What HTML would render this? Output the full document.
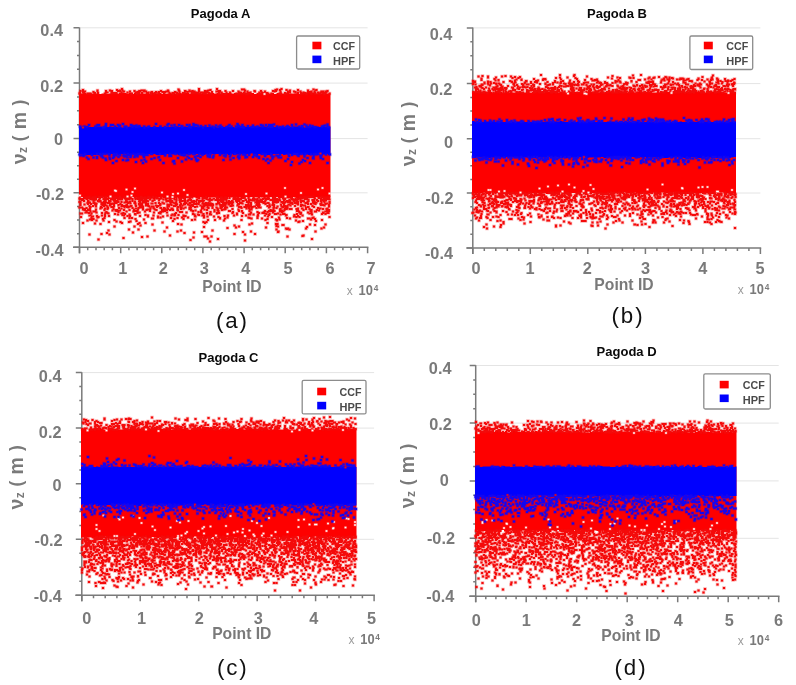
<!DOCTYPE html>
<html><head><meta charset="utf-8"><title>Pagoda residuals</title>
<style>
html,body{margin:0;padding:0;background:#fff;}
body{width:796px;height:685px;overflow:hidden;}
svg{display:block;font-family:"Liberation Sans",sans-serif;}
</style></head><body>
<svg width="796" height="685" viewBox="0 0 796 685">
<defs><filter id="aa" x="0" y="0" width="100%" height="100%" filterUnits="userSpaceOnUse"><feOffset dx="0" dy="0"/></filter></defs>
<rect width="796" height="685" fill="#fff"/>
<g filter="url(#aa)">
<g id="pA">
<line x1="79.5" y1="27.8" x2="367.6" y2="27.8" stroke="#e4e4e4" stroke-width="1"/>
<line x1="79.5" y1="83.1" x2="367.6" y2="83.1" stroke="#e4e4e4" stroke-width="1"/>
<line x1="79.5" y1="138.6" x2="367.6" y2="138.6" stroke="#e4e4e4" stroke-width="1"/>
<line x1="79.5" y1="192.8" x2="367.6" y2="192.8" stroke="#e4e4e4" stroke-width="1"/>
<g stroke="#7a7a7a" fill="none">
<line x1="79.5" y1="27.5" x2="79.5" y2="253.3" stroke-width="1.5"/>
<line x1="73.0" y1="247.3" x2="368.4" y2="247.3" stroke-width="1.6"/>
<path d="M73.5 27.8h6.0M73.5 83.1h6.0M73.5 138.6h6.0M73.5 192.8h6.0M73.5 247.3h6.0M77.0 41.6h2.5M77.0 55.5h2.5M77.0 69.3h2.5M77.0 97.0h2.5M77.0 110.8h2.5M77.0 124.7h2.5M77.0 152.2h2.5M77.0 165.7h2.5M77.0 179.2h2.5M77.0 206.4h2.5M77.0 220.1h2.5M77.0 233.7h2.5M79.5 247.3v6.0M87.7 247.3v3.0M96.0 247.3v3.0M104.2 247.3v3.0M112.4 247.3v3.0M120.7 247.3v6.0M128.9 247.3v3.0M137.1 247.3v3.0M145.3 247.3v3.0M153.6 247.3v3.0M161.8 247.3v6.0M170.0 247.3v3.0M178.3 247.3v3.0M186.5 247.3v3.0M194.7 247.3v3.0M202.9 247.3v6.0M211.2 247.3v3.0M219.4 247.3v3.0M227.6 247.3v3.0M235.9 247.3v3.0M244.1 247.3v6.0M252.3 247.3v3.0M260.6 247.3v3.0M268.8 247.3v3.0M277.0 247.3v3.0M285.2 247.3v6.0M293.5 247.3v3.0M301.7 247.3v3.0M309.9 247.3v3.0M318.2 247.3v3.0M326.4 247.3v6.0M334.6 247.3v3.0M342.9 247.3v3.0M351.1 247.3v3.0M359.3 247.3v3.0M367.6 247.3v6.0" stroke-width="1.5"/>
</g>
<g transform="scale(0.5)" fill="none" stroke-linecap="square">
<path d="M158 188V187H163V187H168V186H173V188H178V186H183V187H188V188H193V186H198V188H203V187H208V188H213V188H218V187H223V185H228V187H233V187H238V186H243V185H248V186H253V187H258V185H263V188H268V185H273V187H278V187H283V187H288V187H293V185H298V187H303V186H308V186H313V187H318V186H323V188H328V188H333V187H338V186H343V187H348V187H353V186H358V186H363V187H368V185H373V186H378V187H383V186H388V186H393V185H398V186H403V187H408V185H413V187H418V187H423V186H428V187H433V186H438V188H443V186H448V186H453V186H458V185H463V187H468V186H473V186H478V186H483V186H488V185H493V185H498V186H503V186H508V188H513V186H518V186H523V185H528V185H533V187H538V187H543V186H548V188H553V186H558V187H563V187H568V188H573V186H578V187H583V187H588V187H593V185H598V188H603V186H608V186H613V185H618V185H623V185H628V187H633V187H638V187H643V185H648V185H653V187H658V187H661V394V395H656V395H651V396H646V396H641V395H636V394H631V396H626V395H621V396H616V398H611V397H606V396H601V396H596V397H591V394H586V398H581V397H576V397H571V397H566V396H561V396H556V394H551V397H546V394H541V394H536V395H531V395H526V395H521V394H516V394H511V395H506V394H501V395H496V394H491V397H486V396H481V395H476V395H471V395H466V395H461V394H456V397H451V398H446V396H441V396H436V394H431V394H426V395H421V395H416V397H411V395H406V394H401V398H396V396H391V395H386V396H381V394H376V396H371V398H366V397H361V397H356V395H351V395H346V395H341V397H336V396H331V397H326V395H321V395H316V397H311V398H306V397H301V397H296V397H291V397H286V395H281V396H276V395H271V394H266V394H261V395H256V395H251V397H246V398H241V396H236V398H231V398H226V398H221V395H216V395H211V395H206V395H201V395H196V396H191V398H186V397H181V396H176V397H171V397H166V394H161V397H158Z" fill="#fe0000" stroke="none"/>
<defs><path id="d1" d="M551 180h0M398 178h0M554 179h0M560 180h0M357 179h0M633 180h0M244 178h0M234 180h0M563 178h0M573 180h0M488 179h0M434 178h0M166 180h0M484 179h0M627 179h0M596 180h0M285 181h0M279 182h0M289 181h0M224 182h0M336 181h0M451 182h0M370 182h0M410 182h0M421 180h0M379 181h0M161 182h0M245 181h0M522 182h0M322 182h0M437 182h0M212 182h0M283 181h0M546 182h0M440 182h0M616 181h0M466 182h0M415 182h0M385 182h0M398 182h0M509 182h0M631 181h0M439 182h0M580 181h0M220 181h0M195 181h0M195 182h0M552 182h0M236 182h0M490 181h0M601 183h0M269 182h0M358 181h0M655 182h0M240 181h0M417 181h0M318 184h0M168 184h0M379 183h0M325 184h0M415 183h0M653 184h0M646 183h0M292 183h0M549 183h0M224 184h0M616 184h0M288 183h0M619 184h0M510 183h0M187 184h0M372 183h0M629 184h0M561 183h0M588 183h0M591 184h0M329 184h0M623 183h0M223 184h0M278 183h0M240 183h0M260 183h0M312 184h0M304 184h0M248 183h0M168 183h0M166 184h0M435 183h0M397 185h0M212 184h0M375 184h0M577 183h0M413 184h0M651 183h0M576 184h0M477 183h0M333 183h0M224 183h0M530 183h0M240 183h0M580 185h0M495 183h0M280 183h0M389 183h0M382 183h0M641 185h0M433 183h0M643 183h0M337 183h0M350 184h0M411 183h0M412 183h0M291 183h0M359 183h0M170 183h0M275 184h0M424 184h0M518 187h0M354 186h0M652 185h0M522 187h0M181 187h0M606 187h0M527 187h0M228 186h0M411 187h0M562 187h0M451 188h0M501 187h0M274 185h0M225 186h0M211 187h0M439 187h0M473 187h0M404 185h0M559 187h0M411 186h0M489 185h0M528 186h0M196 186h0M524 185h0M530 188h0M406 186h0M399 187h0M543 187h0M481 185h0M233 186h0M531 186h0M443 185h0M189 186h0M496 187h0M497 186h0M418 186h0M392 185h0M607 185h0M649 188h0M167 186h0M570 188h0M384 186h0M264 188h0M264 187h0M230 186h0M636 185h0M570 186h0M603 187h0M275 188h0M402 185h0M160 186h0M385 186h0M229 186h0M317 187h0M159 187h0M579 185h0M623 187h0M611 186h0M345 186h0M659 187h0M339 186h0M297 185h0M210 187h0M302 188h0M284 186h0M415 185h0M346 188h0M602 187h0M475 188h0M630 186h0M519 185h0M526 186h0M536 187h0M302 185h0M623 185h0M395 186h0M308 187h0M648 186h0M488 186h0M438 186h0M243 185h0M263 188h0M408 185h0M613 188h0M384 185h0M255 185h0M330 185h0M278 186h0M444 187h0M534 186h0M366 186h0M348 186h0M190 186h0M644 185h0M411 187h0M591 185h0M294 186h0M359 186h0M637 187h0M596 185h0M175 187h0M608 186h0M453 185h0M355 188h0M573 187h0M646 186h0M213 185h0M421 187h0M631 187h0M483 187h0M388 186h0M178 187h0M275 188h0M482 186h0M223 186h0M478 187h0M215 185h0M422 187h0M353 185h0M460 185h0M310 186h0M639 187h0M602 186h0M276 186h0M640 187h0M313 185h0M408 187h0M369 186h0M493 188h0M272 185h0M328 186h0M501 185h0M174 395h0M566 396h0M179 394h0M190 396h0M287 396h0M609 395h0M295 396h0M468 395h0M518 395h0M297 394h0M537 396h0M476 396h0M171 395h0M397 396h0M637 395h0M284 395h0M406 396h0M250 396h0M529 396h0M546 395h0M323 395h0M340 396h0M198 394h0M536 395h0M191 394h0M436 395h0M650 396h0M654 395h0M201 394h0M409 396h0M383 395h0M368 395h0M497 396h0M583 396h0M219 396h0M306 395h0M346 396h0M258 395h0M282 394h0M602 395h0M322 395h0M656 395h0M275 396h0M486 396h0M210 395h0M569 396h0M617 394h0M306 394h0M254 396h0M451 396h0M345 396h0M384 395h0M549 396h0M212 395h0M469 395h0M343 394h0M261 395h0M459 396h0M261 394h0M323 396h0M251 395h0M261 396h0M433 394h0M209 395h0M434 396h0M204 394h0M507 395h0M301 395h0M637 395h0M443 395h0M367 396h0M658 395h0M257 396h0M261 394h0M611 395h0M570 395h0M601 395h0M240 394h0M435 396h0M615 394h0M471 395h0M412 394h0M301 395h0M623 394h0M405 396h0M643 394h0M222 396h0M648 395h0M185 396h0M353 396h0M470 396h0M239 396h0M270 395h0M583 396h0M250 395h0M359 395h0M351 394h0M282 396h0M609 394h0M441 396h0M178 396h0M218 395h0M434 396h0M312 395h0M451 395h0M489 395h0M378 394h0M469 395h0M277 396h0M550 395h0M249 395h0M212 394h0M375 394h0M380 395h0M179 396h0M200 396h0M549 395h0M186 395h0M348 396h0M227 396h0M658 396h0M567 394h0M651 395h0M638 396h0M241 396h0M625 394h0M335 396h0M238 396h0M296 396h0M231 395h0M620 394h0M290 395h0M177 397h0M239 399h0M499 399h0M243 399h0M216 398h0M478 398h0M596 398h0M449 399h0M211 400h0M474 398h0M559 397h0M655 398h0M339 399h0M380 397h0M531 397h0M570 397h0M479 400h0M452 399h0M315 396h0M176 397h0M467 398h0M416 399h0M225 397h0M486 396h0M160 398h0M212 398h0M271 398h0M454 397h0M471 398h0M226 399h0M281 397h0M207 398h0M595 399h0M360 397h0M164 398h0M441 398h0M482 398h0M628 399h0M283 399h0M181 398h0M362 397h0M188 399h0M165 398h0M630 397h0M259 398h0M413 398h0M566 397h0M314 397h0M183 399h0M551 399h0M162 399h0M532 398h0M531 398h0M272 397h0M275 397h0M327 399h0M507 399h0M515 397h0M436 398h0M554 398h0M292 398h0M643 397h0M600 396h0M289 397h0M532 399h0M533 397h0M600 397h0M279 399h0M475 399h0M492 400h0M394 399h0M508 399h0M378 399h0M445 397h0M265 398h0M198 399h0M231 396h0M212 399h0M332 397h0M173 397h0M506 398h0M508 399h0M192 398h0M341 399h0M570 399h0M192 399h0M617 399h0M212 397h0M215 397h0M584 399h0M477 399h0M475 397h0M209 397h0M538 397h0M319 398h0M169 397h0M300 399h0M343 397h0M642 398h0M585 398h0M174 398h0M377 399h0M332 399h0M428 397h0M591 397h0M570 397h0M159 397h0M541 400h0M161 398h0M405 399h0M251 398h0M333 399h0M289 399h0M301 397h0M509 398h0M214 398h0M199 399h0M508 399h0M473 398h0M360 398h0M605 397h0M604 396h0M262 397h0M610 398h0M349 399h0M276 398h0M425 399h0M536 398h0M333 397h0M236 399h0M491 399h0M244 398h0M546 398h0M222 398h0M602 397h0M255 397h0M511 399h0M236 397h0M283 397h0M420 397h0M323 397h0M648 399h0M210 399h0M210 398h0M652 399h0M526 398h0M257 398h0M212 397h0M353 397h0M359 399h0M506 398h0M476 398h0M230 398h0M362 399h0M614 398h0M446 399h0M370 397h0M521 399h0M547 399h0M586 399h0M480 398h0M474 400h0M369 402h0M516 402h0M284 401h0M387 402h0M364 402h0M625 400h0M487 402h0M353 401h0M647 400h0M431 400h0M551 403h0M419 400h0M447 401h0M518 401h0M479 402h0M420 401h0M634 400h0M502 401h0M541 400h0M652 401h0M187 400h0M359 400h0M368 401h0M509 401h0M292 400h0M530 403h0M423 400h0M560 401h0M265 400h0M548 402h0M477 401h0M440 400h0M642 401h0M479 402h0M568 401h0M306 401h0M221 402h0M336 402h0M293 401h0M286 401h0M252 400h0M521 400h0M281 401h0M399 401h0M478 402h0M340 403h0M587 400h0M574 402h0M552 400h0M575 402h0M166 400h0M636 402h0M284 400h0M230 400h0M548 401h0M235 402h0M556 400h0M605 402h0M550 402h0M607 402h0M579 400h0M506 401h0M531 401h0M601 401h0M291 400h0M228 401h0M188 401h0M231 401h0M408 401h0M591 400h0M580 401h0M441 402h0M580 401h0M369 403h0M196 402h0M478 400h0M464 402h0M626 401h0M651 401h0M402 402h0M176 402h0M472 401h0M591 401h0M397 401h0M545 400h0M377 401h0M436 402h0M305 402h0M361 401h0M295 401h0M647 402h0M556 401h0M318 401h0M453 402h0M552 400h0M521 402h0M432 400h0M309 400h0M254 403h0M464 402h0M554 403h0M465 402h0M473 402h0M458 402h0M265 402h0M388 402h0M209 400h0M177 402h0M617 402h0M344 402h0M553 401h0M288 401h0M370 401h0M375 402h0M627 400h0M443 400h0M218 402h0M447 403h0M382 400h0M353 401h0M629 403h0M397 401h0M210 402h0M265 400h0M166 400h0M501 400h0M643 400h0M595 400h0M168 402h0M280 402h0M253 400h0M547 402h0M588 402h0M201 402h0M514 401h0M626 400h0M642 402h0M164 400h0M485 402h0M199 401h0M524 400h0M590 401h0M189 401h0M447 401h0M498 400h0M341 405h0M474 404h0M352 405h0M632 405h0M443 404h0M189 406h0M511 405h0M325 405h0M649 405h0M460 404h0M373 406h0M347 405h0M460 406h0M563 404h0M159 404h0M370 405h0M568 406h0M180 405h0M566 406h0M445 404h0M585 405h0M502 406h0M333 403h0M436 405h0M259 405h0M626 404h0M463 405h0M392 403h0M286 405h0M556 404h0M203 405h0M546 404h0M449 406h0M602 404h0M398 405h0M253 403h0M249 405h0M341 405h0M360 404h0M233 403h0M659 404h0M212 405h0M553 403h0M458 404h0M419 403h0M175 406h0M593 404h0M443 404h0M549 404h0M633 405h0M569 406h0M286 403h0M259 403h0M201 403h0M438 406h0M388 406h0M615 403h0M458 404h0M219 406h0M288 405h0M480 406h0M494 404h0M383 403h0M643 406h0M270 403h0M287 404h0M611 406h0M578 403h0M553 405h0M483 406h0M187 403h0M537 406h0M498 404h0M455 405h0M211 404h0M287 403h0M400 403h0M278 403h0M498 403h0M518 403h0M177 406h0M269 406h0M593 406h0M229 404h0M207 406h0M581 405h0M385 404h0M571 404h0M474 403h0M270 403h0M516 405h0M231 406h0M292 404h0M237 404h0M580 404h0M243 404h0M318 406h0M216 406h0M187 406h0M494 403h0M398 404h0M288 403h0M341 406h0M659 406h0M208 404h0M608 403h0M523 404h0M649 403h0M563 404h0M229 403h0M576 404h0M252 404h0M616 403h0M445 403h0M249 405h0M515 403h0M198 403h0M464 404h0M296 403h0M466 405h0M566 405h0M260 403h0M526 404h0M520 403h0M565 404h0M581 406h0M406 403h0M615 404h0M596 404h0M252 405h0M343 403h0M345 405h0M161 404h0M417 406h0M517 408h0M593 407h0M515 407h0M535 406h0M596 409h0M407 408h0M425 408h0M169 409h0M271 407h0M210 407h0M568 406h0M207 408h0M256 406h0M459 408h0M421 408h0M210 409h0M518 406h0M220 407h0M410 407h0M220 407h0M227 408h0M590 406h0M446 408h0M241 408h0M629 407h0M369 409h0M422 407h0M631 408h0M328 407h0M327 407h0M651 408h0M616 408h0M584 406h0M418 409h0M627 407h0M370 408h0M341 408h0M193 407h0M412 406h0M228 409h0M548 409h0M476 408h0M602 409h0M176 408h0M292 408h0M296 408h0M622 408h0M284 408h0M376 409h0M303 407h0M483 406h0M457 409h0M416 407h0M392 408h0M233 406h0M224 407h0M362 407h0M281 406h0M433 409h0M464 408h0M485 407h0M515 407h0M433 408h0M394 407h0M280 407h0M416 407h0M452 406h0M335 409h0M278 408h0M405 407h0M654 407h0M546 406h0M192 409h0M379 406h0M353 407h0M527 406h0M271 409h0M529 406h0M328 407h0M497 408h0M585 408h0M418 408h0M531 408h0M397 408h0M514 409h0M222 409h0M161 408h0M452 407h0M641 408h0M368 408h0M596 408h0M349 407h0M388 408h0M305 407h0M437 407h0M320 408h0M585 407h0M381 407h0M311 406h0M447 408h0M203 409h0M321 409h0M579 409h0M261 407h0M615 406h0M182 408h0M408 409h0M546 408h0M418 411h0M502 410h0M338 411h0M335 412h0M498 411h0M208 410h0M360 411h0M446 412h0M642 410h0M379 411h0M658 410h0M424 411h0M244 410h0M649 411h0M416 409h0M607 411h0M570 412h0M604 410h0M237 410h0M415 411h0M253 410h0M475 411h0M336 412h0M478 409h0M365 411h0M312 411h0M161 410h0M581 411h0M494 410h0M408 411h0M292 411h0M425 412h0M447 410h0M220 409h0M539 409h0M209 410h0M421 411h0M466 411h0M190 409h0M545 410h0M517 410h0M244 410h0M208 412h0M451 410h0M384 410h0M186 412h0M451 412h0M379 411h0M284 409h0M625 412h0M316 412h0M568 410h0M461 412h0M407 412h0M280 410h0M519 410h0M314 412h0M401 411h0M281 410h0M338 410h0M646 410h0M440 409h0M426 410h0M361 409h0M220 411h0M335 410h0M254 410h0M278 409h0M492 410h0M237 411h0M205 410h0M577 409h0M381 412h0M562 409h0M336 411h0M348 412h0M263 412h0M412 410h0M386 409h0M513 410h0M610 411h0M343 410h0M464 410h0M596 409h0M416 411h0M294 411h0M352 411h0M443 410h0M354 409h0M247 412h0M320 411h0M213 411h0M409 413h0M192 413h0M272 412h0M518 413h0M361 415h0M547 415h0M590 412h0M297 412h0M499 414h0M335 413h0M489 414h0M283 415h0M335 414h0M250 412h0M616 414h0M516 412h0M179 412h0M258 413h0M350 412h0M314 414h0M249 415h0M444 414h0M286 413h0M502 413h0M159 415h0M548 413h0M180 415h0M463 412h0M281 412h0M555 413h0M617 414h0M202 414h0M356 414h0M574 413h0M204 415h0M371 415h0M505 414h0M575 414h0M386 412h0M509 413h0M415 415h0M223 414h0M181 414h0M563 413h0M433 415h0M478 414h0M284 412h0M338 413h0M260 413h0M227 414h0M495 413h0M280 414h0M382 415h0M335 413h0M602 412h0M441 413h0M567 414h0M540 413h0M493 414h0M390 414h0M575 412h0M304 413h0M262 412h0M299 413h0M510 413h0M215 413h0M394 413h0M243 412h0M164 415h0M535 412h0M518 415h0M441 412h0M404 413h0M254 414h0M163 415h0M482 414h0M628 414h0M285 413h0M228 412h0M547 415h0M307 413h0M583 418h0M243 417h0M575 417h0M322 416h0M572 416h0M343 417h0M344 417h0M279 415h0M443 417h0M570 417h0M612 418h0M406 416h0M238 416h0M450 415h0M504 415h0M381 418h0M204 415h0M379 416h0M521 415h0M580 418h0M553 416h0M301 417h0M417 416h0M328 416h0M493 417h0M612 415h0M307 416h0M441 416h0M257 415h0M321 416h0M646 418h0M593 418h0M641 417h0M565 415h0M498 417h0M308 417h0M636 416h0M483 416h0M331 418h0M173 416h0M499 416h0M201 417h0M345 417h0M367 417h0M442 416h0M216 416h0M605 417h0M215 418h0M286 415h0M425 416h0M404 417h0M272 417h0M215 417h0M454 415h0M363 415h0M379 418h0M435 417h0M538 415h0M655 417h0M210 417h0M355 416h0M640 417h0M547 415h0M548 415h0M277 416h0M166 417h0M265 416h0M513 416h0M604 417h0M596 417h0M619 418h0M243 417h0M330 417h0M573 418h0M346 420h0M634 420h0M180 420h0M209 420h0M561 418h0M623 420h0M286 419h0M383 421h0M450 418h0M169 418h0M560 419h0M436 419h0M503 419h0M231 421h0M429 420h0M564 421h0M166 419h0M234 420h0M596 421h0M176 419h0M569 420h0M355 420h0M238 421h0M356 421h0M465 418h0M324 419h0M607 420h0M180 419h0M340 420h0M448 419h0M336 418h0M449 419h0M169 420h0M653 418h0M232 420h0M295 419h0M409 419h0M444 420h0M638 421h0M176 420h0M545 421h0M547 420h0M477 419h0M300 421h0M596 421h0M500 419h0M541 420h0M414 420h0M334 420h0M362 418h0M328 419h0M654 420h0M343 419h0M276 419h0M227 418h0M595 420h0M382 420h0M310 419h0M192 419h0M313 420h0M435 421h0M329 421h0M451 418h0M248 420h0M654 419h0M547 419h0M594 418h0M402 421h0M297 419h0M170 419h0M293 420h0M268 419h0M259 420h0M484 422h0M527 425h0M460 422h0M564 424h0M330 422h0M253 423h0M598 423h0M621 422h0M322 424h0M484 423h0M499 422h0M187 423h0M181 423h0M326 423h0M458 422h0M391 421h0M623 423h0M654 422h0M466 424h0M324 422h0M237 422h0M543 422h0M567 423h0M429 423h0M437 424h0M460 422h0M530 422h0M515 424h0M548 422h0M546 425h0M386 422h0M421 424h0M225 421h0M397 424h0M547 423h0M655 422h0M538 422h0M173 422h0M189 423h0M437 422h0M630 423h0M233 422h0M529 424h0M240 421h0M549 422h0M651 423h0M478 422h0M560 423h0M321 424h0M213 424h0M191 423h0M360 424h0M189 423h0M364 424h0M632 423h0M271 422h0M290 423h0M275 422h0M539 423h0M308 425h0M267 423h0M237 424h0M594 422h0M535 424h0M300 422h0M402 424h0M501 427h0M386 427h0M601 425h0M602 426h0M550 428h0M250 428h0M657 426h0M171 425h0M647 425h0M616 425h0M528 425h0M243 427h0M204 426h0M619 427h0M601 428h0M175 425h0M556 427h0M178 426h0M275 426h0M211 425h0M655 426h0M599 425h0M403 425h0M373 425h0M502 425h0M529 426h0M215 426h0M407 428h0M334 425h0M644 428h0M525 426h0M247 426h0M193 425h0M414 426h0M438 426h0M164 427h0M486 426h0M434 427h0M651 428h0M518 426h0M318 426h0M646 426h0M352 426h0M230 428h0M161 427h0M623 426h0M465 426h0M279 425h0M217 427h0M552 428h0M183 427h0M321 427h0M434 426h0M646 425h0M533 428h0M414 427h0M657 425h0M474 427h0M516 429h0M422 429h0M498 429h0M474 429h0M271 429h0M291 430h0M396 429h0M420 429h0M270 428h0M624 429h0M421 429h0M566 428h0M245 430h0M389 429h0M573 430h0M594 428h0M350 430h0M569 428h0M236 429h0M210 429h0M561 429h0M386 428h0M357 430h0M507 429h0M398 430h0M539 428h0M500 429h0M420 428h0M345 429h0M350 428h0M259 429h0M248 431h0M296 431h0M280 432h0M204 431h0M589 430h0M371 432h0M468 431h0M181 431h0M343 431h0M307 431h0M484 432h0M335 431h0M449 432h0M255 432h0M516 431h0M492 431h0M194 432h0M349 431h0M408 432h0M538 430h0M456 431h0M390 432h0M367 431h0M605 431h0M405 431h0M572 431h0M530 431h0M179 431h0M544 434h0M218 432h0M197 434h0M210 432h0M536 433h0M186 433h0M515 433h0M186 433h0M368 433h0M659 434h0M596 432h0M326 433h0M162 434h0M296 433h0M316 433h0M589 433h0M415 433h0M184 433h0M593 434h0M588 433h0M260 432h0M428 433h0M391 433h0M342 436h0M259 436h0M437 434h0M316 435h0M364 435h0M321 435h0M558 435h0M515 436h0M455 435h0M627 435h0M599 434h0M376 435h0M183 436h0M195 435h0M249 436h0M440 436h0M408 435h0M497 435h0M264 436h0M619 437h0M209 436h0M552 439h0M367 438h0M288 439h0M503 437h0M187 438h0M180 439h0M306 437h0M450 437h0M440 437h0M616 437h0M580 437h0M559 439h0M355 436h0M349 438h0M271 438h0M206 438h0M524 437h0M499 436h0M574 436h0M622 439h0M630 438h0M304 437h0M535 438h0M625 436h0M592 441h0M430 440h0M229 440h0M606 442h0M273 442h0M175 441h0M644 440h0M632 442h0M184 440h0M384 440h0M531 440h0M554 440h0M193 441h0M207 441h0M554 441h0M390 439h0M416 440h0M483 440h0M448 441h0M346 442h0M244 446h0M325 445h0M597 444h0M233 443h0M599 443h0M407 444h0M218 444h0M241 444h0M413 444h0M258 444h0M261 443h0M279 446h0M410 446h0M166 446h0M555 448h0M504 447h0M535 446h0M291 446h0M356 448h0M305 449h0M201 448h0M276 448h0M552 448h0M190 447h0M651 449h0M469 451h0M567 450h0M565 450h0M620 449h0M630 450h0M363 449h0M281 451h0M499 449h0M229 453h0M269 453h0M648 455h0M556 453h0M408 454h0M614 454h0M478 453h0M472 455h0M553 452h0M334 455h0M643 457h0M532 455h0M574 458h0M612 457h0M576 457h0M455 456h0M572 457h0M309 461h0M425 461h0M217 461h0M553 459h0M579 459h0M258 459h0M277 459h0M502 463h0M355 463h0M557 463h0M631 463h0M362 461h0M486 464h0M329 463h0M556 464h0M404 464h0M214 466h0M369 466h0M388 465h0M266 465h0M469 468h0M203 468h0M510 468h0M490 469h0M219 469h0M179 469h0M295 473h0M340 471h0M605 472h0M607 471h0M409 473h0M413 473h0M575 473h0M423 473h0M247 476h0M387 475h0M284 474h0M436 478h0M416 477h0M624 478h0M197 479h0M381 480h0M490 481h0M420 483h0M658 398h0M659 399h0M658 413h0M658 420h0M658 422h0"/></defs>
<use href="#d1" stroke="#f40a0a" stroke-width="7" opacity="0.32"/>
<use href="#d1" stroke="#f40a0a" stroke-width="4.4"/>
<defs><path id="d2" d="M529 188h0M645 376h0M570 376h0M270 377h0M636 379h0M253 379h0M368 380h0M232 382h0M265 384h0M230 381h0M356 387h0M602 386h0M659 387h0M324 385h0M533 387h0M492 388h0M346 388h0M160 391h0M335 393h0M221 393h0M263 391h0M571 393h0M375 390h0M345 394h0M255 393h0"/></defs>
<use href="#d2" stroke="#ffffff" stroke-width="5.4" opacity="0.3"/>
<use href="#d2" stroke="#ffffff" stroke-width="3.4"/>
<path d="M158 255V254H163V253H168V253H173V253H178V254H183V254H188V253H193V253H198V253H203V254H208V254H213V254H218V253H223V254H228V253H233V254H238V254H243V255H248V254H253V254H258V253H263V253H268V254H273V254H278V253H283V254H288V254H293V254H298V254H303V254H308V254H313V254H318V253H323V254H328V254H333V253H338V254H343V253H348V253H353V253H358V254H363V254H368V253H373V254H378V254H383V253H388V253H393V254H398V254H403V253H408V254H413V254H418V253H423V254H428V253H433V255H438V253H443V254H448V254H453V253H458V254H463V254H468V255H473V254H478V253H483V253H488V254H493V253H498V254H503V254H508V253H513V253H518V253H523V253H528V253H533V254H538V253H543V253H548V254H553V254H558V253H563V254H568V254H573V253H578V254H583V254H588V253H593V253H598V254H603V254H608V255H613V254H618V254H623V253H628V253H633V253H638V254H643V253H648V254H653V253H658V253H661V307V310H656V308H651V309H646V310H641V309H636V310H631V310H626V310H621V310H616V309H611V310H606V308H601V310H596V310H591V309H586V308H581V308H576V309H571V310H566V308H561V308H556V308H551V308H546V309H541V310H536V310H531V309H526V310H521V308H516V310H511V308H506V307H501V309H496V308H491V308H486V308H481V309H476V309H471V310H466V308H461V310H456V308H451V308H446V309H441V308H436V308H431V309H426V308H421V310H416V308H411V310H406V310H401V309H396V308H391V310H386V308H381V309H376V309H371V308H366V309H361V310H356V309H351V309H346V309H341V309H336V308H331V310H326V310H321V310H316V310H311V308H306V310H301V308H296V309H291V308H286V309H281V310H276V310H271V309H266V308H261V308H256V309H251V308H246V308H241V310H236V309H231V309H226V308H221V310H216V308H211V308H206V309H201V310H196V310H191V310H186V310H181V310H176V310H171V310H166V308H161V308H158Z" fill="#0000fe" stroke="none"/>
<defs><path id="d3" d="M592 249h0M475 248h0M337 248h0M476 250h0M312 248h0M246 248h0M609 249h0M387 248h0M212 248h0M548 249h0M655 249h0M397 253h0M223 250h0M441 251h0M264 251h0M169 253h0M515 253h0M650 251h0M526 251h0M566 253h0M226 250h0M266 252h0M349 250h0M575 252h0M391 250h0M604 252h0M194 251h0M472 253h0M402 252h0M262 250h0M613 251h0M211 252h0M222 250h0M387 252h0M478 252h0M379 250h0M522 250h0M395 251h0M496 252h0M279 252h0M506 251h0M230 253h0M459 250h0M278 253h0M273 251h0M554 253h0M476 252h0M178 250h0M648 252h0M178 250h0M279 253h0M269 252h0M625 252h0M620 251h0M236 250h0M538 250h0M647 252h0M252 253h0M240 251h0M212 252h0M605 253h0M160 253h0M437 253h0M411 252h0M457 252h0M198 250h0M432 251h0M358 250h0M532 250h0M575 253h0M388 250h0M485 250h0M374 250h0M648 252h0M335 250h0M525 253h0M584 250h0M343 251h0M541 250h0M463 253h0M544 250h0M196 250h0M506 252h0M419 251h0M363 252h0M484 253h0M558 255h0M578 254h0M174 254h0M585 254h0M599 253h0M631 254h0M513 254h0M309 254h0M321 253h0M381 255h0M487 255h0M541 254h0M657 254h0M296 254h0M365 253h0M274 254h0M620 254h0M545 254h0M605 254h0M425 253h0M572 254h0M473 254h0M428 255h0M239 254h0M484 254h0M629 254h0M617 254h0M644 253h0M265 254h0M613 253h0M289 254h0M655 253h0M378 254h0M505 254h0M536 254h0M288 253h0M505 254h0M289 255h0M481 254h0M488 254h0M507 254h0M191 253h0M166 254h0M230 253h0M406 255h0M503 254h0M544 253h0M209 254h0M364 254h0M382 254h0M206 255h0M330 254h0M174 254h0M272 254h0M561 254h0M298 253h0M254 255h0M238 254h0M453 254h0M249 253h0M207 255h0M351 254h0M444 254h0M228 309h0M285 308h0M421 308h0M283 309h0M302 308h0M542 308h0M256 308h0M351 308h0M480 309h0M595 308h0M491 310h0M276 308h0M378 308h0M389 309h0M206 308h0M399 308h0M274 309h0M218 308h0M340 309h0M628 309h0M194 308h0M532 309h0M595 310h0M589 308h0M632 309h0M279 308h0M592 308h0M200 308h0M622 309h0M525 308h0M386 308h0M262 309h0M340 308h0M652 309h0M249 307h0M486 309h0M171 309h0M530 309h0M276 309h0M462 309h0M231 310h0M633 309h0M588 308h0M611 308h0M272 309h0M611 308h0M267 308h0M379 308h0M255 309h0M451 310h0M360 309h0M165 310h0M275 309h0M415 310h0M405 310h0M470 308h0M577 308h0M660 309h0M272 310h0M320 308h0M331 309h0M170 308h0M240 310h0M159 309h0M288 309h0M440 309h0M228 308h0M219 310h0M233 308h0M420 309h0M603 308h0M276 308h0M452 309h0M364 310h0M490 310h0M638 308h0M631 308h0M184 310h0M211 308h0M304 308h0M643 310h0M369 309h0M584 310h0M486 309h0M217 308h0M489 309h0M609 313h0M255 310h0M609 312h0M250 312h0M287 311h0M342 312h0M498 310h0M530 312h0M395 312h0M560 310h0M397 312h0M514 312h0M249 313h0M553 311h0M375 313h0M262 311h0M641 313h0M275 312h0M339 312h0M543 310h0M270 311h0M292 310h0M227 311h0M370 310h0M451 313h0M448 311h0M512 311h0M247 311h0M167 312h0M239 311h0M641 312h0M578 312h0M477 312h0M643 311h0M543 311h0M287 312h0M460 313h0M597 312h0M258 310h0M427 312h0M295 310h0M161 311h0M508 310h0M274 311h0M515 313h0M168 310h0M627 313h0M233 311h0M420 311h0M368 311h0M288 310h0M201 310h0M204 312h0M508 311h0M556 312h0M330 311h0M253 313h0M440 310h0M506 314h0M518 314h0M558 315h0M206 315h0M255 315h0M562 315h0M275 313h0M491 315h0M228 314h0M451 313h0M476 314h0M288 314h0M426 315h0M174 315h0M269 314h0M479 315h0M467 316h0M261 314h0M491 314h0M237 314h0M545 315h0M518 316h0M557 314h0M317 315h0M187 315h0M203 313h0M416 313h0M626 316h0M390 314h0M219 315h0M420 314h0M518 315h0M547 313h0M194 314h0M401 314h0M494 314h0M318 314h0M545 317h0M383 318h0M627 317h0M211 317h0M478 317h0M177 318h0M615 316h0M392 317h0M309 316h0M535 318h0M378 316h0M356 316h0M642 316h0M303 318h0M226 316h0M194 316h0M576 318h0M246 320h0M372 319h0M220 318h0M646 318h0M289 319h0M606 320h0M396 320h0M461 319h0M392 319h0M527 318h0M256 320h0M212 320h0M283 321h0M394 322h0M233 322h0M320 320h0M532 321h0M253 321h0M571 322h0M447 320h0M541 321h0M610 322h0M584 324h0M292 323h0M346 323h0M348 322h0M272 324h0M364 323h0M603 324h0M620 326h0M655 326h0M537 326h0M286 326h0M349 327h0M226 326h0M327 326h0M582 330h0M599 327h0"/></defs>
<use href="#d3" stroke="#1206f2" stroke-width="7" opacity="0.32"/>
<use href="#d3" stroke="#1206f2" stroke-width="4.4"/>
<defs><path id="d4" d="M166 255h0M641 307h0"/></defs>
<use href="#d4" stroke="#f40a0a" stroke-width="5.4" opacity="0.3"/>
<use href="#d4" stroke="#f40a0a" stroke-width="3.4"/>
</g>
<g fill="#7a7a7a" font-weight="bold" font-size="16.3">
<text x="63.0" y="35.9" text-anchor="end">0.4</text>
<text x="63.0" y="91.5" text-anchor="end">0.2</text>
<text x="63.0" y="144.8" text-anchor="end">0</text>
<text x="64.0" y="200.3" text-anchor="end">-0.2</text>
<text x="63.6" y="256.0" text-anchor="end">-0.4</text>
<text x="84.1" y="274.1" text-anchor="middle">0</text>
<text x="122.9" y="274.1" text-anchor="middle">1</text>
<text x="163.3" y="274.1" text-anchor="middle">2</text>
<text x="204.4" y="274.1" text-anchor="middle">3</text>
<text x="245.8" y="274.1" text-anchor="middle">4</text>
<text x="288.0" y="274.1" text-anchor="middle">5</text>
<text x="330.0" y="274.1" text-anchor="middle">6</text>
<text x="371.0" y="274.1" text-anchor="middle">7</text>
</g>
<text x="232.0" y="292.0" text-anchor="middle" fill="#7a7a7a" font-weight="bold" font-size="15.7">Point ID</text>
<text x="346.7" y="294.7" fill="#9c9c9c" font-size="12">x</text>
<text transform="translate(358.6 294.7) scale(0.92 1)" fill="#7a7a7a" font-weight="bold" font-size="14">10<tspan dy="-3.4" dx="0.8" font-size="9">4</tspan></text>
<text transform="translate(25.7 132.0) rotate(-90)" text-anchor="middle" fill="#7a7a7a" font-weight="bold" font-size="19.5" textLength="64.5" lengthAdjust="spacing">ν<tspan font-size="12" dy="1">z</tspan><tspan dy="-2.2" font-size="17.5"> (</tspan><tspan dy="1.2"> m </tspan><tspan dy="-1.2" font-size="17.5">)</tspan></text>
<text x="220.6" y="18.3" text-anchor="middle" fill="#0a0a0a" font-weight="bold" font-size="13">Pagoda A</text>
<text x="232.4" y="328.0" text-anchor="middle" fill="#111" font-size="22.3" letter-spacing="1.9">(a)</text>
<rect x="296.6" y="36.0" width="63.1" height="33.0" rx="1.5" fill="#fff" stroke="#8c8c8c" stroke-width="1.3"/>
<rect x="312.4" y="41.7" width="9" height="7.6" fill="#fe0000"/>
<rect x="312.4" y="55.6" width="9" height="7.6" fill="#0000fe"/>
<g fill="#4a4a4a" font-weight="bold" font-size="10.5">
<text x="333.0" y="50.0" textLength="22" lengthAdjust="spacingAndGlyphs">CCF</text>
<text x="333.0" y="65.0" textLength="22" lengthAdjust="spacingAndGlyphs">HPF</text>
</g>
</g>
<g id="pB">
<line x1="472.8" y1="27.9" x2="760.4" y2="27.9" stroke="#e4e4e4" stroke-width="1"/>
<line x1="472.8" y1="83.6" x2="760.4" y2="83.6" stroke="#e4e4e4" stroke-width="1"/>
<line x1="472.8" y1="138.7" x2="760.4" y2="138.7" stroke="#e4e4e4" stroke-width="1"/>
<line x1="472.8" y1="193.0" x2="760.4" y2="193.0" stroke="#e4e4e4" stroke-width="1"/>
<g stroke="#7a7a7a" fill="none">
<line x1="472.8" y1="27.6" x2="472.8" y2="254.0" stroke-width="1.5"/>
<line x1="466.3" y1="248.0" x2="761.2" y2="248.0" stroke-width="1.6"/>
<path d="M466.8 27.9h6.0M466.8 83.6h6.0M466.8 138.7h6.0M466.8 193.0h6.0M466.8 248.0h6.0M470.3 41.8h2.5M470.3 55.8h2.5M470.3 69.7h2.5M470.3 97.4h2.5M470.3 111.1h2.5M470.3 124.9h2.5M470.3 152.3h2.5M470.3 165.8h2.5M470.3 179.4h2.5M470.3 206.8h2.5M470.3 220.5h2.5M470.3 234.2h2.5M472.8 248.0v6.0M484.3 248.0v3.0M495.8 248.0v3.0M507.3 248.0v3.0M518.8 248.0v3.0M530.3 248.0v6.0M541.8 248.0v3.0M553.3 248.0v3.0M564.8 248.0v3.0M576.3 248.0v3.0M587.8 248.0v6.0M599.3 248.0v3.0M610.8 248.0v3.0M622.4 248.0v3.0M633.9 248.0v3.0M645.4 248.0v6.0M656.9 248.0v3.0M668.4 248.0v3.0M679.9 248.0v3.0M691.4 248.0v3.0M702.9 248.0v6.0M714.4 248.0v3.0M725.9 248.0v3.0M737.4 248.0v3.0M748.9 248.0v3.0M760.4 248.0v6.0" stroke-width="1.5"/>
</g>
<g transform="scale(0.5)" fill="none" stroke-linecap="square">
<path d="M944 186V183H949V183H954V184H959V184H964V185H969V183H974V184H979V184H984V185H989V183H994V183H999V183H1004V185H1009V185H1014V185H1019V185H1024V185H1029V185H1034V183H1039V185H1044V185H1049V185H1054V183H1059V185H1064V184H1069V184H1074V183H1079V183H1084V185H1089V184H1094V183H1099V184H1104V183H1109V183H1114V185H1119V183H1124V184H1129V185H1134V184H1139V183H1144V184H1149V184H1154V184H1159V183H1164V184H1169V185H1174V184H1179V184H1184V183H1189V183H1194V185H1199V183H1204V185H1209V184H1214V184H1219V183H1224V184H1229V185H1234V184H1239V183H1244V183H1249V184H1254V185H1259V183H1264V183H1269V185H1274V183H1279V183H1284V184H1289V184H1294V183H1299V183H1304V185H1309V185H1314V185H1319V183H1324V185H1329V184H1334V184H1339V184H1344V185H1349V183H1354V183H1359V184H1364V183H1369V185H1374V183H1379V184H1384V183H1389V183H1394V184H1399V183H1404V185H1409V185H1414V184H1419V183H1424V183H1429V183H1434V184H1439V183H1444V184H1449V185H1454V184H1459V183H1464V184H1469V184H1472V385V386H1467V386H1462V387H1457V387H1452V387H1447V385H1442V385H1437V386H1432V388H1427V388H1422V386H1417V386H1412V387H1407V386H1402V387H1397V388H1392V386H1387V387H1382V388H1377V388H1372V388H1367V388H1362V386H1357V388H1352V389H1347V385H1342V389H1337V387H1332V385H1327V385H1322V388H1317V388H1312V385H1307V387H1302V387H1297V389H1292V386H1287V388H1282V386H1277V386H1272V385H1267V386H1262V387H1257V386H1252V385H1247V386H1242V385H1237V386H1232V386H1227V387H1222V386H1217V387H1212V387H1207V389H1202V387H1197V389H1192V387H1187V386H1182V387H1177V385H1172V386H1167V385H1162V388H1157V389H1152V386H1147V386H1142V387H1137V386H1132V388H1127V386H1122V385H1117V388H1112V387H1107V385H1102V388H1097V388H1092V386H1087V387H1082V389H1077V386H1072V387H1067V386H1062V387H1057V387H1052V388H1047V389H1042V385H1037V386H1032V388H1027V388H1022V387H1017V388H1012V386H1007V389H1002V387H997V386H992V386H987V385H982V388H977V388H972V385H967V386H962V387H957V387H952V386H947V388H944Z" fill="#fe0000" stroke="none"/>
<defs><path id="d5" d="M1225 152h0M1282 150h0M1120 150h0M1266 151h0M1082 150h0M1149 150h0M1426 151h0M1120 155h0M1030 154h0M957 153h0M976 155h0M1022 153h0M976 153h0M1331 154h0M1424 155h0M1235 155h0M992 155h0M1174 153h0M1339 155h0M1148 152h0M1405 154h0M1259 155h0M965 152h0M1011 152h0M1318 154h0M1004 153h0M1040 154h0M1299 155h0M1135 155h0M1151 156h0M1068 158h0M1469 158h0M1037 156h0M1025 156h0M1333 155h0M1224 157h0M963 157h0M1361 157h0M1183 158h0M1261 156h0M1154 158h0M1397 158h0M1240 156h0M1037 156h0M1309 155h0M1367 158h0M1216 155h0M1365 157h0M1297 157h0M1328 157h0M1450 158h0M1434 157h0M1112 156h0M1087 158h0M1362 158h0M1377 158h0M1307 156h0M1344 156h0M1267 156h0M1397 157h0M1090 158h0M989 158h0M1344 156h0M1346 157h0M1423 157h0M1436 159h0M1354 159h0M1091 159h0M1404 160h0M1327 159h0M1329 161h0M997 160h0M1325 159h0M1290 159h0M1140 161h0M1441 162h0M1170 160h0M1371 161h0M1185 161h0M1156 162h0M1194 159h0M1339 159h0M1303 159h0M1465 160h0M1335 159h0M1280 160h0M1076 161h0M963 160h0M991 161h0M1415 159h0M1190 160h0M1323 161h0M1126 162h0M1043 159h0M1374 159h0M1043 160h0M1122 159h0M1435 160h0M1359 159h0M1425 159h0M1422 160h0M1456 161h0M1277 160h0M1395 160h0M997 161h0M1369 161h0M1337 159h0M1189 161h0M1451 162h0M1030 161h0M1237 160h0M1033 159h0M1193 160h0M1086 160h0M1346 164h0M1031 165h0M1139 165h0M1462 162h0M1252 165h0M1148 164h0M1110 162h0M1053 162h0M1095 164h0M1241 165h0M1306 163h0M1445 164h0M1231 165h0M1298 163h0M1263 163h0M1455 163h0M1457 162h0M950 164h0M1053 163h0M1007 164h0M1297 164h0M1433 165h0M1302 164h0M946 162h0M1170 165h0M1110 164h0M950 163h0M1420 164h0M1379 162h0M1052 162h0M1383 162h0M1436 163h0M1409 163h0M1115 165h0M1158 164h0M981 164h0M1462 162h0M1338 163h0M1023 163h0M1293 165h0M1468 165h0M1273 164h0M1030 164h0M1235 163h0M1419 163h0M1020 162h0M1024 164h0M1367 162h0M1210 164h0M1240 163h0M1231 162h0M976 163h0M1070 164h0M1072 164h0M1072 162h0M1196 163h0M1122 164h0M1062 164h0M1384 163h0M1210 165h0M1263 162h0M988 166h0M992 167h0M1168 166h0M1215 168h0M1074 165h0M1106 166h0M1424 167h0M1171 165h0M969 165h0M1391 167h0M1028 167h0M976 167h0M1122 165h0M1336 167h0M1214 166h0M1298 166h0M1293 165h0M1420 165h0M1062 166h0M1050 165h0M1307 168h0M1121 166h0M1298 166h0M1156 167h0M1172 165h0M982 167h0M1466 168h0M998 167h0M1202 166h0M1298 166h0M1371 166h0M1437 167h0M1194 165h0M1200 165h0M1306 167h0M1249 168h0M969 167h0M1367 165h0M1115 165h0M1252 167h0M1128 167h0M1138 167h0M1091 168h0M1176 165h0M993 167h0M1400 167h0M1027 168h0M1322 165h0M1145 167h0M947 165h0M1131 168h0M1469 166h0M1423 167h0M1400 167h0M1455 167h0M1444 167h0M1049 167h0M1199 166h0M1142 167h0M1255 166h0M1091 167h0M1210 166h0M1295 166h0M1225 166h0M1350 167h0M1356 167h0M1432 170h0M1143 169h0M1157 170h0M1376 169h0M1330 169h0M1183 169h0M1106 169h0M1342 170h0M1054 169h0M1358 170h0M1301 170h0M1310 169h0M977 169h0M962 171h0M1221 170h0M1454 170h0M1066 169h0M1002 170h0M1333 169h0M1140 169h0M1202 170h0M1416 171h0M1402 169h0M1167 169h0M1458 169h0M1028 169h0M1430 171h0M1120 171h0M1414 169h0M1046 170h0M1142 168h0M1420 169h0M1154 170h0M1080 168h0M1150 169h0M951 169h0M1346 169h0M1303 170h0M1044 168h0M1300 170h0M1100 169h0M1395 171h0M1068 170h0M1248 169h0M964 169h0M1284 170h0M1214 168h0M1057 169h0M1164 169h0M1420 168h0M1464 169h0M1396 169h0M1254 169h0M965 170h0M1372 169h0M1354 169h0M1465 168h0M1145 169h0M1274 170h0M1388 170h0M1149 170h0M1000 169h0M1341 169h0M1468 168h0M1188 169h0M946 168h0M993 169h0M1173 170h0M1097 170h0M1217 171h0M1034 170h0M1205 169h0M1398 169h0M1133 172h0M1269 173h0M1095 171h0M1448 172h0M1005 173h0M1225 172h0M1118 174h0M1123 172h0M1449 172h0M1157 171h0M1294 173h0M1180 172h0M1068 173h0M1186 173h0M1142 173h0M960 172h0M1451 173h0M1301 172h0M1194 172h0M1036 173h0M1310 172h0M1284 171h0M1268 172h0M1213 172h0M1235 171h0M1200 173h0M1016 172h0M1302 173h0M1270 173h0M1246 172h0M1178 173h0M1243 173h0M1137 172h0M1456 173h0M1289 171h0M1267 171h0M1437 174h0M1328 172h0M1390 172h0M1381 173h0M953 174h0M1177 173h0M1307 173h0M1399 172h0M1418 172h0M959 172h0M980 171h0M1274 171h0M1029 172h0M1092 174h0M1422 174h0M1466 172h0M1364 172h0M1433 173h0M1330 172h0M993 174h0M1236 173h0M1399 171h0M1313 172h0M1359 172h0M1049 174h0M1093 173h0M1383 172h0M1311 172h0M1063 172h0M1447 172h0M1213 173h0M959 173h0M1337 174h0M1133 172h0M1128 173h0M1291 172h0M1221 171h0M1429 172h0M1212 173h0M1049 173h0M1131 173h0M995 172h0M1280 172h0M1144 173h0M1175 174h0M1365 175h0M1382 176h0M1262 176h0M1011 176h0M1099 177h0M1359 176h0M1374 175h0M1300 177h0M1045 174h0M1162 176h0M1024 175h0M1401 175h0M1024 175h0M1249 175h0M1195 176h0M1177 176h0M1386 174h0M1435 175h0M965 176h0M1245 176h0M1060 176h0M1106 176h0M1065 176h0M1286 175h0M1198 174h0M1284 176h0M1026 176h0M1331 174h0M1387 177h0M972 175h0M989 175h0M991 175h0M1077 175h0M1188 175h0M1360 176h0M1005 175h0M950 175h0M1002 176h0M1356 177h0M1055 174h0M1343 175h0M1435 175h0M1110 174h0M1444 176h0M1177 175h0M1350 176h0M1196 175h0M1159 177h0M1160 176h0M1240 175h0M1248 175h0M1239 177h0M987 175h0M1409 177h0M952 176h0M1278 177h0M1193 174h0M1103 176h0M1328 175h0M1283 176h0M1291 174h0M1178 175h0M1259 175h0M1013 176h0M1096 176h0M1106 176h0M1370 174h0M1330 174h0M1438 174h0M1326 175h0M1040 175h0M1209 175h0M1010 176h0M1103 177h0M1147 175h0M1065 177h0M1115 176h0M1383 175h0M1343 175h0M1003 174h0M1181 177h0M1052 175h0M1347 175h0M1026 176h0M1169 177h0M1417 175h0M1240 175h0M963 175h0M1427 175h0M1254 176h0M978 177h0M1003 175h0M1322 174h0M1012 178h0M954 177h0M1062 177h0M993 178h0M1218 177h0M1377 178h0M1078 178h0M1387 177h0M1336 177h0M1442 178h0M1260 180h0M998 177h0M1310 179h0M1325 178h0M1207 178h0M1175 178h0M1253 178h0M1090 179h0M990 179h0M1206 178h0M1006 179h0M1210 179h0M1142 178h0M1415 178h0M1461 180h0M1466 180h0M1081 179h0M1267 178h0M1470 179h0M1371 179h0M987 180h0M1038 178h0M1269 178h0M1189 179h0M996 179h0M1000 178h0M1287 179h0M968 178h0M1450 178h0M1169 178h0M1312 179h0M1287 178h0M1245 179h0M1044 180h0M1453 179h0M1467 178h0M1387 178h0M1336 179h0M1439 180h0M1408 178h0M1360 178h0M1110 178h0M1366 180h0M1390 179h0M1035 177h0M1244 178h0M1122 177h0M1027 179h0M1063 180h0M1118 180h0M1104 178h0M1153 177h0M1174 178h0M952 180h0M1143 177h0M1451 178h0M1078 177h0M998 179h0M1251 179h0M1075 178h0M1456 178h0M1466 180h0M1011 180h0M956 179h0M1371 179h0M1234 179h0M1026 179h0M1085 178h0M1046 179h0M1247 179h0M1276 179h0M1430 179h0M1243 178h0M1433 178h0M999 178h0M1317 180h0M1285 179h0M1438 179h0M1180 178h0M1345 178h0M1003 179h0M1371 178h0M1305 180h0M1012 177h0M1205 178h0M1445 180h0M1180 179h0M1278 178h0M1457 178h0M985 178h0M955 178h0M1162 180h0M1163 180h0M1356 179h0M1070 178h0M1204 178h0M1285 179h0M1115 179h0M1470 178h0M1122 177h0M995 177h0M1168 180h0M1312 180h0M1386 179h0M1251 177h0M1147 178h0M980 182h0M1143 181h0M1158 180h0M1330 182h0M1260 180h0M1260 183h0M1464 182h0M969 183h0M1295 181h0M1429 182h0M1416 181h0M1249 181h0M1101 182h0M1270 181h0M1231 183h0M1243 183h0M1243 183h0M961 181h0M1236 182h0M1455 182h0M1197 182h0M1226 182h0M1443 180h0M1114 183h0M977 182h0M961 182h0M1366 181h0M1146 181h0M1316 182h0M1264 181h0M1254 183h0M1355 183h0M1075 182h0M1148 181h0M1368 181h0M1239 182h0M1437 180h0M1088 181h0M1438 180h0M1388 181h0M1233 183h0M979 181h0M1027 180h0M1105 182h0M1251 180h0M1367 182h0M1021 182h0M1377 181h0M1440 182h0M1066 180h0M1402 182h0M997 182h0M1352 182h0M1383 183h0M1118 183h0M1430 181h0M1305 182h0M1392 182h0M1090 181h0M1231 180h0M1397 183h0M1073 182h0M1299 180h0M1355 182h0M1106 180h0M1093 182h0M1191 182h0M1029 180h0M1129 183h0M1030 180h0M1341 180h0M1297 180h0M1075 182h0M1405 181h0M1182 180h0M1124 181h0M1360 182h0M1358 182h0M1313 180h0M1148 181h0M1094 182h0M1058 181h0M1094 183h0M1281 181h0M1145 183h0M1440 181h0M1243 183h0M1080 181h0M999 182h0M1350 180h0M1173 183h0M1198 181h0M1387 183h0M1143 180h0M1280 182h0M1431 182h0M1107 182h0M1097 181h0M1192 183h0M1422 183h0M1197 183h0M1018 183h0M1282 183h0M1163 183h0M958 183h0M1376 181h0M1381 181h0M1341 181h0M1162 181h0M1366 182h0M992 183h0M1062 181h0M1163 182h0M1414 183h0M1278 181h0M1002 180h0M1218 182h0M1181 183h0M1163 181h0M1165 181h0M1439 182h0M1231 181h0M1077 181h0M1205 181h0M1461 182h0M1054 180h0M1029 181h0M1357 183h0M1070 182h0M1178 182h0M1226 180h0M980 182h0M1308 181h0M1429 182h0M1104 180h0M1236 182h0M1063 180h0M1202 180h0M1333 182h0M1092 181h0M1068 181h0M1374 184h0M1322 184h0M1370 185h0M1289 184h0M1241 183h0M1458 185h0M1225 185h0M998 184h0M1067 185h0M952 184h0M1402 185h0M1323 184h0M1067 185h0M1102 185h0M1129 185h0M1247 185h0M1464 184h0M1464 183h0M1407 183h0M1232 184h0M1350 184h0M1055 185h0M1235 185h0M1203 183h0M1351 184h0M1193 183h0M1081 185h0M1347 185h0M1178 185h0M1297 184h0M1227 185h0M1329 184h0M1109 184h0M996 184h0M1329 184h0M1036 185h0M1007 185h0M1023 183h0M1078 184h0M1087 185h0M1439 184h0M1340 185h0M1240 184h0M1445 185h0M952 184h0M1114 184h0M1172 185h0M958 185h0M1108 183h0M1419 184h0M1057 183h0M1138 183h0M1040 184h0M1250 184h0M1106 184h0M1353 185h0M1126 185h0M1362 184h0M1195 184h0M1016 185h0M1265 183h0M1432 185h0M963 185h0M1071 184h0M1384 184h0M1207 185h0M1046 185h0M1169 185h0M1044 185h0M967 184h0M1007 183h0M1223 183h0M1363 183h0M1273 185h0M1012 184h0M1348 184h0M1436 184h0M1155 185h0M1126 185h0M1414 184h0M1232 185h0M1007 185h0M1353 185h0M1261 183h0M1450 183h0M1358 185h0M1112 185h0M1161 185h0M968 185h0M1147 185h0M1193 185h0M1104 184h0M958 184h0M987 185h0M1302 184h0M1458 185h0M1449 183h0M1316 185h0M1264 183h0M1431 184h0M1258 185h0M1090 183h0M1431 184h0M967 183h0M1469 185h0M1056 183h0M1418 185h0M1252 183h0M1163 185h0M947 184h0M975 186h0M1000 185h0M1388 185h0M967 185h0M1205 184h0M1022 184h0M1367 183h0M1406 184h0M1085 184h0M1187 185h0M1245 185h0M1214 184h0M1466 184h0M954 184h0M1110 183h0M1165 183h0M1430 184h0M1408 185h0M1329 185h0M1104 185h0M1054 184h0M1258 185h0M1033 184h0M1379 185h0M1460 183h0M1056 183h0M1326 185h0M1286 185h0M1217 184h0M1430 185h0M1290 184h0M1442 387h0M1118 386h0M1003 386h0M1273 387h0M1125 385h0M1011 386h0M1035 386h0M1271 387h0M1216 386h0M1253 386h0M1357 385h0M1083 386h0M1423 385h0M1046 385h0M1058 386h0M1153 387h0M1158 386h0M1154 387h0M1420 386h0M1430 385h0M1460 386h0M1304 386h0M1088 385h0M1411 386h0M1313 386h0M1222 385h0M1038 386h0M1304 386h0M946 387h0M1173 385h0M1082 385h0M1378 386h0M1117 385h0M1098 386h0M1127 387h0M1360 387h0M1411 387h0M1005 385h0M1032 386h0M1223 387h0M1253 386h0M1073 387h0M1342 386h0M969 387h0M1080 387h0M1007 387h0M1133 387h0M1102 385h0M1050 387h0M1460 387h0M1304 386h0M1089 385h0M1463 385h0M1267 386h0M1043 386h0M1435 385h0M1032 387h0M1291 386h0M1040 387h0M1004 385h0M1072 386h0M1196 386h0M1328 387h0M1192 385h0M1382 385h0M1113 385h0M1262 387h0M1013 386h0M1393 387h0M1002 387h0M1363 386h0M1027 387h0M1113 385h0M1032 386h0M1012 386h0M1235 386h0M1158 387h0M991 386h0M1436 387h0M1430 387h0M1227 387h0M1246 385h0M1080 385h0M1406 386h0M1160 386h0M998 387h0M1364 387h0M1409 386h0M1022 387h0M1310 386h0M1126 385h0M1383 386h0M1373 386h0M1114 386h0M1338 387h0M1131 387h0M1158 387h0M1345 386h0M1136 386h0M1411 387h0M1106 385h0M1048 387h0M966 387h0M1224 386h0M1229 386h0M1238 385h0M1429 385h0M1018 387h0M1282 387h0M1310 387h0M972 385h0M1070 387h0M1026 386h0M1351 385h0M1223 387h0M1339 386h0M1197 386h0M1451 387h0M1303 386h0M1330 386h0M1365 386h0M1409 387h0M1182 386h0M1369 386h0M1450 385h0M1417 387h0M1203 387h0M1024 386h0M1321 387h0M1141 387h0M1287 385h0M1010 385h0M1245 386h0M1083 386h0M986 387h0M1386 386h0M1179 386h0M1262 386h0M1459 387h0M1328 387h0M985 385h0M1127 385h0M1168 387h0M1384 387h0M1062 385h0M958 386h0M975 386h0M1103 387h0M1240 386h0M1103 387h0M1321 389h0M1189 389h0M966 389h0M1269 388h0M1398 391h0M1394 390h0M1202 388h0M1088 390h0M1463 388h0M948 389h0M1129 390h0M1004 390h0M1123 391h0M1118 389h0M1038 391h0M1255 390h0M978 389h0M1331 391h0M1438 388h0M1142 391h0M1227 391h0M1079 388h0M1443 388h0M1240 389h0M1249 391h0M1443 391h0M1080 390h0M955 389h0M1442 388h0M1138 390h0M1070 390h0M1289 388h0M1429 388h0M1312 389h0M1021 388h0M1470 390h0M1187 390h0M1456 391h0M1225 388h0M1218 391h0M1329 390h0M1389 389h0M1239 390h0M1050 391h0M958 389h0M1248 388h0M1430 389h0M1043 389h0M1256 389h0M947 388h0M1320 388h0M1080 390h0M1399 391h0M1037 388h0M1342 390h0M1137 388h0M1172 388h0M1255 391h0M1055 388h0M1311 388h0M1063 389h0M1464 389h0M1111 389h0M1031 389h0M1314 389h0M1364 388h0M999 390h0M1184 391h0M1001 390h0M1298 389h0M1013 390h0M1344 389h0M1194 390h0M1266 389h0M1043 389h0M1235 391h0M1469 389h0M1118 388h0M1277 390h0M1076 390h0M1471 389h0M1439 389h0M1288 391h0M1052 389h0M1463 388h0M1106 389h0M1337 390h0M1434 390h0M946 388h0M964 389h0M959 389h0M1278 388h0M1396 389h0M1450 389h0M1271 389h0M1084 390h0M947 388h0M1114 391h0M1209 388h0M1103 390h0M1371 388h0M1355 389h0M1221 389h0M1176 391h0M1429 391h0M1332 390h0M1020 388h0M1382 390h0M1277 389h0M1086 391h0M1225 388h0M1124 389h0M981 391h0M1420 390h0M947 389h0M1004 390h0M1371 390h0M1362 388h0M952 388h0M1388 390h0M1217 388h0M1396 388h0M1116 388h0M1462 389h0M1351 390h0M1251 391h0M1353 391h0M1452 388h0M1340 388h0M1116 389h0M1465 388h0M1174 388h0M1470 389h0M1315 389h0M1349 389h0M1163 390h0M1315 391h0M1108 390h0M1333 390h0M1160 389h0M986 388h0M1109 388h0M971 390h0M1330 390h0M1054 390h0M1380 390h0M1065 389h0M1153 388h0M1023 391h0M1278 391h0M1036 388h0M1213 388h0M1104 389h0M1199 391h0M1249 390h0M1253 390h0M1138 388h0M1461 390h0M1012 388h0M1062 390h0M1014 388h0M1205 388h0M1081 389h0M1053 388h0M1082 388h0M1116 389h0M1135 389h0M1386 394h0M1205 391h0M1068 394h0M1186 392h0M1377 394h0M1009 393h0M1241 391h0M1113 393h0M1300 393h0M1272 392h0M981 391h0M1386 394h0M1421 391h0M1350 392h0M1127 392h0M1398 394h0M1383 392h0M1438 392h0M1247 393h0M1068 392h0M998 394h0M1042 391h0M1091 393h0M1280 393h0M1394 394h0M1056 393h0M1034 392h0M1023 391h0M1130 394h0M1290 391h0M1060 393h0M1224 391h0M995 393h0M1262 391h0M1352 392h0M1255 393h0M1124 394h0M1153 392h0M1229 394h0M1465 394h0M1229 394h0M1281 394h0M1456 394h0M1059 393h0M1176 392h0M1356 392h0M1319 393h0M1170 393h0M1327 394h0M1471 394h0M1084 393h0M1206 394h0M1180 392h0M959 393h0M1225 392h0M1001 393h0M982 392h0M1179 392h0M1208 393h0M1150 391h0M955 393h0M1456 392h0M1130 392h0M1336 393h0M1364 391h0M1015 392h0M1139 392h0M1148 394h0M1176 393h0M1452 393h0M1258 394h0M1121 391h0M1449 393h0M1252 391h0M1337 392h0M1284 392h0M1428 392h0M1090 394h0M1062 392h0M1201 394h0M1006 392h0M1364 391h0M1163 394h0M1320 394h0M1007 394h0M1133 394h0M1193 394h0M1197 392h0M1024 393h0M971 392h0M1405 393h0M1399 392h0M1198 393h0M1002 392h0M1430 394h0M1213 393h0M1398 394h0M1258 391h0M1404 392h0M1072 391h0M1215 393h0M1187 393h0M1019 394h0M1228 392h0M1384 394h0M1431 394h0M981 392h0M1182 392h0M1337 394h0M1018 393h0M1454 394h0M1182 391h0M1185 393h0M1359 392h0M1092 394h0M951 393h0M995 394h0M1168 394h0M1063 394h0M1065 391h0M991 391h0M1150 394h0M1132 394h0M963 393h0M1229 391h0M1250 393h0M1117 394h0M1309 391h0M1001 391h0M1084 393h0M1455 394h0M1400 391h0M1362 394h0M1194 394h0M1260 391h0M1059 391h0M1266 393h0M1397 391h0M950 394h0M1083 392h0M1401 391h0M1362 394h0M1241 393h0M948 393h0M1351 396h0M1005 395h0M1289 395h0M1001 395h0M1364 396h0M1133 398h0M1251 395h0M1243 397h0M1139 396h0M1249 398h0M1281 395h0M1251 396h0M1194 397h0M956 396h0M1110 397h0M1377 396h0M1277 396h0M1080 396h0M1225 395h0M1348 396h0M1132 395h0M1386 398h0M1439 395h0M983 397h0M958 397h0M1303 396h0M1177 397h0M1029 396h0M1359 397h0M1253 395h0M1059 395h0M962 397h0M1247 398h0M1237 398h0M1192 396h0M1093 396h0M1438 396h0M946 396h0M1049 397h0M1213 396h0M1433 397h0M991 395h0M1314 397h0M1289 396h0M964 396h0M1385 397h0M968 395h0M1421 396h0M1032 397h0M1432 398h0M1285 397h0M991 396h0M1372 396h0M1021 398h0M1316 395h0M979 396h0M1447 397h0M1406 395h0M1248 395h0M1120 395h0M1189 395h0M1291 397h0M1421 397h0M985 398h0M1231 398h0M1204 395h0M1316 395h0M1463 396h0M1420 396h0M1117 397h0M1319 396h0M1090 396h0M1321 395h0M1028 396h0M1291 395h0M1088 398h0M1086 397h0M1106 395h0M1201 398h0M1354 395h0M1315 397h0M1199 397h0M1220 395h0M1311 395h0M1108 397h0M1244 396h0M1319 396h0M1147 396h0M957 396h0M966 398h0M1423 397h0M1028 397h0M1094 397h0M1288 397h0M1335 395h0M1384 396h0M1344 397h0M1079 396h0M1135 395h0M1406 397h0M1203 396h0M1408 395h0M1134 397h0M1227 396h0M1081 395h0M1298 396h0M1439 398h0M1456 395h0M1216 395h0M1134 395h0M1209 398h0M1346 396h0M1091 398h0M973 397h0M1396 395h0M1446 397h0M1150 396h0M1265 396h0M1402 398h0M1117 395h0M1355 397h0M1290 395h0M985 398h0M1137 396h0M1457 395h0M978 400h0M1334 399h0M1345 401h0M1380 401h0M1444 400h0M1233 401h0M1369 400h0M1297 399h0M1123 399h0M1397 401h0M1098 401h0M976 398h0M1118 398h0M1445 399h0M1149 401h0M1226 400h0M1177 399h0M1449 399h0M1222 400h0M1019 398h0M1212 401h0M1173 398h0M1437 398h0M1411 398h0M1287 398h0M1082 399h0M1343 399h0M1165 399h0M1219 399h0M1447 399h0M1015 400h0M1130 400h0M966 400h0M1137 401h0M1103 399h0M1112 400h0M1093 400h0M1162 400h0M1099 399h0M1238 400h0M1289 399h0M990 398h0M1022 399h0M1042 400h0M1125 401h0M1068 399h0M1041 398h0M1304 400h0M1077 401h0M1301 399h0M1265 400h0M1177 398h0M1137 401h0M1142 400h0M992 400h0M1400 399h0M1141 400h0M1078 399h0M1013 400h0M1213 401h0M1452 401h0M1442 401h0M958 398h0M1459 401h0M1269 400h0M1175 399h0M1022 400h0M1090 398h0M1403 400h0M1406 399h0M1249 399h0M1382 399h0M1286 400h0M1117 398h0M1201 400h0M1376 399h0M1043 399h0M1367 399h0M1279 398h0M988 400h0M1207 398h0M1194 401h0M1151 400h0M1166 400h0M968 401h0M1250 399h0M1095 399h0M1437 401h0M1144 400h0M1236 399h0M963 400h0M1031 400h0M954 398h0M1032 400h0M1268 401h0M1293 400h0M952 401h0M1202 401h0M967 401h0M1059 402h0M985 403h0M1060 403h0M1037 403h0M1270 403h0M1445 402h0M1305 402h0M1416 404h0M1347 403h0M1083 404h0M1455 404h0M1123 404h0M1302 404h0M1367 403h0M1153 404h0M1290 403h0M1405 401h0M952 403h0M996 404h0M992 404h0M1064 402h0M1342 403h0M1161 403h0M1236 404h0M1212 403h0M1188 403h0M1308 402h0M1309 404h0M1346 403h0M1131 402h0M994 403h0M1408 404h0M1042 404h0M1370 403h0M1397 402h0M1122 403h0M1328 403h0M1104 404h0M1151 403h0M1063 403h0M1317 402h0M1294 403h0M951 404h0M1097 403h0M1450 402h0M979 402h0M1026 404h0M1217 401h0M1088 403h0M1037 402h0M1421 403h0M1068 403h0M1005 403h0M1286 401h0M1234 402h0M1337 403h0M1424 403h0M1041 402h0M1316 404h0M978 403h0M1094 403h0M1404 403h0M1337 404h0M1091 403h0M1143 403h0M1224 403h0M1034 404h0M1030 402h0M1392 404h0M1138 404h0M965 404h0M1051 401h0M1346 402h0M1341 401h0M1010 402h0M990 403h0M1127 404h0M1205 404h0M1389 402h0M1428 404h0M1242 403h0M1035 402h0M1061 402h0M1268 402h0M1349 403h0M1381 401h0M1391 403h0M1278 402h0M1159 407h0M1253 405h0M1103 407h0M954 406h0M1232 407h0M1118 406h0M1196 407h0M984 406h0M1082 406h0M1082 405h0M1067 407h0M1137 407h0M1332 405h0M1237 404h0M1436 406h0M1004 406h0M1206 407h0M1097 407h0M1273 405h0M1376 407h0M1105 407h0M1398 407h0M982 407h0M1076 407h0M1306 406h0M1420 407h0M1468 407h0M1247 407h0M1298 406h0M1208 406h0M1059 405h0M1390 407h0M1312 407h0M1214 406h0M1296 404h0M1179 408h0M1053 406h0M986 405h0M1379 405h0M1366 407h0M1402 405h0M1435 406h0M1182 407h0M1232 407h0M1003 404h0M1084 405h0M1379 405h0M1449 407h0M1046 407h0M1113 406h0M985 407h0M1359 406h0M1309 405h0M1012 405h0M1335 406h0M1016 405h0M1195 404h0M969 406h0M1016 407h0M1013 407h0M1363 405h0M1230 408h0M1270 406h0M1459 405h0M1448 405h0M1167 405h0M1288 407h0M1308 405h0M1466 407h0M1212 407h0M1002 406h0M1359 407h0M1299 405h0M1197 405h0M1265 406h0M1185 406h0M1255 407h0M1094 405h0M1042 405h0M1392 407h0M1011 406h0M1400 411h0M1467 409h0M980 408h0M1210 408h0M1079 409h0M1304 408h0M1010 409h0M993 408h0M999 410h0M1408 408h0M1368 410h0M1288 409h0M1377 408h0M970 411h0M1062 411h0M1342 408h0M995 410h0M1022 410h0M1299 408h0M1196 408h0M1404 410h0M1309 410h0M977 410h0M1355 409h0M1256 409h0M1343 409h0M1091 409h0M1058 408h0M1219 410h0M1324 408h0M1213 409h0M1250 409h0M1213 410h0M1409 409h0M1358 410h0M1008 408h0M1110 409h0M1204 409h0M1470 410h0M1141 410h0M1432 408h0M1276 411h0M1143 410h0M1368 409h0M1021 410h0M1164 409h0M1189 410h0M1416 411h0M1348 408h0M1139 408h0M1051 409h0M1038 409h0M1015 410h0M1161 408h0M1306 409h0M958 410h0M1342 410h0M1100 408h0M1312 408h0M1454 410h0M1234 408h0M1094 409h0M1461 408h0M1257 408h0M1456 410h0M1373 410h0M1040 408h0M966 409h0M988 408h0M1037 411h0M1361 409h0M1456 408h0M1019 409h0M1369 408h0M1231 413h0M1122 411h0M997 413h0M1212 413h0M1050 412h0M1057 414h0M1315 411h0M1327 411h0M1191 412h0M1348 413h0M1305 411h0M968 413h0M1311 411h0M1386 414h0M1135 412h0M1288 414h0M1287 412h0M1350 412h0M962 413h0M1163 412h0M1153 412h0M1109 413h0M1411 412h0M1390 411h0M1217 413h0M1356 412h0M1034 414h0M1266 413h0M1127 411h0M1245 412h0M1414 413h0M1343 413h0M1341 411h0M1469 413h0M1260 411h0M993 413h0M1327 413h0M1079 412h0M1349 413h0M1424 411h0M1353 411h0M1274 413h0M984 412h0M1297 414h0M986 412h0M1364 411h0M1415 414h0M1125 411h0M1022 412h0M1166 413h0M1438 413h0M1447 412h0M1291 411h0M1165 411h0M1015 413h0M1005 412h0M1222 412h0M961 411h0M1301 412h0M994 412h0M1141 414h0M970 411h0M985 413h0M1451 413h0M1004 413h0M1134 414h0M1317 413h0M1080 412h0M1222 412h0M993 415h0M1464 415h0M1211 416h0M1373 416h0M1146 416h0M1050 416h0M954 415h0M1037 415h0M1334 414h0M1406 414h0M1445 417h0M1269 417h0M1440 415h0M1396 414h0M1356 416h0M1354 414h0M989 416h0M1264 416h0M1039 416h0M1455 415h0M1377 417h0M1299 415h0M1165 415h0M1011 414h0M1092 415h0M1419 415h0M1406 416h0M1418 417h0M1319 415h0M1073 416h0M1109 416h0M968 416h0M1124 415h0M1231 417h0M1468 415h0M1449 417h0M1222 416h0M1049 416h0M1201 416h0M1430 416h0M1311 416h0M1014 415h0M978 415h0M1461 415h0M1016 415h0M977 416h0M1065 415h0M1280 417h0M952 416h0M1251 415h0M1167 414h0M1130 416h0M1122 417h0M1124 417h0M1372 416h0M1204 415h0M1389 414h0M1063 414h0M1204 415h0M1448 417h0M1206 417h0M1341 419h0M1033 420h0M968 418h0M1196 420h0M1018 418h0M1361 418h0M1434 417h0M1070 418h0M1391 417h0M1300 420h0M1458 419h0M972 418h0M1060 417h0M1073 419h0M1248 417h0M1096 417h0M1433 419h0M1194 420h0M1460 418h0M1079 418h0M1276 419h0M1218 419h0M1224 418h0M1297 420h0M971 418h0M1019 419h0M1172 420h0M1298 420h0M1250 419h0M1458 419h0M1123 417h0M1430 417h0M1431 420h0M1293 420h0M1265 419h0M1259 418h0M987 419h0M1183 417h0M1239 418h0M1083 420h0M1271 419h0M1375 418h0M1183 418h0M1133 419h0M1411 418h0M1319 418h0M949 419h0M1354 418h0M1469 419h0M1114 419h0M1389 417h0M1425 418h0M1090 418h0M1223 419h0M1100 417h0M1323 422h0M1154 423h0M954 420h0M955 422h0M1220 421h0M1222 420h0M964 423h0M1411 420h0M1290 422h0M1229 423h0M1283 423h0M1304 423h0M1006 422h0M1113 423h0M1362 423h0M1343 421h0M1221 422h0M976 422h0M1244 422h0M1125 422h0M1333 421h0M1304 423h0M1140 422h0M1200 423h0M1087 421h0M1152 422h0M1026 423h0M1210 422h0M1162 420h0M1148 422h0M993 423h0M1254 421h0M960 421h0M1123 422h0M1037 421h0M1088 422h0M1307 422h0M1340 422h0M989 422h0M1200 422h0M1438 421h0M1392 421h0M1287 420h0M1379 421h0M1184 421h0M1141 421h0M1309 422h0M974 421h0M1435 421h0M1100 422h0M1141 423h0M1013 424h0M1035 424h0M1095 425h0M1411 423h0M959 423h0M1108 423h0M1172 424h0M1328 426h0M1460 424h0M1284 423h0M1266 426h0M1411 423h0M1033 426h0M1312 425h0M981 425h0M957 425h0M1363 424h0M947 425h0M1471 425h0M1138 424h0M1372 426h0M1137 424h0M1470 424h0M1178 424h0M1327 426h0M1192 426h0M1156 424h0M1367 426h0M1343 425h0M1380 426h0M1447 425h0M1149 423h0M1222 424h0M945 426h0M1107 426h0M953 424h0M1358 425h0M1299 424h0M993 425h0M1346 424h0M1241 425h0M1205 424h0M1200 425h0M1332 424h0M1354 424h0M1300 424h0M1440 428h0M1146 427h0M1173 428h0M963 428h0M1434 426h0M1414 428h0M1470 428h0M1323 428h0M1167 426h0M1395 429h0M1325 427h0M1208 428h0M1137 427h0M1186 429h0M1275 429h0M1423 427h0M1351 427h0M1260 428h0M1334 427h0M1302 427h0M1357 427h0M1284 429h0M1093 426h0M1416 428h0M1285 428h0M1414 427h0M1465 427h0M1328 428h0M1136 427h0M1138 427h0M1162 429h0M977 429h0M1361 428h0M1283 427h0M1348 429h0M1146 427h0M1060 427h0M1394 428h0M1180 428h0M1043 426h0M1133 428h0M1042 428h0M1083 431h0M1135 431h0M1340 430h0M962 432h0M1235 431h0M1306 431h0M1423 429h0M1455 431h0M1160 432h0M1416 431h0M950 431h0M1162 431h0M1382 429h0M1390 430h0M1077 429h0M1001 430h0M1224 432h0M1036 430h0M1141 431h0M1131 431h0M1024 429h0M1250 431h0M1016 429h0M1297 429h0M1432 431h0M1030 430h0M975 429h0M1130 432h0M1424 431h0M1281 431h0M1214 431h0M1207 430h0M1386 430h0M1159 431h0M1452 430h0M1173 430h0M1056 430h0M1044 434h0M1095 434h0M1352 432h0M1201 433h0M1285 434h0M1062 433h0M1105 433h0M1415 435h0M1362 433h0M1186 433h0M1187 435h0M993 433h0M1048 435h0M1104 434h0M973 434h0M1216 435h0M1325 434h0M1083 433h0M1260 432h0M1438 434h0M1205 433h0M986 434h0M1352 432h0M997 434h0M1192 435h0M1162 435h0M1404 433h0M1228 434h0M1182 435h0M1316 435h0M1078 434h0M1231 434h0M954 435h0M1181 433h0M1238 438h0M1335 437h0M1426 435h0M1121 436h0M1280 436h0M960 436h0M1037 437h0M1185 437h0M952 437h0M1079 435h0M975 436h0M1156 436h0M1189 436h0M1332 438h0M1116 435h0M1453 435h0M1287 438h0M1199 438h0M1023 438h0M1423 438h0M1392 437h0M1214 438h0M1145 436h0M962 436h0M1019 438h0M1108 436h0M1458 437h0M1174 436h0M1098 441h0M1167 442h0M1087 439h0M1418 439h0M1360 440h0M1095 441h0M1171 442h0M1239 441h0M1435 440h0M1309 441h0M1290 438h0M1307 441h0M1047 439h0M981 440h0M1001 441h0M1164 442h0M1331 440h0M1041 440h0M1265 441h0M1415 439h0M958 441h0M1307 440h0M1368 441h0M1377 442h0M1443 444h0M995 442h0M1283 443h0M1438 442h0M1201 443h0M1440 443h0M1415 444h0M1245 445h0M1410 444h0M1232 442h0M1061 444h0M1007 444h0M1128 443h0M1378 444h0M1339 443h0M1227 445h0M1432 444h0M1420 445h0M1007 447h0M1049 447h0M1306 445h0M1423 448h0M1291 448h0M1367 446h0M1379 448h0M1311 445h0M1141 447h0M1138 445h0M1185 445h0M1195 445h0M1328 445h0M1002 450h0M1284 449h0M1275 450h0M1269 449h0M1196 451h0M1270 449h0M1121 451h0M973 449h0M1215 449h0M1001 454h0M1185 452h0M1183 451h0M988 453h0M1345 452h0M1112 451h0M1112 453h0M1211 457h0M1470 456h0M968 454h0M1299 454h0M974 457h0M1470 388h0M1469 390h0M1469 399h0M1469 400h0M1470 404h0M1470 410h0M1470 419h0"/></defs>
<use href="#d5" stroke="#f40a0a" stroke-width="7" opacity="0.32"/>
<use href="#d5" stroke="#f40a0a" stroke-width="4.4"/>
<defs><path id="d6" d="M1343 186h0M1169 187h0M1173 188h0M1136 187h0M1170 187h0M1457 186h0M1325 369h0M1181 370h0M1138 369h0M1405 374h0M1096 373h0M1116 371h0M1415 374h0M1079 377h0M1364 376h0M1149 375h0M1365 377h0M1397 375h0M1464 380h0M1187 378h0M977 380h0M981 380h0M1295 379h0M1436 383h0M998 383h0M1167 382h0M1434 383h0M1009 382h0M1125 383h0M1177 385h0M1041 385h0"/></defs>
<use href="#d6" stroke="#ffffff" stroke-width="5.4" opacity="0.3"/>
<use href="#d6" stroke="#ffffff" stroke-width="3.4"/>
<path d="M944 244V242H949V243H954V243H959V244H964V244H969V243H974V243H979V244H984V243H989V244H994V243H999V244H1004V244H1009V244H1014V244H1019V243H1024V243H1029V244H1034V243H1039V243H1044V243H1049V244H1054V244H1059V244H1064V244H1069V243H1074V244H1079V243H1084V244H1089V243H1094V243H1099V243H1104V243H1109V243H1114V244H1119V242H1124V243H1129V244H1134V244H1139V243H1144V243H1149V244H1154V243H1159V243H1164V243H1169V244H1174V244H1179V244H1184V243H1189V244H1194V243H1199V243H1204V244H1209V244H1214V243H1219V244H1224V243H1229V244H1234V244H1239V244H1244V244H1249V243H1254V244H1259V244H1264V244H1269V243H1274V243H1279V244H1284V244H1289V244H1294V243H1299V244H1304V244H1309V243H1314V244H1319V244H1324V243H1329V243H1334V244H1339V244H1344V243H1349V244H1354V244H1359V243H1364V244H1369V244H1374V243H1379V244H1384V243H1389V244H1394V243H1399V243H1404V244H1409V243H1414V243H1419V244H1424V244H1429V244H1434V243H1439V243H1444V243H1449V244H1454V244H1459V243H1464V243H1469V243H1472V314V314H1467V315H1462V316H1457V316H1452V315H1447V316H1442V314H1437V316H1432V315H1427V316H1422V315H1417V314H1412V314H1407V316H1402V316H1397V316H1392V315H1387V314H1382V316H1377V314H1372V316H1367V315H1362V315H1357V314H1352V314H1347V316H1342V315H1337V316H1332V316H1327V315H1322V317H1317V314H1312V315H1307V315H1302V314H1297V316H1292V314H1287V315H1282V314H1277V315H1272V315H1267V314H1262V314H1257V316H1252V315H1247V314H1242V317H1237V314H1232V314H1227V314H1222V315H1217V315H1212V316H1207V314H1202V315H1197V315H1192V314H1187V315H1182V315H1177V316H1172V316H1167V315H1162V314H1157V315H1152V316H1147V315H1142V315H1137V316H1132V314H1127V316H1122V316H1117V314H1112V315H1107V316H1102V314H1097V315H1092V315H1087V315H1082V315H1077V315H1072V316H1067V316H1062V317H1057V315H1052V315H1047V315H1042V316H1037V315H1032V316H1027V314H1022V315H1017V314H1012V316H1007V315H1002V316H997V315H992V315H987V315H982V316H977V316H972V316H967V315H962V315H957V314H952V316H947V316H944Z" fill="#0000fe" stroke="none"/>
<defs><path id="d7" d="M1105 238h0M1223 237h0M1467 238h0M1302 239h0M1312 237h0M1448 239h0M1298 237h0M1209 236h0M1413 238h0M1258 237h0M1368 236h0M1156 237h0M1265 237h0M1265 239h0M1161 236h0M952 239h0M1192 237h0M999 239h0M1417 239h0M1115 240h0M1247 239h0M1285 240h0M1463 239h0M1101 239h0M1098 239h0M961 241h0M1090 240h0M1373 241h0M958 240h0M1393 240h0M1263 240h0M1378 240h0M1130 240h0M1193 239h0M1299 241h0M1289 239h0M1158 241h0M1014 240h0M1305 240h0M1119 239h0M1316 239h0M1262 240h0M1326 239h0M1458 240h0M1404 239h0M1324 240h0M1314 240h0M1160 241h0M1176 240h0M1321 239h0M1417 240h0M1412 239h0M1256 241h0M1177 241h0M1326 242h0M1306 241h0M970 242h0M988 242h0M1233 243h0M1376 242h0M1381 242h0M1098 241h0M1315 242h0M1278 242h0M1185 243h0M1143 241h0M1446 243h0M1417 243h0M1175 241h0M1204 242h0M1149 243h0M1077 243h0M1057 242h0M1382 241h0M1327 242h0M1160 242h0M1075 243h0M1440 243h0M1029 241h0M1177 242h0M1233 243h0M1465 242h0M1083 242h0M980 242h0M1340 242h0M1043 242h0M1417 242h0M1003 242h0M1066 243h0M1165 242h0M1407 242h0M1181 243h0M1106 242h0M1286 242h0M1276 242h0M1383 242h0M1328 242h0M1312 242h0M1023 242h0M1116 241h0M1350 242h0M1198 242h0M980 241h0M1323 241h0M1402 242h0M1454 243h0M1160 242h0M1174 243h0M1188 242h0M1339 244h0M1336 244h0M1251 244h0M1437 244h0M1244 244h0M999 244h0M1434 243h0M1353 243h0M1321 243h0M1259 244h0M962 244h0M1221 243h0M1107 244h0M1335 243h0M982 243h0M1279 244h0M1347 244h0M1139 244h0M1022 244h0M1286 243h0M1296 243h0M1457 244h0M1430 244h0M1058 244h0M1269 244h0M1310 244h0M1303 243h0M1453 244h0M1174 244h0M1468 243h0M1046 243h0M1203 243h0M1070 244h0M955 244h0M1160 244h0M1081 244h0M1057 243h0M1400 244h0M1101 244h0M1140 244h0M1019 244h0M1406 244h0M1376 244h0M1067 243h0M1014 244h0M1232 244h0M1320 243h0M1265 244h0M1019 244h0M1042 244h0M1346 244h0M1184 243h0M1019 244h0M1140 244h0M1139 243h0M1031 244h0M1173 243h0M1405 243h0M1066 243h0M1240 244h0M962 244h0M1315 244h0M1167 244h0M995 243h0M1403 243h0M1419 244h0M1074 314h0M1226 315h0M1057 314h0M1278 314h0M1359 317h0M1166 314h0M1246 315h0M1000 316h0M1239 315h0M1075 316h0M1428 315h0M1253 314h0M1190 316h0M1106 316h0M1230 314h0M1008 315h0M1023 315h0M1257 316h0M1411 316h0M1351 314h0M1405 317h0M1256 316h0M1235 315h0M1030 315h0M1321 316h0M1416 315h0M1442 315h0M955 315h0M1230 316h0M1068 314h0M1325 314h0M1393 316h0M1017 315h0M1352 314h0M1448 314h0M1023 316h0M1301 316h0M1431 314h0M969 315h0M1130 315h0M1153 317h0M1095 316h0M1244 315h0M1425 314h0M1103 314h0M1314 316h0M1137 314h0M1259 315h0M1235 316h0M946 314h0M1376 317h0M991 314h0M1170 316h0M1108 317h0M993 317h0M975 316h0M1457 316h0M1426 315h0M1448 317h0M1090 316h0M1428 314h0M1151 316h0M1247 317h0M1173 315h0M1033 315h0M1406 314h0M1417 316h0M1245 315h0M946 314h0M1381 317h0M1452 315h0M1438 315h0M1139 317h0M1376 316h0M1096 314h0M1041 315h0M1046 316h0M1111 314h0M1407 315h0M947 314h0M1235 314h0M1238 314h0M1192 316h0M1229 314h0M1386 317h0M1373 317h0M1456 315h0M1231 315h0M1359 314h0M1064 315h0M1232 317h0M1122 314h0M1149 317h0M996 315h0M1261 316h0M1117 316h0M1446 317h0M1242 315h0M1287 316h0M1303 316h0M1148 316h0M1130 314h0M998 315h0M1035 315h0M1102 315h0M1164 317h0M1222 315h0M1156 315h0M1374 315h0M1215 315h0M1043 314h0M992 315h0M967 315h0M1247 314h0M1343 315h0M1273 315h0M1363 316h0M1009 315h0M1084 316h0M1140 314h0M963 317h0M1077 320h0M972 318h0M1173 319h0M1357 320h0M1113 317h0M1059 317h0M1087 319h0M1416 317h0M1086 320h0M1254 318h0M983 317h0M1060 319h0M976 319h0M1376 317h0M1096 318h0M1266 320h0M1302 319h0M1123 319h0M1187 320h0M1224 319h0M1296 319h0M1204 319h0M1261 320h0M1106 319h0M1458 320h0M1237 318h0M1039 318h0M1170 319h0M1080 319h0M1247 317h0M1292 319h0M1048 318h0M965 319h0M1300 318h0M1255 319h0M969 317h0M1212 320h0M1317 319h0M1082 317h0M1285 320h0M1152 317h0M1091 319h0M1351 318h0M1412 318h0M958 318h0M1414 319h0M991 318h0M1153 319h0M959 320h0M1225 318h0M962 319h0M1436 320h0M1397 320h0M1295 317h0M1109 319h0M1164 318h0M981 320h0M1296 318h0M1193 320h0M1021 319h0M1068 320h0M1366 320h0M1147 319h0M1114 318h0M1447 320h0M1468 320h0M1203 319h0M1423 319h0M1429 320h0M1095 318h0M1309 318h0M1047 321h0M1423 324h0M1377 322h0M1338 323h0M1177 322h0M1012 321h0M1126 322h0M1292 321h0M1070 324h0M1357 324h0M1355 321h0M1202 323h0M1369 321h0M1199 323h0M951 321h0M1335 323h0M1180 322h0M1223 322h0M990 323h0M1352 322h0M1350 323h0M1309 323h0M1454 321h0M1441 322h0M1354 323h0M997 323h0M992 323h0M1123 322h0M1089 323h0M1282 322h0M1335 321h0M1367 323h0M1348 323h0M1464 323h0M1189 323h0M1243 321h0M1106 323h0M1376 324h0M1306 322h0M1153 323h0M1287 324h0M1339 322h0M1092 321h0M1170 325h0M973 325h0M1418 325h0M1336 326h0M1293 325h0M1076 325h0M1253 326h0M1216 325h0M1422 325h0M1125 325h0M1025 324h0M1410 325h0M1367 324h0M1193 324h0M1259 327h0M1148 326h0M1056 327h0M1109 326h0M1148 327h0M1465 327h0M1157 328h0M1325 327h0M1155 326h0M1025 327h0M1282 326h0M1036 329h0M1126 329h0M1357 329h0M1147 328h0M1057 329h0M1370 328h0M1459 330h0M1138 329h0M1299 329h0M1325 331h0M1175 331h0M1006 331h0M1100 330h0M1221 331h0M1222 331h0M1167 334h0M1058 332h0M1244 334h0M1146 333h0M1073 336h0M1399 335h0"/></defs>
<use href="#d7" stroke="#1206f2" stroke-width="7" opacity="0.32"/>
<use href="#d7" stroke="#1206f2" stroke-width="4.4"/>
<defs><path id="d8" d="M1168 314h0"/></defs>
<use href="#d8" stroke="#f40a0a" stroke-width="5.4" opacity="0.3"/>
<use href="#d8" stroke="#f40a0a" stroke-width="3.4"/>
</g>
<g fill="#7a7a7a" font-weight="bold" font-size="16.3">
<text x="452.4" y="39.5" text-anchor="end">0.4</text>
<text x="452.4" y="94.6" text-anchor="end">0.2</text>
<text x="453.0" y="147.8" text-anchor="end">0</text>
<text x="453.6" y="203.8" text-anchor="end">-0.2</text>
<text x="453.0" y="259.0" text-anchor="end">-0.4</text>
<text x="476.0" y="274.1" text-anchor="middle">0</text>
<text x="530.0" y="274.1" text-anchor="middle">1</text>
<text x="587.2" y="274.1" text-anchor="middle">2</text>
<text x="645.6" y="274.1" text-anchor="middle">3</text>
<text x="702.8" y="274.1" text-anchor="middle">4</text>
<text x="760.0" y="274.1" text-anchor="middle">5</text>
</g>
<text x="624.0" y="290.0" text-anchor="middle" fill="#7a7a7a" font-weight="bold" font-size="15.7">Point ID</text>
<text x="737.7" y="293.7" fill="#9c9c9c" font-size="12">x</text>
<text transform="translate(749.6 293.7) scale(0.92 1)" fill="#7a7a7a" font-weight="bold" font-size="14">10<tspan dy="-3.4" dx="0.8" font-size="9">4</tspan></text>
<text transform="translate(415.1 134.0) rotate(-90)" text-anchor="middle" fill="#7a7a7a" font-weight="bold" font-size="19.5" textLength="64.5" lengthAdjust="spacing">ν<tspan font-size="12" dy="1">z</tspan><tspan dy="-2.2" font-size="17.5"> (</tspan><tspan dy="1.2"> m </tspan><tspan dy="-1.2" font-size="17.5">)</tspan></text>
<text x="617.0" y="18.3" text-anchor="middle" fill="#0a0a0a" font-weight="bold" font-size="13">Pagoda B</text>
<text x="628.0" y="323.3" text-anchor="middle" fill="#111" font-size="22.3" letter-spacing="1.9">(b)</text>
<rect x="689.9" y="36.0" width="62.8" height="33.5" rx="1.5" fill="#fff" stroke="#8c8c8c" stroke-width="1.3"/>
<rect x="703.8" y="41.7" width="9" height="7.6" fill="#fe0000"/>
<rect x="703.8" y="55.6" width="9" height="7.6" fill="#0000fe"/>
<g fill="#4a4a4a" font-weight="bold" font-size="10.5">
<text x="726.3" y="50.0" textLength="22" lengthAdjust="spacingAndGlyphs">CCF</text>
<text x="726.3" y="65.0" textLength="22" lengthAdjust="spacingAndGlyphs">HPF</text>
</g>
</g>
<g id="pC">
<line x1="81.8" y1="372.6" x2="374.1" y2="372.6" stroke="#e4e4e4" stroke-width="1"/>
<line x1="81.8" y1="428.1" x2="374.1" y2="428.1" stroke="#e4e4e4" stroke-width="1"/>
<line x1="81.8" y1="483.8" x2="374.1" y2="483.8" stroke="#e4e4e4" stroke-width="1"/>
<line x1="81.8" y1="539.3" x2="374.1" y2="539.3" stroke="#e4e4e4" stroke-width="1"/>
<g stroke="#7a7a7a" fill="none">
<line x1="81.8" y1="372.3" x2="81.8" y2="601.3" stroke-width="1.5"/>
<line x1="75.3" y1="595.3" x2="374.9" y2="595.3" stroke-width="1.6"/>
<path d="M75.8 372.6h6.0M75.8 428.1h6.0M75.8 483.8h6.0M75.8 539.3h6.0M75.8 595.3h6.0M79.3 386.5h2.5M79.3 400.4h2.5M79.3 414.2h2.5M79.3 442.0h2.5M79.3 456.0h2.5M79.3 469.9h2.5M79.3 497.7h2.5M79.3 511.5h2.5M79.3 525.4h2.5M79.3 553.3h2.5M79.3 567.3h2.5M79.3 581.3h2.5M81.8 595.3v6.0M93.5 595.3v3.0M105.2 595.3v3.0M116.9 595.3v3.0M128.6 595.3v3.0M140.2 595.3v6.0M151.9 595.3v3.0M163.6 595.3v3.0M175.3 595.3v3.0M187.0 595.3v3.0M198.7 595.3v6.0M210.4 595.3v3.0M222.1 595.3v3.0M233.8 595.3v3.0M245.5 595.3v3.0M257.2 595.3v6.0M268.8 595.3v3.0M280.5 595.3v3.0M292.2 595.3v3.0M303.9 595.3v3.0M315.6 595.3v6.0M327.3 595.3v3.0M339.0 595.3v3.0M350.7 595.3v3.0M362.4 595.3v3.0M374.1 595.3v6.0" stroke-width="1.5"/>
</g>
<g transform="scale(0.5)" fill="none" stroke-linecap="square">
<path d="M162 859V857H167V858H172V859H177V857H182V857H187V856H192V856H197V856H202V858H207V859H212V857H217V859H222V857H227V858H232V857H237V859H242V859H247V856H252V857H257V858H262V856H267V857H272V858H277V857H282V858H287V858H292V858H297V858H302V858H307V858H312V858H317V856H322V858H327V857H332V857H337V857H342V859H347V856H352V856H357V856H362V858H367V857H372V857H377V859H382V858H387V857H392V857H397V856H402V857H407V856H412V856H417V858H422V856H427V859H432V857H437V859H442V858H447V858H452V859H457V857H462V857H467V858H472V858H477V857H482V857H487V859H492V858H497V856H502V858H507V858H512V858H517V856H522V857H527V858H532V857H537V859H542V859H547V858H552V857H557V859H562V859H567V856H572V858H577V859H582V859H587V859H592V858H597V857H602V857H607V858H612V857H617V858H622V857H627V859H632V857H637V859H642V856H647V858H652V857H657V858H662V858H667V858H672V857H677V857H682V856H687V856H692V858H697V857H702V858H707V858H712V857H713V1073V1077H708V1073H703V1076H698V1074H693V1076H688V1074H683V1076H678V1075H673V1074H668V1075H663V1073H658V1074H653V1077H648V1073H643V1075H638V1076H633V1073H628V1077H623V1074H618V1077H613V1075H608V1075H603V1076H598V1073H593V1075H588V1076H583V1076H578V1076H573V1076H568V1074H563V1075H558V1075H553V1073H548V1076H543V1074H538V1075H533V1074H528V1074H523V1077H518V1076H513V1076H508V1076H503V1075H498V1077H493V1073H488V1075H483V1074H478V1076H473V1075H468V1077H463V1074H458V1074H453V1077H448V1076H443V1075H438V1075H433V1076H428V1074H423V1076H418V1074H413V1076H408V1073H403V1077H398V1077H393V1073H388V1074H383V1077H378V1076H373V1074H368V1076H363V1075H358V1074H353V1076H348V1075H343V1074H338V1077H333V1076H328V1074H323V1075H318V1076H313V1075H308V1074H303V1075H298V1077H293V1074H288V1074H283V1075H278V1077H273V1077H268V1073H263V1076H258V1074H253V1074H248V1074H243V1075H238V1077H233V1077H228V1075H223V1077H218V1076H213V1073H208V1077H203V1074H198V1077H193V1074H188V1077H183V1075H178V1075H173V1074H168V1075H163V1076H162Z" fill="#fe0000" stroke="none"/>
<defs><path id="d9" d="M702 836h0M660 834h0M568 836h0M648 835h0M417 836h0M304 835h0M628 836h0M172 840h0M391 838h0M375 837h0M625 840h0M694 839h0M252 838h0M710 837h0M351 837h0M257 838h0M503 837h0M639 838h0M258 837h0M451 838h0M438 837h0M358 839h0M209 839h0M625 839h0M234 839h0M209 837h0M168 839h0M261 838h0M229 840h0M243 839h0M606 838h0M483 838h0M613 839h0M550 841h0M427 841h0M429 843h0M566 841h0M193 842h0M665 842h0M503 843h0M514 843h0M687 843h0M606 841h0M309 843h0M482 843h0M588 841h0M257 843h0M224 842h0M315 842h0M522 842h0M502 841h0M654 843h0M661 842h0M518 843h0M573 842h0M185 840h0M557 843h0M375 841h0M406 843h0M578 841h0M274 841h0M573 841h0M651 842h0M269 842h0M240 843h0M176 842h0M371 840h0M285 844h0M635 842h0M643 843h0M634 843h0M475 842h0M557 842h0M698 841h0M657 843h0M406 843h0M320 842h0M480 844h0M296 843h0M668 845h0M528 847h0M649 846h0M624 846h0M467 844h0M448 847h0M683 844h0M330 844h0M626 844h0M584 844h0M350 847h0M232 846h0M314 846h0M200 846h0M305 847h0M344 846h0M179 847h0M511 847h0M572 844h0M572 845h0M273 847h0M528 845h0M203 846h0M196 844h0M190 844h0M574 845h0M705 845h0M602 846h0M517 846h0M240 846h0M670 845h0M266 844h0M304 847h0M337 845h0M452 844h0M597 846h0M332 844h0M657 846h0M583 844h0M687 846h0M181 847h0M547 844h0M652 846h0M513 844h0M280 846h0M171 844h0M201 846h0M239 846h0M411 846h0M665 847h0M268 845h0M599 845h0M678 845h0M507 845h0M560 845h0M395 846h0M618 844h0M258 844h0M585 846h0M557 846h0M292 845h0M166 845h0M493 845h0M280 848h0M539 848h0M528 848h0M190 847h0M521 849h0M537 850h0M529 849h0M623 849h0M455 847h0M293 847h0M224 848h0M324 849h0M618 848h0M654 850h0M269 849h0M272 847h0M284 848h0M167 847h0M607 850h0M637 847h0M176 850h0M369 848h0M548 849h0M344 847h0M226 849h0M661 847h0M286 849h0M310 848h0M439 848h0M228 848h0M609 847h0M459 849h0M477 848h0M673 849h0M711 848h0M429 848h0M625 849h0M465 849h0M652 848h0M235 848h0M297 847h0M700 849h0M601 848h0M449 848h0M652 848h0M386 849h0M640 850h0M428 848h0M617 848h0M274 848h0M331 848h0M588 848h0M507 848h0M226 849h0M589 849h0M498 848h0M439 849h0M594 849h0M510 848h0M194 850h0M173 848h0M383 849h0M546 850h0M674 848h0M300 847h0M344 847h0M691 849h0M433 847h0M664 848h0M586 848h0M238 852h0M319 852h0M556 851h0M235 852h0M383 851h0M366 850h0M231 852h0M512 852h0M514 852h0M271 853h0M456 851h0M307 851h0M702 851h0M605 850h0M492 851h0M292 851h0M381 852h0M387 853h0M248 853h0M403 852h0M380 851h0M654 852h0M560 852h0M553 853h0M570 853h0M355 851h0M648 853h0M651 851h0M390 853h0M274 850h0M258 851h0M393 851h0M416 850h0M351 852h0M193 851h0M660 852h0M683 853h0M434 850h0M196 852h0M626 851h0M235 852h0M459 851h0M233 852h0M478 852h0M659 850h0M620 851h0M391 851h0M607 851h0M202 851h0M245 850h0M191 851h0M411 850h0M238 853h0M462 853h0M461 853h0M543 851h0M191 850h0M598 852h0M326 850h0M515 853h0M300 853h0M457 851h0M263 852h0M673 851h0M294 850h0M278 851h0M392 851h0M527 851h0M309 851h0M256 850h0M213 850h0M533 850h0M427 853h0M501 851h0M384 851h0M339 850h0M249 850h0M277 851h0M220 852h0M273 852h0M544 851h0M570 852h0M409 851h0M544 854h0M323 853h0M262 856h0M422 856h0M627 854h0M287 856h0M293 855h0M678 854h0M396 856h0M637 856h0M551 854h0M190 853h0M670 855h0M648 856h0M294 856h0M314 854h0M313 856h0M679 854h0M428 855h0M605 856h0M362 854h0M445 856h0M500 856h0M271 855h0M667 855h0M599 855h0M406 855h0M543 854h0M449 855h0M647 856h0M365 855h0M466 856h0M295 854h0M304 855h0M553 853h0M223 853h0M488 855h0M352 853h0M485 855h0M400 854h0M354 854h0M610 854h0M555 855h0M289 854h0M531 856h0M667 853h0M306 853h0M267 854h0M558 856h0M488 853h0M370 853h0M317 855h0M439 854h0M315 856h0M509 855h0M340 854h0M581 853h0M522 856h0M512 853h0M182 855h0M265 854h0M521 855h0M321 855h0M665 854h0M381 855h0M643 855h0M673 855h0M689 854h0M533 854h0M228 854h0M683 854h0M333 856h0M702 855h0M357 855h0M199 853h0M198 854h0M296 856h0M409 856h0M431 854h0M350 853h0M413 856h0M697 856h0M217 854h0M621 853h0M199 854h0M209 855h0M555 856h0M191 855h0M599 854h0M207 856h0M597 853h0M266 855h0M257 854h0M246 853h0M429 855h0M628 853h0M358 853h0M467 853h0M345 856h0M520 855h0M496 854h0M539 856h0M212 856h0M352 854h0M523 856h0M271 858h0M276 858h0M707 856h0M398 857h0M255 858h0M684 857h0M470 858h0M635 859h0M346 857h0M667 858h0M648 856h0M597 856h0M236 856h0M362 857h0M524 859h0M399 858h0M389 857h0M309 856h0M304 858h0M602 858h0M405 857h0M267 857h0M711 858h0M385 858h0M434 857h0M393 857h0M657 859h0M321 857h0M285 859h0M238 857h0M170 857h0M416 856h0M247 857h0M423 857h0M193 857h0M354 856h0M492 857h0M455 858h0M171 857h0M513 859h0M542 859h0M527 857h0M610 858h0M431 859h0M190 859h0M359 858h0M601 857h0M436 856h0M183 859h0M284 857h0M229 859h0M442 859h0M313 857h0M299 858h0M552 858h0M484 857h0M686 856h0M255 858h0M698 859h0M298 859h0M414 858h0M519 858h0M646 859h0M337 859h0M337 858h0M250 858h0M328 859h0M528 857h0M692 856h0M573 858h0M173 857h0M227 859h0M218 858h0M462 856h0M676 858h0M503 857h0M248 857h0M182 857h0M436 857h0M581 856h0M276 858h0M541 857h0M277 856h0M363 857h0M601 857h0M350 858h0M277 856h0M697 859h0M337 857h0M416 857h0M595 859h0M554 857h0M624 859h0M264 858h0M258 859h0M600 857h0M570 857h0M198 858h0M205 857h0M632 858h0M309 857h0M470 858h0M659 857h0M419 857h0M370 857h0M374 858h0M270 857h0M453 859h0M428 857h0M182 858h0M352 856h0M424 858h0M356 858h0M510 856h0M190 858h0M496 858h0M289 857h0M557 857h0M454 857h0M509 857h0M165 858h0M604 859h0M681 858h0M420 857h0M550 857h0M341 856h0M496 858h0M586 856h0M276 858h0M234 859h0M673 858h0M307 858h0M584 857h0M520 858h0M662 858h0M531 858h0M652 858h0M542 857h0M222 858h0M285 859h0M285 859h0M346 857h0M480 857h0M709 858h0M219 857h0M225 857h0M453 857h0M533 857h0M613 858h0M305 858h0M711 1074h0M324 1074h0M287 1074h0M237 1075h0M567 1074h0M223 1075h0M652 1073h0M641 1074h0M704 1074h0M402 1073h0M480 1074h0M647 1074h0M648 1074h0M606 1075h0M676 1074h0M361 1074h0M292 1073h0M327 1074h0M615 1073h0M439 1074h0M250 1075h0M277 1075h0M256 1075h0M335 1073h0M246 1074h0M236 1074h0M696 1074h0M379 1075h0M204 1073h0M641 1074h0M259 1074h0M572 1075h0M382 1075h0M417 1074h0M336 1074h0M301 1075h0M213 1074h0M567 1073h0M692 1075h0M521 1074h0M275 1075h0M699 1073h0M612 1074h0M205 1074h0M215 1075h0M627 1074h0M243 1074h0M575 1073h0M550 1073h0M371 1074h0M208 1074h0M328 1075h0M660 1075h0M444 1075h0M346 1074h0M464 1074h0M407 1075h0M706 1075h0M635 1074h0M204 1074h0M438 1075h0M566 1075h0M591 1074h0M194 1074h0M344 1075h0M661 1074h0M588 1075h0M449 1074h0M687 1075h0M477 1075h0M245 1075h0M465 1074h0M233 1074h0M640 1074h0M657 1075h0M270 1074h0M430 1074h0M229 1074h0M680 1075h0M686 1074h0M437 1073h0M398 1074h0M709 1073h0M524 1073h0M697 1074h0M544 1075h0M276 1074h0M396 1074h0M381 1073h0M552 1075h0M461 1074h0M446 1073h0M569 1075h0M220 1074h0M231 1075h0M171 1075h0M199 1075h0M269 1074h0M554 1075h0M644 1073h0M556 1074h0M255 1074h0M678 1073h0M547 1074h0M648 1074h0M300 1075h0M223 1075h0M324 1073h0M255 1075h0M249 1075h0M244 1075h0M192 1075h0M457 1074h0M671 1074h0M709 1074h0M607 1074h0M711 1075h0M422 1074h0M646 1074h0M707 1075h0M574 1075h0M255 1075h0M556 1073h0M201 1073h0M283 1075h0M585 1075h0M366 1075h0M246 1074h0M405 1074h0M567 1075h0M572 1074h0M482 1074h0M465 1074h0M247 1075h0M609 1075h0M213 1074h0M575 1075h0M502 1075h0M397 1074h0M329 1077h0M593 1076h0M555 1077h0M175 1077h0M639 1077h0M631 1077h0M709 1075h0M397 1076h0M579 1076h0M528 1077h0M173 1077h0M344 1076h0M518 1077h0M281 1078h0M204 1076h0M651 1078h0M683 1078h0M570 1077h0M454 1077h0M681 1078h0M403 1076h0M459 1077h0M608 1078h0M504 1076h0M457 1076h0M458 1078h0M533 1077h0M250 1078h0M642 1077h0M192 1077h0M383 1077h0M371 1076h0M240 1077h0M448 1077h0M575 1077h0M252 1076h0M470 1077h0M511 1078h0M360 1078h0M483 1076h0M232 1077h0M628 1078h0M612 1078h0M487 1076h0M326 1078h0M313 1077h0M465 1075h0M224 1076h0M600 1078h0M211 1076h0M705 1076h0M603 1077h0M642 1078h0M217 1078h0M556 1076h0M681 1076h0M418 1077h0M468 1077h0M199 1078h0M451 1076h0M439 1076h0M400 1078h0M577 1076h0M321 1078h0M508 1076h0M498 1076h0M204 1077h0M225 1076h0M536 1078h0M201 1078h0M242 1076h0M172 1075h0M565 1078h0M170 1076h0M189 1077h0M340 1076h0M611 1076h0M510 1076h0M522 1076h0M271 1078h0M310 1077h0M526 1078h0M465 1076h0M530 1078h0M484 1077h0M614 1076h0M463 1077h0M667 1078h0M295 1077h0M491 1077h0M198 1078h0M413 1076h0M247 1075h0M663 1076h0M473 1078h0M585 1077h0M320 1077h0M606 1076h0M289 1077h0M492 1078h0M488 1076h0M562 1076h0M222 1075h0M480 1077h0M418 1077h0M266 1076h0M484 1077h0M437 1078h0M420 1078h0M197 1077h0M193 1076h0M267 1077h0M251 1078h0M328 1076h0M202 1077h0M594 1077h0M654 1077h0M517 1077h0M622 1077h0M240 1076h0M601 1076h0M262 1077h0M538 1077h0M521 1077h0M487 1075h0M390 1078h0M479 1076h0M505 1078h0M419 1077h0M614 1078h0M287 1077h0M327 1076h0M604 1077h0M665 1077h0M640 1076h0M385 1075h0M634 1078h0M430 1077h0M696 1077h0M331 1076h0M668 1078h0M453 1078h0M622 1077h0M223 1077h0M642 1077h0M398 1077h0M268 1076h0M537 1078h0M226 1077h0M440 1075h0M252 1076h0M543 1076h0M368 1077h0M578 1078h0M623 1076h0M470 1077h0M467 1077h0M373 1076h0M530 1078h0M538 1077h0M689 1076h0M479 1078h0M522 1075h0M444 1078h0M274 1077h0M703 1077h0M462 1077h0M630 1077h0M657 1078h0M384 1077h0M328 1076h0M430 1076h0M327 1078h0M696 1076h0M254 1076h0M411 1076h0M606 1076h0M459 1076h0M518 1076h0M435 1078h0M172 1076h0M203 1078h0M532 1076h0M657 1076h0M432 1078h0M493 1076h0M189 1076h0M683 1078h0M190 1080h0M272 1081h0M668 1081h0M590 1081h0M620 1080h0M560 1079h0M545 1080h0M704 1081h0M412 1081h0M485 1080h0M168 1079h0M305 1081h0M666 1080h0M580 1080h0M243 1079h0M483 1081h0M393 1081h0M347 1079h0M256 1080h0M482 1079h0M674 1079h0M565 1080h0M678 1079h0M177 1081h0M371 1081h0M529 1080h0M526 1081h0M344 1079h0M522 1080h0M189 1079h0M400 1079h0M451 1080h0M326 1081h0M568 1079h0M491 1082h0M496 1082h0M291 1079h0M343 1079h0M251 1079h0M438 1081h0M587 1079h0M584 1080h0M309 1079h0M635 1079h0M303 1079h0M601 1081h0M666 1081h0M627 1080h0M194 1079h0M240 1079h0M237 1079h0M191 1079h0M633 1079h0M443 1081h0M172 1081h0M461 1079h0M652 1081h0M219 1082h0M480 1080h0M280 1079h0M550 1081h0M263 1079h0M479 1079h0M352 1081h0M474 1079h0M547 1081h0M475 1081h0M425 1081h0M194 1079h0M328 1080h0M444 1079h0M543 1079h0M302 1080h0M176 1080h0M608 1081h0M369 1079h0M575 1081h0M208 1080h0M464 1081h0M275 1081h0M498 1081h0M684 1081h0M531 1079h0M313 1080h0M608 1080h0M316 1081h0M447 1082h0M522 1081h0M353 1082h0M427 1081h0M385 1080h0M260 1080h0M390 1081h0M250 1079h0M517 1080h0M648 1079h0M406 1081h0M578 1080h0M447 1080h0M166 1079h0M289 1081h0M269 1079h0M470 1081h0M519 1079h0M351 1079h0M599 1080h0M323 1079h0M434 1079h0M342 1079h0M268 1080h0M343 1079h0M642 1079h0M390 1079h0M195 1079h0M405 1081h0M306 1080h0M658 1080h0M408 1079h0M595 1081h0M295 1081h0M369 1080h0M177 1079h0M295 1079h0M617 1081h0M338 1081h0M329 1080h0M270 1081h0M446 1080h0M599 1080h0M432 1081h0M424 1080h0M327 1079h0M286 1082h0M487 1079h0M266 1080h0M444 1082h0M659 1079h0M606 1082h0M573 1081h0M372 1080h0M539 1081h0M557 1081h0M348 1081h0M491 1082h0M341 1080h0M636 1081h0M546 1079h0M249 1079h0M521 1079h0M525 1079h0M269 1079h0M464 1081h0M683 1079h0M210 1081h0M487 1081h0M556 1079h0M362 1079h0M410 1079h0M636 1081h0M267 1082h0M692 1080h0M643 1081h0M567 1080h0M509 1081h0M350 1080h0M212 1079h0M600 1079h0M549 1080h0M554 1079h0M211 1081h0M304 1079h0M418 1080h0M652 1081h0M402 1080h0M493 1079h0M327 1080h0M679 1080h0M278 1082h0M600 1079h0M365 1079h0M283 1084h0M557 1084h0M473 1082h0M183 1083h0M170 1083h0M588 1082h0M403 1083h0M246 1082h0M498 1082h0M247 1082h0M678 1084h0M224 1083h0M389 1082h0M301 1084h0M174 1085h0M320 1083h0M684 1082h0M235 1083h0M335 1083h0M483 1085h0M391 1082h0M368 1084h0M401 1082h0M300 1082h0M356 1083h0M532 1084h0M188 1082h0M615 1084h0M596 1082h0M544 1082h0M534 1082h0M624 1084h0M420 1084h0M682 1084h0M519 1084h0M359 1084h0M240 1083h0M210 1082h0M530 1083h0M277 1085h0M323 1083h0M432 1082h0M709 1084h0M653 1083h0M663 1084h0M680 1082h0M249 1082h0M213 1084h0M191 1083h0M358 1084h0M189 1084h0M689 1083h0M385 1084h0M331 1084h0M710 1082h0M421 1082h0M469 1083h0M697 1084h0M708 1084h0M616 1083h0M528 1082h0M354 1085h0M701 1082h0M435 1083h0M504 1083h0M307 1084h0M410 1084h0M560 1085h0M446 1083h0M587 1082h0M188 1084h0M544 1084h0M603 1082h0M645 1084h0M682 1083h0M639 1082h0M254 1083h0M530 1083h0M203 1084h0M203 1084h0M291 1084h0M489 1082h0M344 1082h0M456 1082h0M462 1083h0M229 1084h0M307 1085h0M386 1082h0M558 1084h0M367 1084h0M345 1085h0M328 1082h0M165 1083h0M506 1083h0M391 1083h0M363 1082h0M462 1084h0M178 1084h0M306 1083h0M283 1084h0M386 1083h0M387 1083h0M211 1085h0M397 1083h0M628 1083h0M598 1083h0M227 1083h0M317 1082h0M707 1085h0M422 1084h0M531 1083h0M234 1083h0M268 1084h0M490 1082h0M590 1085h0M427 1085h0M410 1082h0M417 1083h0M667 1083h0M691 1082h0M374 1082h0M191 1084h0M181 1082h0M402 1085h0M293 1082h0M548 1084h0M239 1085h0M638 1085h0M616 1083h0M548 1082h0M517 1083h0M348 1083h0M208 1084h0M583 1082h0M445 1082h0M463 1082h0M691 1083h0M451 1082h0M660 1082h0M330 1082h0M573 1083h0M636 1083h0M232 1083h0M211 1082h0M450 1083h0M281 1082h0M450 1083h0M428 1084h0M241 1082h0M199 1084h0M549 1082h0M345 1083h0M670 1083h0M555 1082h0M186 1082h0M516 1083h0M642 1084h0M528 1085h0M691 1084h0M212 1083h0M243 1084h0M441 1082h0M207 1083h0M506 1083h0M422 1084h0M547 1084h0M391 1082h0M641 1082h0M276 1082h0M490 1084h0M218 1083h0M479 1084h0M204 1084h0M375 1085h0M626 1087h0M609 1086h0M224 1086h0M206 1085h0M606 1085h0M377 1085h0M583 1088h0M181 1086h0M699 1086h0M333 1088h0M669 1086h0M531 1087h0M358 1085h0M369 1087h0M693 1086h0M389 1086h0M497 1085h0M665 1088h0M180 1085h0M336 1085h0M586 1087h0M463 1088h0M288 1085h0M374 1086h0M272 1088h0M576 1086h0M288 1086h0M380 1087h0M589 1088h0M208 1085h0M372 1088h0M414 1087h0M619 1086h0M370 1087h0M515 1088h0M312 1088h0M430 1087h0M515 1087h0M633 1085h0M317 1086h0M613 1085h0M591 1085h0M355 1086h0M556 1086h0M630 1087h0M374 1086h0M377 1087h0M330 1085h0M297 1086h0M608 1087h0M298 1086h0M655 1088h0M286 1088h0M195 1088h0M339 1088h0M180 1087h0M671 1087h0M477 1085h0M293 1088h0M639 1085h0M352 1087h0M330 1085h0M640 1085h0M511 1086h0M421 1087h0M573 1087h0M172 1087h0M599 1085h0M287 1087h0M641 1086h0M651 1085h0M306 1087h0M599 1085h0M476 1086h0M569 1086h0M338 1087h0M545 1086h0M555 1086h0M438 1085h0M352 1086h0M212 1086h0M356 1086h0M442 1088h0M630 1086h0M237 1085h0M649 1087h0M569 1088h0M384 1085h0M213 1086h0M585 1085h0M404 1085h0M281 1086h0M520 1088h0M339 1085h0M197 1085h0M182 1085h0M226 1086h0M414 1088h0M430 1085h0M243 1087h0M701 1087h0M292 1086h0M403 1086h0M318 1085h0M178 1088h0M699 1088h0M372 1087h0M277 1085h0M165 1086h0M601 1086h0M292 1086h0M460 1085h0M409 1088h0M409 1088h0M560 1085h0M668 1087h0M407 1085h0M525 1085h0M417 1085h0M390 1088h0M492 1086h0M503 1087h0M494 1086h0M280 1087h0M674 1087h0M431 1086h0M486 1085h0M436 1087h0M695 1085h0M273 1086h0M498 1088h0M222 1085h0M429 1087h0M179 1086h0M554 1086h0M262 1085h0M581 1086h0M459 1087h0M582 1086h0M364 1088h0M205 1087h0M416 1086h0M301 1088h0M330 1086h0M196 1088h0M619 1085h0M244 1086h0M179 1086h0M629 1087h0M439 1088h0M330 1086h0M309 1087h0M419 1085h0M434 1088h0M645 1087h0M637 1086h0M436 1087h0M274 1087h0M439 1086h0M436 1085h0M516 1085h0M409 1085h0M460 1085h0M616 1085h0M606 1086h0M687 1086h0M531 1089h0M610 1089h0M310 1090h0M286 1089h0M208 1089h0M283 1088h0M392 1089h0M490 1090h0M538 1090h0M422 1091h0M241 1089h0M170 1091h0M647 1089h0M626 1090h0M674 1091h0M345 1089h0M392 1091h0M420 1089h0M176 1089h0M671 1089h0M600 1091h0M678 1090h0M436 1089h0M680 1090h0M571 1088h0M519 1090h0M237 1089h0M413 1089h0M222 1088h0M414 1088h0M599 1089h0M316 1089h0M337 1090h0M556 1089h0M556 1090h0M609 1090h0M583 1088h0M356 1088h0M619 1088h0M671 1089h0M247 1090h0M265 1089h0M404 1090h0M448 1090h0M598 1091h0M504 1089h0M436 1089h0M621 1090h0M546 1090h0M546 1091h0M412 1090h0M649 1089h0M614 1089h0M251 1091h0M466 1091h0M492 1089h0M230 1091h0M302 1088h0M453 1090h0M478 1088h0M592 1090h0M342 1091h0M435 1090h0M213 1089h0M578 1090h0M549 1090h0M178 1091h0M186 1089h0M329 1089h0M216 1089h0M240 1089h0M352 1088h0M604 1088h0M274 1091h0M386 1091h0M332 1089h0M453 1089h0M707 1089h0M601 1089h0M355 1091h0M671 1088h0M492 1090h0M442 1089h0M558 1088h0M424 1089h0M638 1090h0M381 1090h0M461 1090h0M295 1090h0M520 1091h0M307 1089h0M591 1089h0M584 1091h0M254 1090h0M323 1089h0M357 1090h0M514 1089h0M538 1090h0M271 1091h0M449 1090h0M636 1089h0M420 1090h0M172 1089h0M461 1089h0M440 1090h0M226 1090h0M318 1088h0M417 1088h0M415 1088h0M407 1088h0M710 1089h0M407 1090h0M533 1088h0M629 1089h0M209 1089h0M505 1089h0M563 1089h0M611 1091h0M612 1088h0M394 1090h0M373 1088h0M486 1088h0M255 1089h0M711 1089h0M694 1090h0M518 1091h0M483 1090h0M423 1090h0M644 1088h0M676 1088h0M515 1088h0M578 1089h0M238 1091h0M299 1091h0M374 1090h0M408 1090h0M358 1089h0M290 1089h0M224 1089h0M316 1090h0M243 1088h0M698 1090h0M210 1091h0M580 1090h0M691 1090h0M240 1088h0M213 1089h0M467 1090h0M202 1088h0M216 1089h0M677 1090h0M187 1090h0M263 1089h0M340 1089h0M326 1089h0M352 1090h0M472 1090h0M317 1088h0M477 1089h0M279 1089h0M683 1090h0M187 1093h0M548 1094h0M581 1091h0M706 1091h0M586 1092h0M673 1094h0M574 1091h0M518 1091h0M396 1091h0M329 1091h0M460 1091h0M297 1093h0M324 1093h0M638 1093h0M613 1094h0M298 1092h0M709 1094h0M340 1094h0M211 1092h0M637 1091h0M636 1092h0M586 1091h0M438 1093h0M470 1094h0M182 1093h0M631 1093h0M293 1093h0M399 1092h0M588 1093h0M616 1092h0M171 1091h0M466 1091h0M505 1091h0M589 1091h0M542 1092h0M712 1092h0M447 1094h0M319 1094h0M325 1091h0M317 1092h0M491 1091h0M660 1093h0M573 1094h0M192 1093h0M633 1092h0M389 1092h0M672 1092h0M619 1092h0M494 1093h0M351 1092h0M210 1093h0M388 1092h0M339 1092h0M232 1093h0M248 1092h0M361 1094h0M553 1092h0M627 1094h0M345 1093h0M509 1093h0M660 1093h0M519 1094h0M414 1091h0M167 1093h0M421 1094h0M697 1092h0M273 1093h0M175 1091h0M204 1092h0M406 1092h0M541 1093h0M620 1093h0M577 1093h0M563 1092h0M479 1093h0M299 1092h0M169 1093h0M226 1092h0M266 1091h0M651 1092h0M689 1093h0M486 1092h0M520 1093h0M268 1093h0M311 1092h0M283 1093h0M676 1092h0M259 1092h0M332 1092h0M649 1093h0M433 1093h0M260 1092h0M405 1091h0M331 1093h0M494 1092h0M203 1093h0M248 1091h0M692 1093h0M678 1092h0M586 1094h0M508 1091h0M314 1092h0M404 1093h0M265 1092h0M175 1092h0M228 1092h0M173 1094h0M288 1093h0M481 1091h0M463 1093h0M294 1093h0M561 1093h0M360 1093h0M530 1092h0M568 1093h0M576 1092h0M243 1092h0M326 1093h0M196 1092h0M244 1093h0M274 1093h0M198 1092h0M573 1094h0M378 1094h0M646 1093h0M345 1092h0M542 1091h0M520 1092h0M266 1093h0M378 1091h0M245 1093h0M377 1093h0M503 1091h0M351 1093h0M297 1091h0M712 1092h0M525 1092h0M706 1092h0M180 1093h0M544 1094h0M224 1092h0M424 1092h0M234 1091h0M187 1092h0M237 1091h0M549 1096h0M353 1096h0M188 1095h0M676 1094h0M245 1095h0M356 1094h0M624 1096h0M485 1095h0M469 1096h0M476 1095h0M611 1096h0M293 1096h0M590 1095h0M341 1096h0M542 1095h0M650 1095h0M393 1096h0M580 1095h0M264 1095h0M172 1095h0M234 1095h0M364 1097h0M499 1095h0M514 1096h0M164 1095h0M549 1096h0M694 1094h0M445 1095h0M408 1096h0M403 1096h0M580 1097h0M484 1096h0M219 1095h0M268 1096h0M532 1094h0M481 1097h0M629 1095h0M364 1096h0M393 1097h0M631 1097h0M712 1094h0M683 1095h0M307 1096h0M382 1095h0M699 1095h0M209 1095h0M616 1096h0M413 1095h0M240 1096h0M579 1095h0M531 1097h0M361 1095h0M572 1096h0M380 1094h0M341 1096h0M266 1095h0M586 1095h0M232 1096h0M540 1096h0M662 1095h0M443 1095h0M633 1095h0M295 1095h0M616 1096h0M266 1096h0M705 1095h0M597 1096h0M502 1095h0M164 1097h0M345 1096h0M632 1097h0M566 1096h0M614 1097h0M668 1097h0M340 1097h0M214 1095h0M639 1096h0M687 1095h0M200 1094h0M648 1096h0M398 1096h0M183 1097h0M319 1095h0M430 1095h0M431 1096h0M264 1096h0M342 1095h0M656 1096h0M563 1096h0M396 1095h0M450 1097h0M259 1096h0M424 1097h0M553 1097h0M390 1095h0M300 1095h0M335 1095h0M507 1096h0M568 1096h0M696 1096h0M501 1096h0M425 1095h0M333 1095h0M443 1095h0M464 1096h0M705 1096h0M707 1095h0M497 1096h0M411 1095h0M293 1097h0M204 1096h0M426 1095h0M332 1097h0M347 1096h0M392 1096h0M469 1096h0M221 1094h0M520 1094h0M448 1095h0M570 1095h0M190 1094h0M345 1096h0M550 1096h0M688 1096h0M189 1096h0M358 1096h0M259 1095h0M297 1096h0M683 1095h0M440 1096h0M583 1095h0M310 1096h0M334 1095h0M509 1096h0M355 1098h0M386 1100h0M633 1097h0M258 1098h0M591 1099h0M254 1099h0M638 1099h0M354 1099h0M306 1100h0M241 1098h0M330 1099h0M583 1099h0M458 1098h0M486 1097h0M560 1100h0M414 1098h0M485 1098h0M673 1098h0M431 1099h0M573 1098h0M230 1099h0M232 1099h0M174 1100h0M611 1099h0M652 1099h0M532 1098h0M212 1097h0M216 1099h0M548 1100h0M373 1098h0M636 1099h0M701 1097h0M688 1098h0M602 1098h0M461 1099h0M559 1099h0M212 1100h0M193 1099h0M474 1099h0M285 1099h0M581 1098h0M674 1098h0M636 1098h0M368 1098h0M182 1097h0M247 1099h0M428 1097h0M667 1099h0M448 1098h0M393 1100h0M396 1099h0M670 1098h0M632 1097h0M552 1097h0M313 1097h0M647 1100h0M599 1098h0M224 1099h0M657 1099h0M164 1100h0M684 1099h0M175 1099h0M506 1097h0M407 1097h0M197 1099h0M584 1098h0M249 1098h0M288 1099h0M313 1100h0M172 1098h0M506 1098h0M209 1098h0M317 1099h0M295 1099h0M534 1098h0M188 1099h0M223 1098h0M671 1098h0M689 1097h0M181 1097h0M624 1100h0M313 1098h0M350 1099h0M330 1098h0M521 1098h0M237 1099h0M521 1097h0M401 1100h0M489 1099h0M699 1098h0M380 1097h0M657 1099h0M643 1099h0M350 1099h0M312 1099h0M508 1099h0M298 1099h0M462 1099h0M216 1099h0M214 1099h0M598 1098h0M401 1099h0M470 1100h0M626 1099h0M355 1097h0M535 1098h0M550 1099h0M636 1097h0M428 1098h0M351 1098h0M621 1098h0M465 1097h0M469 1099h0M231 1098h0M310 1099h0M207 1100h0M377 1100h0M182 1099h0M657 1098h0M369 1099h0M331 1098h0M665 1099h0M437 1098h0M569 1101h0M335 1101h0M194 1101h0M226 1102h0M346 1101h0M283 1101h0M289 1103h0M413 1102h0M338 1103h0M492 1101h0M537 1100h0M710 1102h0M281 1101h0M663 1102h0M595 1102h0M271 1102h0M481 1100h0M194 1102h0M667 1101h0M513 1100h0M646 1103h0M328 1102h0M570 1101h0M647 1100h0M321 1100h0M617 1102h0M289 1102h0M444 1102h0M392 1102h0M471 1101h0M365 1100h0M510 1102h0M289 1102h0M377 1101h0M198 1100h0M572 1100h0M318 1102h0M272 1102h0M424 1101h0M536 1102h0M685 1101h0M590 1102h0M477 1100h0M332 1101h0M188 1100h0M616 1100h0M471 1101h0M452 1101h0M309 1101h0M316 1103h0M416 1100h0M571 1100h0M572 1102h0M670 1102h0M574 1102h0M611 1102h0M654 1102h0M373 1101h0M624 1103h0M370 1103h0M599 1102h0M349 1101h0M322 1102h0M417 1101h0M244 1102h0M268 1101h0M455 1100h0M385 1101h0M635 1102h0M434 1101h0M173 1103h0M682 1100h0M473 1102h0M628 1103h0M660 1103h0M244 1103h0M704 1102h0M645 1101h0M401 1100h0M422 1103h0M551 1101h0M336 1101h0M399 1101h0M432 1102h0M386 1102h0M391 1101h0M430 1103h0M655 1102h0M580 1101h0M253 1101h0M240 1102h0M666 1102h0M283 1100h0M587 1102h0M243 1103h0M577 1103h0M703 1102h0M673 1103h0M251 1101h0M458 1102h0M246 1101h0M587 1103h0M424 1103h0M644 1103h0M267 1101h0M528 1102h0M620 1100h0M535 1100h0M334 1100h0M444 1100h0M525 1101h0M608 1101h0M707 1100h0M208 1102h0M439 1103h0M262 1104h0M402 1105h0M528 1104h0M376 1105h0M469 1103h0M361 1103h0M413 1104h0M329 1104h0M638 1103h0M212 1103h0M398 1104h0M674 1105h0M311 1103h0M464 1105h0M287 1105h0M363 1106h0M688 1104h0M606 1105h0M376 1105h0M660 1104h0M473 1104h0M177 1105h0M221 1106h0M167 1105h0M303 1105h0M507 1105h0M613 1106h0M227 1104h0M429 1106h0M381 1104h0M451 1104h0M206 1105h0M413 1106h0M220 1104h0M228 1106h0M409 1105h0M191 1104h0M376 1105h0M293 1106h0M344 1105h0M422 1104h0M195 1103h0M665 1106h0M500 1103h0M270 1104h0M182 1104h0M318 1104h0M623 1105h0M712 1104h0M202 1105h0M563 1105h0M367 1105h0M218 1105h0M544 1105h0M501 1104h0M399 1104h0M497 1106h0M348 1105h0M377 1104h0M550 1103h0M646 1103h0M256 1105h0M402 1104h0M431 1106h0M518 1104h0M684 1104h0M215 1105h0M604 1105h0M381 1105h0M279 1104h0M681 1106h0M682 1105h0M553 1104h0M381 1106h0M573 1106h0M246 1104h0M667 1106h0M613 1106h0M308 1105h0M221 1104h0M170 1104h0M270 1104h0M531 1105h0M648 1106h0M331 1104h0M393 1104h0M626 1105h0M528 1105h0M324 1104h0M581 1103h0M708 1103h0M278 1105h0M664 1103h0M679 1105h0M232 1105h0M290 1105h0M508 1106h0M669 1106h0M534 1105h0M640 1106h0M435 1106h0M691 1104h0M279 1105h0M463 1104h0M437 1104h0M392 1105h0M577 1105h0M220 1104h0M588 1107h0M569 1107h0M330 1109h0M271 1109h0M466 1106h0M421 1108h0M232 1107h0M430 1107h0M669 1107h0M656 1107h0M573 1106h0M484 1108h0M617 1106h0M572 1106h0M694 1107h0M632 1106h0M705 1108h0M285 1109h0M597 1108h0M398 1107h0M513 1109h0M568 1108h0M198 1107h0M323 1108h0M530 1108h0M165 1107h0M320 1107h0M320 1107h0M286 1107h0M648 1107h0M691 1108h0M655 1109h0M577 1109h0M270 1108h0M361 1107h0M314 1108h0M237 1106h0M628 1108h0M180 1107h0M165 1108h0M704 1106h0M480 1107h0M563 1108h0M565 1106h0M700 1108h0M223 1106h0M609 1108h0M372 1109h0M510 1108h0M186 1107h0M371 1107h0M353 1109h0M366 1106h0M301 1109h0M447 1107h0M644 1109h0M392 1106h0M340 1106h0M643 1108h0M340 1108h0M629 1109h0M259 1107h0M519 1107h0M454 1107h0M388 1108h0M380 1107h0M392 1108h0M248 1107h0M291 1109h0M168 1107h0M693 1108h0M293 1108h0M439 1106h0M220 1106h0M320 1107h0M696 1109h0M465 1108h0M504 1108h0M367 1108h0M283 1107h0M310 1107h0M326 1108h0M185 1107h0M495 1108h0M596 1107h0M506 1106h0M671 1108h0M598 1106h0M390 1107h0M626 1108h0M250 1109h0M276 1106h0M471 1107h0M687 1106h0M661 1108h0M338 1106h0M551 1106h0M324 1106h0M355 1109h0M628 1108h0M510 1111h0M619 1112h0M682 1110h0M685 1110h0M226 1111h0M189 1112h0M701 1111h0M305 1111h0M193 1110h0M615 1110h0M250 1110h0M356 1110h0M341 1109h0M516 1110h0M499 1110h0M659 1111h0M468 1110h0M631 1110h0M392 1111h0M194 1110h0M209 1112h0M598 1109h0M279 1111h0M462 1110h0M387 1110h0M388 1109h0M200 1110h0M178 1110h0M272 1110h0M489 1112h0M550 1111h0M470 1111h0M510 1109h0M364 1109h0M540 1110h0M401 1109h0M696 1110h0M240 1110h0M338 1110h0M546 1110h0M170 1112h0M230 1112h0M705 1111h0M584 1109h0M274 1111h0M545 1109h0M310 1109h0M598 1111h0M355 1111h0M438 1110h0M457 1109h0M558 1112h0M254 1110h0M489 1111h0M588 1110h0M576 1110h0M591 1111h0M478 1112h0M260 1110h0M353 1109h0M591 1110h0M254 1109h0M591 1111h0M343 1110h0M359 1110h0M184 1110h0M689 1110h0M548 1111h0M419 1111h0M545 1111h0M595 1110h0M289 1110h0M596 1110h0M166 1110h0M655 1110h0M478 1110h0M461 1111h0M344 1110h0M409 1112h0M178 1110h0M283 1110h0M595 1111h0M486 1110h0M456 1111h0M346 1109h0M696 1111h0M694 1111h0M350 1110h0M676 1111h0M479 1109h0M329 1110h0M214 1110h0M421 1110h0M452 1112h0M614 1113h0M291 1114h0M676 1113h0M204 1115h0M170 1114h0M703 1114h0M168 1113h0M575 1114h0M210 1113h0M427 1113h0M235 1113h0M383 1115h0M343 1115h0M175 1113h0M246 1112h0M323 1114h0M497 1113h0M563 1114h0M638 1114h0M213 1114h0M688 1115h0M524 1112h0M639 1114h0M563 1115h0M280 1112h0M678 1115h0M210 1113h0M634 1114h0M450 1115h0M179 1113h0M249 1115h0M484 1113h0M640 1115h0M428 1115h0M282 1114h0M709 1113h0M549 1115h0M638 1113h0M374 1112h0M441 1115h0M326 1115h0M309 1113h0M527 1115h0M680 1113h0M378 1114h0M600 1114h0M310 1115h0M583 1114h0M347 1114h0M201 1114h0M393 1114h0M486 1113h0M337 1114h0M238 1113h0M514 1113h0M668 1114h0M339 1113h0M315 1113h0M238 1113h0M692 1115h0M664 1115h0M549 1115h0M515 1113h0M256 1114h0M693 1115h0M698 1113h0M539 1115h0M560 1115h0M641 1114h0M643 1113h0M617 1113h0M281 1115h0M599 1114h0M422 1113h0M626 1114h0M531 1115h0M178 1114h0M632 1112h0M189 1115h0M307 1114h0M674 1113h0M435 1112h0M642 1115h0M403 1114h0M246 1115h0M607 1114h0M182 1113h0M527 1115h0M434 1114h0M413 1114h0M320 1113h0M641 1114h0M325 1116h0M448 1116h0M411 1116h0M376 1116h0M188 1118h0M330 1117h0M682 1116h0M355 1117h0M681 1117h0M518 1115h0M335 1117h0M522 1116h0M568 1118h0M299 1117h0M219 1116h0M481 1118h0M269 1118h0M526 1118h0M199 1117h0M243 1118h0M536 1116h0M707 1118h0M378 1116h0M588 1116h0M636 1116h0M632 1116h0M487 1116h0M504 1115h0M362 1116h0M488 1118h0M434 1118h0M248 1117h0M381 1116h0M347 1116h0M431 1117h0M598 1118h0M383 1118h0M491 1115h0M618 1118h0M515 1117h0M662 1118h0M483 1115h0M447 1116h0M420 1117h0M284 1115h0M435 1117h0M451 1118h0M712 1118h0M348 1117h0M481 1116h0M679 1118h0M693 1116h0M439 1117h0M219 1116h0M524 1118h0M198 1116h0M443 1116h0M308 1116h0M334 1115h0M318 1115h0M646 1117h0M436 1116h0M536 1116h0M623 1118h0M292 1117h0M363 1118h0M293 1115h0M286 1118h0M504 1117h0M432 1117h0M399 1117h0M521 1118h0M680 1117h0M616 1116h0M275 1118h0M199 1117h0M297 1117h0M330 1118h0M219 1118h0M688 1116h0M606 1117h0M287 1117h0M233 1116h0M204 1116h0M649 1117h0M638 1117h0M332 1117h0M699 1118h0M272 1119h0M442 1120h0M230 1120h0M648 1120h0M349 1120h0M298 1118h0M330 1119h0M590 1120h0M643 1119h0M335 1119h0M596 1119h0M472 1120h0M566 1120h0M321 1121h0M429 1119h0M462 1120h0M216 1118h0M436 1121h0M361 1120h0M305 1121h0M600 1120h0M668 1120h0M371 1118h0M370 1121h0M587 1120h0M407 1120h0M193 1120h0M628 1119h0M206 1120h0M498 1119h0M392 1121h0M709 1121h0M258 1119h0M309 1121h0M502 1120h0M211 1121h0M699 1119h0M323 1118h0M626 1119h0M256 1121h0M534 1120h0M296 1121h0M351 1121h0M515 1120h0M698 1120h0M305 1119h0M183 1120h0M674 1121h0M354 1119h0M605 1121h0M335 1119h0M307 1121h0M426 1120h0M535 1121h0M461 1118h0M527 1119h0M633 1120h0M541 1120h0M631 1121h0M667 1121h0M303 1121h0M356 1121h0M469 1120h0M214 1119h0M234 1119h0M640 1121h0M355 1120h0M478 1120h0M210 1121h0M180 1119h0M560 1119h0M514 1120h0M427 1120h0M611 1120h0M584 1120h0M649 1119h0M326 1118h0M179 1120h0M414 1119h0M248 1119h0M652 1120h0M392 1120h0M433 1122h0M703 1123h0M561 1124h0M218 1122h0M286 1122h0M270 1123h0M619 1123h0M559 1123h0M671 1124h0M234 1124h0M686 1124h0M466 1123h0M212 1122h0M213 1122h0M590 1123h0M365 1124h0M338 1124h0M290 1122h0M284 1124h0M649 1122h0M673 1122h0M547 1123h0M288 1123h0M286 1123h0M572 1123h0M658 1124h0M263 1122h0M169 1123h0M204 1122h0M230 1123h0M305 1124h0M601 1123h0M458 1122h0M197 1124h0M211 1123h0M293 1122h0M282 1122h0M676 1122h0M520 1122h0M675 1124h0M443 1124h0M562 1124h0M450 1122h0M205 1124h0M691 1123h0M651 1124h0M336 1124h0M591 1124h0M290 1122h0M346 1122h0M450 1123h0M383 1122h0M239 1122h0M529 1122h0M654 1124h0M416 1122h0M522 1124h0M612 1122h0M280 1122h0M681 1122h0M379 1124h0M323 1124h0M172 1123h0M178 1124h0M320 1124h0M578 1122h0M328 1124h0M539 1123h0M236 1122h0M355 1123h0M522 1124h0M543 1123h0M453 1123h0M192 1122h0M462 1123h0M639 1122h0M354 1122h0M522 1124h0M218 1123h0M569 1127h0M254 1127h0M411 1127h0M271 1127h0M666 1126h0M256 1126h0M366 1127h0M258 1126h0M366 1126h0M563 1125h0M291 1125h0M434 1127h0M595 1127h0M252 1128h0M172 1125h0M509 1127h0M378 1127h0M411 1126h0M335 1126h0M223 1127h0M256 1126h0M672 1127h0M612 1125h0M605 1125h0M287 1125h0M536 1128h0M280 1126h0M321 1127h0M169 1127h0M328 1125h0M617 1127h0M596 1127h0M412 1126h0M598 1126h0M297 1127h0M404 1127h0M642 1127h0M201 1126h0M409 1125h0M322 1125h0M551 1125h0M261 1127h0M311 1127h0M528 1127h0M205 1125h0M615 1126h0M329 1126h0M182 1127h0M588 1128h0M337 1127h0M678 1127h0M417 1128h0M461 1126h0M479 1125h0M378 1126h0M595 1126h0M353 1128h0M206 1125h0M355 1128h0M420 1126h0M615 1125h0M603 1125h0M489 1128h0M495 1125h0M280 1127h0M309 1127h0M399 1125h0M564 1127h0M531 1125h0M367 1126h0M666 1125h0M400 1126h0M507 1126h0M338 1126h0M462 1125h0M302 1129h0M359 1129h0M365 1130h0M292 1131h0M206 1129h0M562 1130h0M331 1129h0M556 1129h0M606 1131h0M246 1130h0M291 1129h0M655 1130h0M644 1129h0M320 1129h0M361 1129h0M302 1128h0M497 1128h0M290 1128h0M542 1128h0M314 1130h0M450 1129h0M343 1129h0M590 1129h0M239 1128h0M548 1129h0M674 1128h0M555 1129h0M318 1130h0M339 1128h0M410 1129h0M210 1131h0M382 1129h0M233 1128h0M264 1128h0M464 1130h0M630 1129h0M605 1130h0M195 1128h0M274 1130h0M573 1128h0M296 1128h0M508 1129h0M681 1130h0M320 1129h0M439 1129h0M600 1128h0M639 1130h0M379 1131h0M355 1130h0M692 1131h0M703 1129h0M589 1130h0M327 1129h0M669 1130h0M331 1130h0M227 1129h0M478 1129h0M169 1130h0M500 1130h0M255 1128h0M188 1129h0M184 1128h0M437 1129h0M539 1128h0M447 1129h0M271 1131h0M675 1131h0M301 1128h0M546 1131h0M355 1129h0M606 1129h0M554 1132h0M613 1133h0M569 1131h0M428 1134h0M431 1133h0M455 1134h0M205 1132h0M255 1134h0M699 1131h0M320 1132h0M496 1133h0M304 1133h0M411 1132h0M364 1132h0M181 1131h0M695 1132h0M356 1134h0M333 1131h0M641 1132h0M519 1132h0M233 1132h0M584 1133h0M527 1133h0M478 1133h0M269 1131h0M403 1134h0M286 1133h0M617 1133h0M223 1131h0M607 1132h0M176 1133h0M546 1133h0M555 1133h0M361 1134h0M310 1132h0M224 1133h0M540 1132h0M369 1131h0M512 1131h0M580 1133h0M637 1133h0M581 1132h0M680 1133h0M464 1132h0M626 1133h0M467 1133h0M595 1134h0M272 1134h0M319 1132h0M566 1133h0M351 1132h0M455 1132h0M384 1132h0M170 1134h0M355 1134h0M507 1131h0M261 1132h0M271 1131h0M584 1132h0M247 1132h0M537 1133h0M402 1132h0M184 1133h0M453 1134h0M299 1131h0M454 1133h0M292 1132h0M627 1136h0M314 1135h0M303 1134h0M620 1136h0M336 1135h0M674 1135h0M549 1137h0M330 1136h0M337 1137h0M243 1135h0M546 1135h0M414 1137h0M251 1135h0M502 1135h0M412 1135h0M512 1136h0M190 1136h0M678 1135h0M595 1135h0M657 1137h0M551 1135h0M353 1135h0M648 1137h0M552 1137h0M347 1134h0M426 1137h0M490 1137h0M520 1135h0M431 1135h0M378 1137h0M669 1136h0M551 1135h0M517 1137h0M205 1137h0M258 1134h0M176 1135h0M569 1135h0M681 1136h0M240 1136h0M280 1136h0M191 1136h0M355 1136h0M202 1135h0M375 1134h0M395 1137h0M183 1137h0M351 1136h0M610 1136h0M502 1137h0M407 1136h0M428 1135h0M710 1134h0M686 1136h0M260 1137h0M185 1136h0M692 1136h0M668 1136h0M564 1137h0M673 1135h0M259 1135h0M660 1138h0M700 1137h0M414 1139h0M366 1139h0M308 1137h0M651 1139h0M342 1139h0M220 1138h0M434 1140h0M485 1138h0M507 1140h0M369 1138h0M459 1137h0M297 1139h0M410 1138h0M164 1140h0M626 1139h0M470 1138h0M695 1140h0M683 1139h0M524 1140h0M290 1138h0M475 1138h0M487 1139h0M671 1138h0M387 1139h0M165 1137h0M179 1140h0M640 1139h0M306 1139h0M246 1139h0M452 1139h0M230 1140h0M487 1140h0M214 1139h0M612 1140h0M293 1138h0M653 1139h0M224 1139h0M327 1139h0M221 1139h0M383 1137h0M302 1139h0M683 1140h0M185 1140h0M508 1138h0M185 1139h0M458 1138h0M457 1137h0M681 1140h0M566 1140h0M261 1138h0M688 1140h0M515 1137h0M435 1139h0M458 1138h0M329 1141h0M692 1141h0M277 1143h0M234 1140h0M379 1142h0M524 1143h0M666 1140h0M603 1141h0M498 1142h0M230 1142h0M675 1141h0M515 1142h0M363 1140h0M544 1140h0M673 1141h0M467 1140h0M458 1141h0M522 1140h0M321 1142h0M588 1142h0M178 1143h0M380 1142h0M704 1143h0M361 1141h0M442 1142h0M237 1142h0M626 1141h0M502 1142h0M280 1143h0M239 1142h0M204 1143h0M313 1142h0M528 1142h0M587 1141h0M405 1142h0M554 1141h0M358 1142h0M214 1142h0M383 1142h0M343 1140h0M546 1141h0M202 1140h0M685 1142h0M240 1140h0M470 1141h0M189 1142h0M442 1142h0M223 1140h0M506 1140h0M443 1141h0M639 1142h0M243 1145h0M290 1145h0M356 1144h0M365 1145h0M361 1144h0M360 1146h0M699 1145h0M581 1144h0M563 1145h0M706 1144h0M164 1145h0M552 1144h0M697 1144h0M516 1146h0M704 1144h0M564 1143h0M438 1143h0M590 1145h0M195 1146h0M434 1146h0M667 1145h0M404 1145h0M437 1144h0M164 1145h0M667 1145h0M456 1146h0M345 1144h0M594 1146h0M470 1145h0M501 1144h0M397 1143h0M486 1145h0M357 1145h0M565 1145h0M259 1144h0M494 1146h0M175 1143h0M269 1145h0M249 1145h0M329 1145h0M397 1144h0M455 1146h0M637 1145h0M556 1146h0M553 1145h0M586 1143h0M307 1147h0M210 1147h0M447 1148h0M701 1149h0M505 1148h0M378 1146h0M332 1148h0M472 1146h0M282 1148h0M680 1147h0M448 1149h0M570 1148h0M461 1148h0M342 1146h0M608 1148h0M218 1149h0M417 1147h0M206 1146h0M606 1148h0M476 1148h0M359 1148h0M700 1146h0M309 1148h0M542 1148h0M238 1147h0M422 1146h0M475 1146h0M438 1148h0M213 1149h0M574 1147h0M215 1148h0M400 1149h0M421 1148h0M349 1146h0M388 1147h0M441 1147h0M561 1149h0M535 1147h0M193 1148h0M383 1149h0M501 1152h0M333 1150h0M306 1149h0M692 1150h0M617 1149h0M658 1150h0M620 1150h0M291 1150h0M389 1150h0M260 1149h0M174 1149h0M276 1152h0M528 1151h0M203 1150h0M686 1152h0M656 1150h0M520 1150h0M516 1151h0M486 1149h0M291 1150h0M448 1150h0M369 1150h0M473 1150h0M353 1151h0M507 1151h0M509 1149h0M358 1151h0M555 1152h0M565 1151h0M499 1150h0M479 1150h0M346 1150h0M688 1152h0M331 1151h0M200 1151h0M631 1153h0M445 1154h0M490 1155h0M566 1154h0M378 1153h0M413 1155h0M179 1153h0M547 1152h0M602 1153h0M649 1153h0M587 1155h0M342 1154h0M589 1155h0M478 1155h0M652 1155h0M276 1153h0M501 1154h0M219 1154h0M668 1154h0M263 1153h0M662 1153h0M209 1153h0M477 1153h0M433 1154h0M528 1153h0M267 1153h0M263 1154h0M379 1155h0M265 1154h0M316 1152h0M238 1154h0M503 1157h0M205 1158h0M678 1156h0M256 1158h0M210 1157h0M333 1158h0M237 1157h0M233 1156h0M557 1158h0M248 1158h0M246 1156h0M300 1156h0M491 1155h0M606 1158h0M688 1157h0M236 1156h0M235 1158h0M496 1157h0M585 1158h0M695 1156h0M364 1157h0M499 1157h0M301 1156h0M533 1155h0M617 1155h0M396 1158h0M265 1157h0M225 1160h0M657 1160h0M667 1159h0M536 1161h0M261 1161h0M318 1160h0M242 1161h0M322 1160h0M628 1160h0M480 1160h0M596 1160h0M649 1159h0M709 1158h0M610 1160h0M644 1159h0M213 1161h0M390 1159h0M628 1160h0M278 1160h0M493 1158h0M450 1160h0M266 1161h0M369 1160h0M401 1165h0M373 1163h0M304 1163h0M320 1165h0M677 1162h0M587 1164h0M531 1164h0M312 1164h0M593 1164h0M417 1164h0M682 1162h0M178 1164h0M199 1164h0M631 1165h0M236 1163h0M198 1164h0M227 1162h0M276 1162h0M642 1164h0M548 1166h0M275 1165h0M208 1165h0M318 1166h0M202 1166h0M437 1166h0M206 1166h0M631 1167h0M553 1166h0M257 1167h0M210 1166h0M361 1165h0M191 1166h0M478 1166h0M610 1167h0M287 1169h0M356 1168h0M317 1169h0M376 1169h0M590 1170h0M669 1170h0M483 1170h0M671 1169h0M632 1169h0M585 1170h0M323 1170h0M253 1172h0M687 1172h0M235 1174h0M423 1173h0M233 1173h0M409 1173h0M424 1173h0M706 1171h0M192 1172h0M229 1171h0M622 1175h0M266 1175h0M372 1178h0M206 1176h0M453 1175h0M550 1181h0M600 1181h0M710 1073h0M709 1084h0M710 1087h0M711 1099h0M711 1103h0M710 1111h0M710 1129h0M710 1153h0M710 1159h0"/></defs>
<use href="#d9" stroke="#f40a0a" stroke-width="7" opacity="0.32"/>
<use href="#d9" stroke="#f40a0a" stroke-width="4.4"/>
<defs><path id="d10" d="M292 859h0M686 860h0M625 861h0M213 861h0M175 861h0M599 860h0M584 863h0M317 862h0M461 1032h0M266 1032h0M207 1031h0M246 1035h0M237 1036h0M279 1036h0M693 1037h0M538 1036h0M697 1038h0M239 1039h0M354 1042h0M597 1040h0M608 1039h0M377 1042h0M668 1044h0M710 1044h0M504 1042h0M656 1047h0M514 1046h0M360 1045h0M283 1046h0M193 1050h0M710 1050h0M619 1049h0M630 1049h0M633 1049h0M452 1052h0M305 1053h0M597 1054h0M523 1052h0M421 1053h0M667 1056h0M691 1055h0M408 1054h0M341 1055h0M405 1057h0M310 1060h0M666 1057h0M486 1058h0M193 1058h0M397 1062h0M199 1062h0M499 1061h0M475 1063h0M653 1062h0M575 1064h0M551 1064h0M468 1065h0M485 1065h0M374 1064h0M408 1067h0M371 1067h0M507 1069h0M270 1068h0M455 1068h0M527 1067h0M363 1071h0M509 1072h0M524 1071h0M356 1072h0M234 1072h0M432 1071h0M543 1071h0M229 1072h0M490 1072h0"/></defs>
<use href="#d10" stroke="#ffffff" stroke-width="5.4" opacity="0.3"/>
<use href="#d10" stroke="#ffffff" stroke-width="3.4"/>
<path d="M162 934V933H167V933H172V933H177V933H182V933H187V934H192V933H197V934H202V933H207V934H212V933H217V934H222V933H227V933H232V933H237V934H242V933H247V933H252V934H257V934H262V934H267V934H272V934H277V933H282V933H287V933H292V934H297V934H302V933H307V934H312V934H317V933H322V934H327V933H332V933H337V933H342V934H347V934H352V933H357V934H362V934H367V933H372V933H377V934H382V933H387V933H392V933H397V934H402V933H407V934H412V934H417V933H422V933H427V933H432V933H437V934H442V934H447V933H452V933H457V934H462V933H467V934H472V934H477V933H482V933H487V933H492V934H497V933H502V933H507V933H512V933H517V933H522V934H527V932H532V933H537V934H542V933H547V933H552V934H557V934H562V934H567V934H572V933H577V933H582V932H587V934H592V933H597V933H602V933H607V934H612V934H617V933H622V934H627V933H632V934H637V933H642V933H647V934H652V933H657V933H662V934H667V934H672V933H677V933H682V934H687V933H692V933H697V933H702V933H707V933H712V934H713V1009V1011H708V1011H703V1010H698V1011H693V1010H688V1011H683V1010H678V1010H673V1011H668V1009H663V1009H658V1010H653V1010H648V1011H643V1012H638V1012H633V1009H628V1011H623V1009H618V1009H613V1009H608V1011H603V1011H598V1010H593V1011H588V1011H583V1009H578V1010H573V1012H568V1009H563V1011H558V1009H553V1010H548V1009H543V1009H538V1009H533V1010H528V1012H523V1009H518V1010H513V1010H508V1010H503V1009H498V1010H493V1012H488V1009H483V1011H478V1011H473V1010H468V1011H463V1010H458V1012H453V1009H448V1011H443V1011H438V1011H433V1012H428V1009H423V1011H418V1011H413V1009H408V1010H403V1011H398V1011H393V1010H388V1011H383V1012H378V1009H373V1010H368V1011H363V1011H358V1010H353V1012H348V1012H343V1011H338V1010H333V1009H328V1009H323V1010H318V1010H313V1009H308V1009H303V1011H298V1011H293V1010H288V1009H283V1012H278V1012H273V1011H268V1011H263V1011H258V1010H253V1010H248V1009H243V1010H238V1009H233V1009H228V1011H223V1010H218V1010H213V1011H208V1011H203V1011H198V1012H193V1009H188V1010H183V1009H178V1011H173V1011H168V1009H163V1010H162Z" fill="#0000fe" stroke="none"/>
<defs><path id="d11" d="M612 912h0M299 912h0M644 914h0M176 914h0M308 915h0M628 917h0M654 919h0M461 916h0M596 919h0M237 918h0M214 917h0M249 921h0M705 921h0M681 920h0M234 920h0M613 920h0M354 922h0M497 921h0M642 920h0M502 924h0M539 925h0M539 923h0M560 923h0M216 924h0M374 924h0M228 925h0M372 926h0M427 925h0M607 925h0M210 928h0M694 928h0M208 927h0M336 926h0M304 926h0M485 928h0M347 928h0M639 927h0M637 927h0M499 928h0M165 928h0M306 927h0M597 927h0M232 928h0M641 927h0M341 926h0M701 930h0M244 930h0M210 930h0M687 929h0M439 931h0M217 930h0M603 931h0M457 930h0M460 930h0M701 930h0M287 929h0M433 930h0M599 929h0M268 929h0M581 929h0M169 930h0M606 931h0M310 929h0M223 929h0M271 930h0M553 930h0M589 929h0M695 930h0M309 931h0M299 929h0M581 929h0M708 931h0M347 931h0M488 930h0M319 931h0M500 929h0M334 929h0M344 931h0M480 930h0M572 929h0M495 930h0M208 931h0M433 929h0M698 930h0M701 931h0M314 933h0M327 933h0M362 933h0M389 934h0M461 932h0M642 933h0M708 931h0M214 933h0M651 931h0M351 934h0M559 933h0M540 934h0M481 932h0M277 932h0M612 934h0M362 932h0M701 931h0M376 932h0M547 931h0M537 931h0M277 933h0M584 932h0M522 931h0M249 932h0M205 934h0M479 934h0M420 933h0M179 934h0M336 933h0M630 932h0M353 934h0M605 934h0M385 932h0M440 933h0M533 934h0M509 932h0M588 934h0M623 931h0M383 934h0M378 932h0M184 933h0M180 932h0M415 932h0M414 934h0M203 932h0M530 933h0M472 932h0M358 934h0M428 932h0M422 931h0M477 934h0M520 931h0M626 932h0M183 932h0M456 931h0M707 932h0M168 933h0M700 931h0M251 931h0M363 932h0M180 934h0M585 932h0M509 933h0M603 932h0M688 934h0M507 933h0M521 931h0M652 933h0M272 932h0M560 934h0M282 932h0M706 931h0M379 934h0M559 933h0M410 931h0M576 932h0M204 934h0M211 933h0M545 933h0M380 934h0M298 933h0M394 934h0M632 932h0M653 933h0M350 932h0M259 931h0M284 932h0M539 934h0M542 934h0M682 934h0M322 931h0M488 932h0M702 931h0M683 932h0M536 934h0M427 934h0M625 931h0M611 934h0M616 933h0M492 931h0M471 932h0M291 934h0M305 932h0M635 933h0M645 932h0M659 932h0M649 933h0M350 932h0M224 933h0M203 934h0M305 932h0M375 933h0M671 931h0M357 933h0M446 934h0M460 933h0M530 932h0M406 932h0M538 1011h0M530 1009h0M230 1010h0M497 1010h0M678 1010h0M706 1009h0M619 1011h0M256 1009h0M423 1009h0M486 1009h0M183 1009h0M224 1010h0M596 1010h0M253 1010h0M704 1011h0M238 1010h0M210 1011h0M342 1010h0M665 1010h0M338 1009h0M531 1010h0M537 1009h0M349 1009h0M249 1009h0M289 1011h0M639 1010h0M340 1010h0M659 1009h0M226 1011h0M313 1011h0M325 1009h0M339 1011h0M634 1010h0M454 1010h0M353 1011h0M379 1009h0M485 1010h0M337 1011h0M529 1010h0M670 1009h0M262 1011h0M225 1010h0M321 1009h0M683 1010h0M340 1009h0M557 1010h0M325 1009h0M357 1010h0M330 1010h0M422 1009h0M462 1009h0M553 1011h0M290 1009h0M481 1009h0M225 1010h0M265 1010h0M441 1009h0M662 1010h0M597 1011h0M304 1009h0M322 1010h0M568 1009h0M308 1009h0M603 1011h0M488 1010h0M399 1010h0M369 1009h0M291 1010h0M349 1010h0M246 1010h0M674 1009h0M706 1009h0M695 1011h0M666 1011h0M700 1010h0M610 1009h0M613 1009h0M635 1010h0M539 1011h0M343 1011h0M670 1010h0M539 1009h0M384 1010h0M486 1010h0M237 1009h0M427 1011h0M708 1009h0M701 1009h0M699 1010h0M603 1010h0M516 1009h0M237 1011h0M194 1010h0M685 1010h0M479 1010h0M596 1009h0M226 1009h0M509 1009h0M357 1010h0M351 1010h0M679 1010h0M603 1009h0M654 1011h0M224 1009h0M300 1011h0M253 1013h0M432 1013h0M436 1011h0M704 1014h0M409 1014h0M533 1012h0M228 1014h0M184 1012h0M341 1013h0M375 1011h0M378 1011h0M486 1014h0M528 1014h0M473 1013h0M477 1011h0M336 1012h0M460 1014h0M551 1012h0M704 1013h0M203 1013h0M325 1012h0M499 1014h0M560 1014h0M477 1011h0M485 1014h0M345 1014h0M202 1013h0M287 1013h0M294 1013h0M266 1014h0M669 1013h0M257 1013h0M275 1014h0M626 1011h0M243 1013h0M304 1011h0M258 1011h0M638 1011h0M203 1012h0M178 1013h0M583 1013h0M703 1014h0M482 1011h0M575 1011h0M688 1013h0M534 1011h0M606 1013h0M681 1012h0M368 1014h0M396 1013h0M577 1012h0M474 1013h0M702 1012h0M348 1012h0M254 1011h0M526 1013h0M392 1011h0M385 1011h0M506 1011h0M314 1011h0M439 1014h0M539 1011h0M238 1013h0M211 1013h0M184 1011h0M648 1012h0M339 1011h0M564 1013h0M556 1011h0M374 1012h0M168 1012h0M453 1012h0M559 1012h0M422 1012h0M386 1012h0M400 1013h0M427 1012h0M576 1011h0M621 1014h0M274 1012h0M470 1011h0M444 1012h0M596 1012h0M575 1011h0M448 1012h0M368 1012h0M348 1013h0M530 1011h0M397 1012h0M524 1013h0M658 1017h0M464 1014h0M553 1017h0M664 1015h0M230 1016h0M248 1015h0M262 1017h0M694 1017h0M486 1017h0M665 1015h0M370 1015h0M269 1017h0M340 1015h0M636 1016h0M185 1016h0M216 1016h0M298 1017h0M475 1016h0M579 1017h0M392 1016h0M247 1017h0M206 1016h0M376 1014h0M234 1015h0M245 1016h0M709 1017h0M646 1016h0M263 1014h0M474 1015h0M536 1015h0M319 1016h0M662 1016h0M586 1014h0M443 1017h0M177 1017h0M403 1014h0M514 1017h0M367 1014h0M454 1014h0M699 1016h0M425 1014h0M368 1014h0M237 1016h0M327 1016h0M537 1014h0M680 1016h0M465 1014h0M688 1015h0M297 1016h0M427 1015h0M219 1017h0M608 1017h0M537 1015h0M667 1014h0M413 1017h0M459 1017h0M590 1015h0M689 1014h0M584 1014h0M227 1014h0M266 1016h0M392 1016h0M659 1015h0M199 1017h0M701 1017h0M662 1016h0M220 1017h0M687 1015h0M261 1014h0M385 1015h0M353 1015h0M603 1015h0M255 1016h0M430 1014h0M421 1015h0M303 1017h0M432 1020h0M395 1020h0M443 1018h0M337 1020h0M640 1020h0M671 1018h0M179 1020h0M486 1018h0M298 1020h0M589 1018h0M343 1018h0M317 1020h0M173 1018h0M599 1018h0M400 1021h0M699 1020h0M593 1019h0M388 1017h0M430 1017h0M213 1019h0M656 1019h0M444 1018h0M501 1020h0M704 1018h0M294 1019h0M424 1020h0M559 1019h0M259 1020h0M438 1020h0M163 1019h0M342 1019h0M442 1020h0M452 1018h0M429 1019h0M190 1019h0M472 1019h0M533 1020h0M210 1018h0M312 1019h0M652 1019h0M593 1017h0M302 1019h0M656 1020h0M653 1021h0M311 1020h0M251 1019h0M275 1018h0M340 1020h0M543 1018h0M355 1021h0M490 1020h0M712 1018h0M191 1020h0M610 1018h0M608 1020h0M347 1020h0M596 1019h0M459 1018h0M204 1018h0M599 1021h0M608 1020h0M222 1024h0M461 1023h0M559 1021h0M677 1023h0M498 1022h0M476 1024h0M256 1021h0M547 1023h0M433 1023h0M455 1021h0M332 1022h0M365 1021h0M660 1022h0M270 1021h0M425 1021h0M407 1021h0M425 1021h0M297 1024h0M189 1022h0M614 1023h0M242 1022h0M473 1023h0M667 1022h0M239 1021h0M477 1024h0M303 1023h0M576 1021h0M269 1022h0M288 1021h0M521 1021h0M502 1024h0M181 1021h0M219 1022h0M593 1023h0M336 1022h0M461 1022h0M206 1024h0M604 1023h0M210 1023h0M240 1024h0M263 1021h0M446 1022h0M407 1023h0M471 1022h0M645 1021h0M201 1026h0M274 1026h0M549 1024h0M212 1026h0M497 1025h0M350 1027h0M518 1025h0M500 1025h0M182 1024h0M603 1027h0M293 1026h0M584 1024h0M691 1027h0M189 1025h0M563 1025h0M235 1024h0M653 1027h0M409 1026h0M531 1027h0M326 1025h0M497 1027h0M667 1026h0M455 1025h0M702 1026h0M693 1025h0M419 1025h0M395 1027h0M431 1026h0M442 1027h0M620 1025h0M634 1029h0M538 1028h0M240 1027h0M360 1029h0M643 1028h0M549 1029h0M658 1030h0M169 1029h0M323 1030h0M200 1028h0M184 1029h0M189 1027h0M482 1027h0M168 1030h0M623 1028h0M630 1029h0M643 1027h0M184 1029h0M327 1029h0M571 1029h0M325 1030h0M374 1028h0M448 1027h0M500 1031h0M548 1031h0M682 1031h0M210 1033h0M318 1033h0M527 1031h0M439 1032h0M645 1030h0M325 1030h0M446 1031h0M317 1032h0M696 1031h0M452 1031h0M476 1031h0M263 1031h0M666 1031h0M686 1030h0M267 1033h0M483 1034h0M237 1034h0M642 1035h0M171 1034h0M708 1035h0M449 1034h0M337 1033h0M290 1036h0M364 1036h0M689 1035h0M323 1034h0M229 1034h0M355 1033h0M438 1037h0M507 1038h0M338 1037h0M406 1037h0M365 1038h0M635 1039h0M638 1038h0M686 1036h0M532 1039h0M627 1040h0M497 1040h0M519 1042h0M357 1040h0M665 1043h0"/></defs>
<use href="#d11" stroke="#1206f2" stroke-width="7" opacity="0.32"/>
<use href="#d11" stroke="#1206f2" stroke-width="4.4"/>
<defs><path id="d12" d="M691 935h0M627 1008h0M390 1009h0"/></defs>
<use href="#d12" stroke="#f40a0a" stroke-width="5.4" opacity="0.3"/>
<use href="#d12" stroke="#f40a0a" stroke-width="3.4"/>
</g>
<g fill="#7a7a7a" font-weight="bold" font-size="16.3">
<text x="61.5" y="381.7" text-anchor="end">0.4</text>
<text x="61.5" y="437.6" text-anchor="end">0.2</text>
<text x="61.5" y="490.6" text-anchor="end">0</text>
<text x="62.6" y="545.9" text-anchor="end">-0.2</text>
<text x="61.9" y="602.0" text-anchor="end">-0.4</text>
<text x="86.7" y="624.1" text-anchor="middle">0</text>
<text x="141.5" y="624.1" text-anchor="middle">1</text>
<text x="199.3" y="624.1" text-anchor="middle">2</text>
<text x="258.4" y="624.1" text-anchor="middle">3</text>
<text x="313.7" y="624.1" text-anchor="middle">4</text>
<text x="371.5" y="624.1" text-anchor="middle">5</text>
</g>
<text x="241.8" y="638.5" text-anchor="middle" fill="#7a7a7a" font-weight="bold" font-size="15.7">Point ID</text>
<text x="348.4" y="643.7" fill="#9c9c9c" font-size="12">x</text>
<text transform="translate(360.3 643.7) scale(0.92 1)" fill="#7a7a7a" font-weight="bold" font-size="14">10<tspan dy="-3.4" dx="0.8" font-size="9">4</tspan></text>
<text transform="translate(23.0 477.3) rotate(-90)" text-anchor="middle" fill="#7a7a7a" font-weight="bold" font-size="19.5" textLength="64.5" lengthAdjust="spacing">ν<tspan font-size="12" dy="1">z</tspan><tspan dy="-2.2" font-size="17.5"> (</tspan><tspan dy="1.2"> m </tspan><tspan dy="-1.2" font-size="17.5">)</tspan></text>
<text x="228.5" y="361.9" text-anchor="middle" fill="#0a0a0a" font-weight="bold" font-size="13">Pagoda C</text>
<text x="232.8" y="674.6" text-anchor="middle" fill="#111" font-size="22.3" letter-spacing="1.9">(c)</text>
<rect x="302.2" y="380.3" width="63.8" height="33.6" rx="1.5" fill="#fff" stroke="#8c8c8c" stroke-width="1.3"/>
<rect x="317.2" y="387.7" width="9" height="7.6" fill="#fe0000"/>
<rect x="317.2" y="401.8" width="9" height="7.6" fill="#0000fe"/>
<g fill="#4a4a4a" font-weight="bold" font-size="10.5">
<text x="339.5" y="396.0" textLength="22" lengthAdjust="spacingAndGlyphs">CCF</text>
<text x="339.5" y="411.2" textLength="22" lengthAdjust="spacingAndGlyphs">HPF</text>
</g>
</g>
<g id="pD">
<line x1="475.7" y1="365.5" x2="778.7" y2="365.5" stroke="#e4e4e4" stroke-width="1"/>
<line x1="475.7" y1="423.1" x2="778.7" y2="423.1" stroke="#e4e4e4" stroke-width="1"/>
<line x1="475.7" y1="480.9" x2="778.7" y2="480.9" stroke="#e4e4e4" stroke-width="1"/>
<line x1="475.7" y1="538.3" x2="778.7" y2="538.3" stroke="#e4e4e4" stroke-width="1"/>
<g stroke="#7a7a7a" fill="none">
<line x1="475.7" y1="365.2" x2="475.7" y2="602.2" stroke-width="1.5"/>
<line x1="469.2" y1="596.2" x2="779.5" y2="596.2" stroke-width="1.6"/>
<path d="M469.7 365.5h6.0M469.7 423.1h6.0M469.7 480.9h6.0M469.7 538.3h6.0M469.7 596.2h6.0M473.2 379.9h2.5M473.2 394.3h2.5M473.2 408.7h2.5M473.2 437.6h2.5M473.2 452.0h2.5M473.2 466.4h2.5M473.2 495.2h2.5M473.2 509.6h2.5M473.2 523.9h2.5M473.2 552.8h2.5M473.2 567.2h2.5M473.2 581.7h2.5M475.7 596.2v6.0M485.8 596.2v3.0M495.9 596.2v3.0M506.0 596.2v3.0M516.1 596.2v3.0M526.2 596.2v6.0M536.3 596.2v3.0M546.4 596.2v3.0M556.5 596.2v3.0M566.6 596.2v3.0M576.7 596.2v6.0M586.8 596.2v3.0M596.9 596.2v3.0M607.0 596.2v3.0M617.1 596.2v3.0M627.2 596.2v6.0M637.3 596.2v3.0M647.4 596.2v3.0M657.5 596.2v3.0M667.6 596.2v3.0M677.7 596.2v6.0M687.8 596.2v3.0M697.9 596.2v3.0M708.0 596.2v3.0M718.1 596.2v3.0M728.2 596.2v6.0M738.3 596.2v3.0M748.4 596.2v3.0M758.5 596.2v3.0M768.6 596.2v3.0M778.7 596.2v6.0" stroke-width="1.5"/>
</g>
<g transform="scale(0.5)" fill="none" stroke-linecap="square">
<path d="M950 865V864H955V863H960V864H965V864H970V863H975V862H980V862H985V864H990V862H995V862H1000V864H1005V864H1010V862H1015V865H1020V864H1025V862H1030V862H1035V864H1040V864H1045V862H1050V864H1055V863H1060V864H1065V864H1070V862H1075V863H1080V864H1085V862H1090V862H1095V862H1100V863H1105V864H1110V864H1115V864H1120V864H1125V864H1130V863H1135V863H1140V865H1145V862H1150V862H1155V863H1160V862H1165V865H1170V865H1175V865H1180V864H1185V863H1190V863H1195V864H1200V862H1205V863H1210V863H1215V864H1220V864H1225V862H1230V863H1235V865H1240V864H1245V863H1250V863H1255V863H1260V864H1265V863H1270V863H1275V863H1280V862H1285V862H1290V864H1295V863H1300V864H1305V864H1310V865H1315V862H1320V864H1325V862H1330V863H1335V862H1340V863H1345V864H1350V863H1355V862H1360V864H1365V863H1370V864H1375V865H1380V863H1385V865H1390V864H1395V862H1400V862H1405V863H1410V864H1415V864H1420V863H1425V865H1430V863H1435V862H1440V865H1445V864H1450V863H1455V864H1460V863H1465V865H1470V863H1473V1060V1063H1468V1061H1463V1060H1458V1061H1453V1061H1448V1062H1443V1061H1438V1060H1433V1061H1428V1060H1423V1060H1418V1063H1413V1062H1408V1061H1403V1061H1398V1062H1393V1062H1388V1062H1383V1061H1378V1062H1373V1063H1368V1063H1363V1063H1358V1063H1353V1062H1348V1060H1343V1064H1338V1063H1333V1062H1328V1061H1323V1060H1318V1060H1313V1064H1308V1062H1303V1062H1298V1064H1293V1062H1288V1061H1283V1062H1278V1062H1273V1062H1268V1063H1263V1060H1258V1063H1253V1063H1248V1064H1243V1061H1238V1060H1233V1064H1228V1061H1223V1063H1218V1064H1213V1063H1208V1061H1203V1062H1198V1062H1193V1061H1188V1062H1183V1064H1178V1062H1173V1062H1168V1062H1163V1061H1158V1063H1153V1060H1148V1062H1143V1062H1138V1064H1133V1061H1128V1064H1123V1063H1118V1060H1113V1061H1108V1061H1103V1064H1098V1063H1093V1064H1088V1060H1083V1062H1078V1063H1073V1061H1068V1061H1063V1062H1058V1063H1053V1061H1048V1061H1043V1060H1038V1062H1033V1063H1028V1060H1023V1061H1018V1062H1013V1063H1008V1060H1003V1064H998V1062H993V1062H988V1063H983V1062H978V1062H973V1062H968V1063H963V1062H958V1060H953V1062H950Z" fill="#fe0000" stroke="none"/>
<defs><path id="d13" d="M1415 841h0M1181 842h0M1168 841h0M1056 842h0M1082 843h0M1064 843h0M1307 841h0M1255 843h0M1422 843h0M1306 845h0M1389 843h0M1024 845h0M1083 844h0M1116 845h0M1228 843h0M1287 843h0M952 844h0M1153 844h0M1075 843h0M1380 843h0M1224 845h0M1134 845h0M1093 845h0M989 846h0M1442 846h0M1303 844h0M1273 845h0M1414 844h0M1124 844h0M1103 845h0M995 845h0M976 845h0M1067 844h0M1398 845h0M1300 847h0M1466 847h0M1272 847h0M1212 848h0M1169 848h0M1276 847h0M1060 848h0M1238 846h0M1176 849h0M1168 847h0M1275 846h0M1136 849h0M970 846h0M1133 847h0M972 848h0M1269 846h0M1327 848h0M1280 847h0M1280 849h0M1418 847h0M962 847h0M1347 847h0M1272 848h0M1177 847h0M1341 847h0M1223 847h0M1235 848h0M1383 848h0M1239 849h0M1351 848h0M1002 849h0M1186 847h0M1340 847h0M1274 846h0M1303 848h0M1329 848h0M1358 847h0M1198 848h0M1096 849h0M1436 848h0M961 847h0M1331 848h0M1325 848h0M1365 849h0M1446 847h0M1382 850h0M1443 849h0M1187 849h0M1411 851h0M979 850h0M1317 850h0M1048 850h0M1156 851h0M1078 850h0M1428 849h0M1055 850h0M1209 851h0M1204 852h0M1203 849h0M1013 851h0M999 851h0M1319 850h0M1452 852h0M1137 849h0M1194 850h0M1376 849h0M1207 850h0M1378 850h0M1013 849h0M1174 850h0M1163 851h0M1132 851h0M1007 849h0M1169 851h0M1120 852h0M990 849h0M1077 850h0M1012 850h0M1461 850h0M1412 852h0M1183 851h0M1341 851h0M1253 851h0M991 851h0M1266 852h0M1352 850h0M1271 850h0M1074 849h0M1261 850h0M1067 851h0M1417 849h0M1463 850h0M1174 851h0M1425 852h0M1390 851h0M1279 849h0M1231 849h0M1423 850h0M1284 849h0M1377 850h0M983 850h0M1304 851h0M1102 850h0M956 850h0M1005 852h0M1292 854h0M992 854h0M1369 854h0M1003 852h0M1292 855h0M1328 852h0M1298 852h0M1056 853h0M1313 853h0M1086 854h0M1131 853h0M996 853h0M1345 852h0M1222 853h0M1291 853h0M1201 854h0M1437 852h0M1214 854h0M962 852h0M1065 853h0M953 853h0M1182 854h0M1453 855h0M1001 852h0M1246 854h0M1016 854h0M1435 853h0M1183 853h0M1276 855h0M1257 853h0M1312 854h0M1267 853h0M1001 854h0M1113 852h0M1142 853h0M1321 852h0M1385 854h0M1005 854h0M1162 854h0M1105 852h0M1125 854h0M1464 854h0M1213 854h0M1344 853h0M975 855h0M1027 853h0M1111 854h0M1172 853h0M1033 854h0M1335 854h0M1418 852h0M1377 854h0M1200 853h0M1464 854h0M1445 852h0M1339 853h0M969 854h0M1415 854h0M1234 854h0M1000 854h0M1099 854h0M994 853h0M1089 854h0M1113 853h0M1208 852h0M1230 852h0M1177 854h0M1224 852h0M1223 855h0M1145 853h0M1383 855h0M1369 853h0M1064 852h0M1280 852h0M1294 852h0M1288 857h0M1113 857h0M1418 857h0M1186 855h0M994 856h0M966 857h0M1279 855h0M1455 856h0M1420 856h0M1299 858h0M1312 856h0M1438 856h0M1157 856h0M1098 858h0M1196 855h0M1121 857h0M1420 855h0M1338 858h0M952 857h0M1422 857h0M1438 857h0M1080 858h0M1206 855h0M1156 855h0M1412 855h0M1410 855h0M990 857h0M1246 857h0M1109 856h0M1169 858h0M1236 858h0M1242 856h0M1022 857h0M1299 855h0M1139 857h0M1096 858h0M1243 857h0M1051 858h0M1132 855h0M1183 856h0M1187 858h0M1155 856h0M1330 856h0M1257 857h0M1086 856h0M1009 857h0M988 858h0M985 858h0M1358 857h0M1462 856h0M1317 857h0M951 857h0M1299 856h0M1097 855h0M967 856h0M979 855h0M1111 857h0M1322 855h0M1432 858h0M1189 855h0M1244 855h0M1017 857h0M1134 858h0M1269 857h0M1393 856h0M1162 857h0M1005 856h0M1003 857h0M1275 856h0M1409 855h0M1057 856h0M1358 857h0M1470 857h0M1360 857h0M1339 857h0M1449 857h0M1218 857h0M1205 856h0M1299 857h0M1292 855h0M1154 856h0M1464 856h0M1100 855h0M968 856h0M1169 857h0M972 858h0M1387 856h0M1185 857h0M1005 856h0M1071 857h0M1368 859h0M964 858h0M1141 858h0M1102 860h0M1201 859h0M1167 861h0M1466 860h0M997 860h0M1409 859h0M1035 860h0M1375 861h0M1380 859h0M1038 861h0M1402 860h0M982 858h0M1251 861h0M1333 860h0M1261 859h0M1391 859h0M1413 859h0M1197 861h0M1296 859h0M957 859h0M1069 859h0M974 859h0M1146 860h0M1118 860h0M1257 860h0M1362 861h0M1022 859h0M971 860h0M979 859h0M1422 859h0M1161 859h0M1362 860h0M1203 861h0M1035 858h0M1418 860h0M1337 860h0M1223 858h0M1052 860h0M1023 860h0M1162 861h0M1351 859h0M1015 860h0M1282 858h0M1202 858h0M1119 860h0M1431 858h0M1132 860h0M1442 861h0M1365 858h0M1345 860h0M972 859h0M1216 859h0M1033 859h0M953 859h0M1220 859h0M1222 861h0M1194 859h0M1305 861h0M1014 860h0M1424 861h0M1050 861h0M1125 859h0M1100 860h0M1281 858h0M1109 860h0M1384 860h0M1298 859h0M1395 860h0M1265 859h0M1249 859h0M1159 861h0M1182 859h0M1166 859h0M1320 859h0M1320 859h0M1167 860h0M1460 860h0M1060 859h0M1026 860h0M1425 858h0M1091 858h0M1226 861h0M1030 860h0M1159 860h0M1265 861h0M1442 861h0M1255 861h0M1361 860h0M1261 859h0M1032 859h0M1083 858h0M1437 859h0M1454 860h0M1086 859h0M999 860h0M1113 858h0M1066 859h0M1429 859h0M1382 859h0M1131 859h0M1218 859h0M1269 860h0M1413 859h0M1254 858h0M1221 861h0M1050 858h0M955 859h0M1147 860h0M1464 863h0M1408 862h0M1079 863h0M953 863h0M1117 863h0M1219 864h0M1057 864h0M1462 862h0M1252 861h0M1243 862h0M1356 863h0M1318 864h0M961 862h0M1270 864h0M1117 863h0M1375 862h0M1315 863h0M1297 864h0M981 863h0M978 863h0M1138 863h0M1390 862h0M1213 863h0M1230 863h0M1270 864h0M993 862h0M1375 861h0M1356 862h0M1044 863h0M1308 863h0M1341 863h0M1468 864h0M985 861h0M1289 862h0M1125 864h0M1078 862h0M1456 863h0M1263 862h0M1370 862h0M1450 862h0M1154 862h0M1426 863h0M1267 861h0M1033 862h0M1328 862h0M1135 862h0M959 863h0M1109 864h0M1425 863h0M1262 863h0M983 864h0M1264 863h0M1316 863h0M1381 863h0M1119 862h0M1105 862h0M1119 863h0M1269 862h0M1195 863h0M1471 862h0M985 863h0M1358 863h0M1128 861h0M1141 863h0M1064 863h0M1134 864h0M958 863h0M1101 863h0M1230 862h0M1465 862h0M1289 863h0M1115 863h0M1444 864h0M1175 863h0M1304 861h0M1093 863h0M1407 862h0M1373 863h0M1383 864h0M1122 862h0M974 863h0M1220 864h0M1000 862h0M1388 862h0M1231 864h0M1357 862h0M1180 862h0M1177 861h0M1422 863h0M1401 863h0M986 862h0M1032 862h0M1351 863h0M961 863h0M969 861h0M1424 861h0M1270 863h0M978 863h0M1133 864h0M1361 862h0M1268 862h0M998 863h0M1272 861h0M1201 862h0M1156 863h0M1093 862h0M966 863h0M1365 864h0M1192 862h0M1141 863h0M1252 861h0M1187 864h0M1115 863h0M1460 861h0M1446 862h0M1217 862h0M1102 862h0M1292 863h0M998 863h0M1189 861h0M1147 864h0M1320 864h0M1107 861h0M979 862h0M1416 861h0M1308 861h0M953 864h0M1347 864h0M1090 861h0M1377 863h0M1086 863h0M1274 861h0M1457 861h0M1283 862h0M1204 863h0M1018 862h0M1172 862h0M1293 864h0M1380 863h0M1230 863h0M1100 863h0M1435 865h0M1337 864h0M1262 864h0M1296 864h0M1215 864h0M1409 864h0M1402 865h0M1450 864h0M1108 864h0M1365 865h0M1069 865h0M1081 865h0M983 865h0M1169 865h0M1220 864h0M1352 865h0M965 864h0M1024 864h0M1237 865h0M1429 864h0M1233 865h0M1450 865h0M1228 864h0M1006 864h0M1055 864h0M1265 864h0M1223 865h0M1411 865h0M1384 864h0M1210 864h0M1456 864h0M958 865h0M1339 865h0M1066 864h0M1255 864h0M1232 865h0M1142 865h0M1408 865h0M970 864h0M1340 864h0M1331 864h0M1211 865h0M1153 864h0M1239 864h0M1219 865h0M1455 865h0M1313 864h0M1289 864h0M1162 864h0M1025 1060h0M1435 1061h0M1096 1062h0M1088 1062h0M1067 1063h0M1418 1063h0M1446 1061h0M1130 1061h0M989 1062h0M1031 1063h0M1036 1061h0M1054 1062h0M1217 1061h0M1247 1062h0M1411 1060h0M1236 1061h0M1039 1063h0M1359 1061h0M1371 1061h0M1042 1061h0M1443 1063h0M1331 1061h0M1414 1062h0M1029 1063h0M1163 1063h0M955 1063h0M1082 1063h0M1243 1060h0M1158 1062h0M1430 1062h0M996 1061h0M1468 1062h0M1184 1061h0M1434 1060h0M1159 1062h0M1263 1063h0M1336 1062h0M1369 1063h0M1110 1060h0M1428 1062h0M1060 1062h0M1172 1061h0M1015 1062h0M1088 1060h0M1154 1061h0M1404 1061h0M973 1063h0M1205 1061h0M1382 1062h0M1152 1062h0M1272 1060h0M1454 1062h0M1264 1063h0M1289 1060h0M1309 1061h0M1222 1063h0M1000 1060h0M1063 1063h0M1251 1062h0M1349 1063h0M1464 1061h0M1470 1063h0M1176 1060h0M1317 1061h0M977 1062h0M1423 1060h0M1231 1063h0M1233 1063h0M1426 1060h0M1076 1062h0M1038 1062h0M1277 1060h0M1143 1063h0M1468 1062h0M993 1060h0M981 1062h0M1336 1061h0M1274 1063h0M1096 1062h0M1237 1061h0M1050 1063h0M1216 1063h0M1124 1061h0M1324 1063h0M1262 1063h0M1312 1062h0M1131 1063h0M1227 1062h0M952 1062h0M1210 1063h0M1082 1062h0M1301 1063h0M1314 1062h0M1055 1061h0M1257 1060h0M1281 1063h0M1063 1062h0M1054 1063h0M1305 1063h0M1094 1060h0M1307 1063h0M1394 1063h0M1036 1061h0M1469 1062h0M1451 1061h0M1039 1062h0M1341 1063h0M1354 1063h0M1438 1062h0M1123 1062h0M993 1061h0M1137 1061h0M1375 1060h0M1166 1061h0M1125 1062h0M1253 1063h0M1351 1063h0M1419 1063h0M1260 1061h0M1071 1062h0M1283 1061h0M1471 1062h0M957 1061h0M1284 1061h0M1267 1062h0M1451 1060h0M962 1061h0M1379 1061h0M1166 1063h0M1459 1063h0M1407 1062h0M1178 1061h0M1000 1061h0M958 1062h0M1164 1060h0M1243 1061h0M1262 1063h0M1422 1061h0M1250 1063h0M1465 1061h0M1093 1061h0M1451 1062h0M1071 1063h0M1412 1061h0M1253 1061h0M1385 1063h0M1424 1061h0M975 1061h0M1236 1063h0M1218 1063h0M1140 1062h0M1199 1063h0M1250 1062h0M1144 1063h0M1184 1060h0M1419 1063h0M1333 1061h0M1293 1060h0M1031 1061h0M1076 1062h0M1321 1062h0M1174 1063h0M1135 1061h0M1398 1062h0M993 1062h0M984 1063h0M1173 1062h0M1349 1062h0M1449 1061h0M1061 1063h0M1447 1062h0M1029 1062h0M1069 1062h0M1419 1061h0M1458 1062h0M1267 1061h0M1168 1063h0M1293 1063h0M1354 1063h0M1112 1061h0M1019 1060h0M1317 1061h0M1052 1061h0M1086 1061h0M1241 1063h0M1225 1063h0M1353 1062h0M1225 1060h0M1234 1061h0M1150 1064h0M1205 1065h0M1020 1066h0M1186 1064h0M1278 1064h0M1179 1065h0M1028 1064h0M1031 1066h0M1281 1066h0M1264 1065h0M1185 1064h0M1213 1064h0M1446 1065h0M1068 1066h0M1424 1064h0M1411 1066h0M1231 1064h0M959 1066h0M1232 1066h0M1295 1066h0M1311 1066h0M1445 1065h0M1469 1065h0M1082 1066h0M1347 1064h0M1200 1064h0M1349 1066h0M1310 1064h0M1020 1065h0M1186 1064h0M1427 1065h0M1168 1066h0M1055 1066h0M1018 1065h0M1288 1065h0M1454 1067h0M1280 1064h0M1072 1066h0M1142 1065h0M1220 1064h0M1013 1064h0M1148 1064h0M972 1066h0M1416 1064h0M1334 1066h0M1350 1066h0M1148 1064h0M1381 1066h0M1185 1065h0M1267 1064h0M1020 1065h0M1261 1066h0M990 1066h0M981 1064h0M960 1064h0M1292 1066h0M1409 1066h0M1416 1064h0M1229 1064h0M1298 1064h0M1428 1066h0M1358 1066h0M1097 1066h0M1252 1066h0M1318 1065h0M974 1066h0M1282 1064h0M1211 1065h0M1443 1064h0M965 1067h0M1399 1064h0M1295 1064h0M1393 1065h0M1070 1065h0M1388 1065h0M998 1065h0M1143 1066h0M1424 1066h0M1273 1066h0M1130 1065h0M1457 1064h0M1355 1065h0M979 1066h0M1329 1064h0M1468 1066h0M1357 1065h0M1032 1064h0M1367 1066h0M1115 1066h0M1016 1064h0M1357 1066h0M1040 1067h0M1297 1066h0M1464 1066h0M1261 1064h0M1153 1066h0M1465 1067h0M1274 1064h0M1207 1066h0M1035 1065h0M977 1064h0M1222 1066h0M1390 1065h0M1059 1065h0M1088 1067h0M957 1065h0M1094 1065h0M1262 1065h0M957 1067h0M1115 1065h0M1186 1064h0M1094 1064h0M1433 1066h0M1158 1066h0M975 1066h0M1355 1066h0M1312 1064h0M1302 1065h0M1165 1066h0M1299 1065h0M1050 1066h0M1224 1064h0M1178 1066h0M1098 1065h0M1328 1066h0M1226 1066h0M1125 1067h0M1466 1066h0M1308 1064h0M1134 1064h0M1435 1065h0M1297 1065h0M1472 1065h0M1072 1067h0M1089 1065h0M1240 1067h0M1350 1067h0M1360 1065h0M1023 1064h0M1139 1065h0M1045 1065h0M1418 1065h0M1347 1065h0M1150 1065h0M1031 1066h0M1312 1064h0M1436 1066h0M1325 1065h0M1246 1065h0M1469 1065h0M1086 1066h0M1262 1065h0M1269 1065h0M1155 1065h0M1396 1066h0M1438 1066h0M957 1066h0M962 1066h0M1160 1065h0M1148 1066h0M1381 1066h0M1106 1067h0M1147 1065h0M1256 1064h0M1232 1064h0M1055 1063h0M1263 1064h0M1323 1065h0M1328 1064h0M1390 1066h0M1303 1064h0M1414 1065h0M1114 1068h0M1197 1069h0M1068 1068h0M1012 1067h0M1188 1068h0M1104 1069h0M960 1067h0M989 1067h0M1126 1068h0M1340 1068h0M1010 1068h0M1443 1068h0M1036 1069h0M997 1068h0M1339 1069h0M1216 1068h0M990 1068h0M1179 1067h0M1329 1067h0M1085 1068h0M1240 1068h0M1339 1068h0M1173 1068h0M954 1070h0M1107 1069h0M1348 1069h0M1319 1070h0M1099 1069h0M1036 1070h0M1446 1068h0M1257 1067h0M1271 1069h0M984 1067h0M1419 1067h0M1180 1069h0M1079 1068h0M1355 1068h0M1010 1068h0M1108 1068h0M1406 1067h0M1367 1068h0M1446 1069h0M1041 1070h0M1073 1067h0M1397 1070h0M975 1070h0M1199 1068h0M956 1070h0M1007 1069h0M1165 1067h0M1438 1069h0M1359 1067h0M1238 1067h0M1235 1070h0M1254 1069h0M1121 1068h0M1153 1069h0M1302 1068h0M1202 1069h0M1089 1068h0M1318 1070h0M1049 1069h0M1061 1067h0M995 1067h0M1470 1070h0M1039 1068h0M1368 1069h0M1419 1067h0M1147 1069h0M1162 1068h0M1149 1068h0M1426 1069h0M1137 1068h0M1137 1069h0M1377 1068h0M1113 1069h0M969 1068h0M1065 1068h0M1163 1067h0M1054 1069h0M1244 1067h0M1425 1067h0M1113 1067h0M1250 1067h0M996 1067h0M1222 1067h0M1256 1069h0M1294 1069h0M1031 1070h0M1230 1067h0M1311 1067h0M1124 1068h0M1375 1069h0M1365 1068h0M1401 1068h0M1377 1068h0M1115 1067h0M1381 1069h0M1292 1068h0M1198 1069h0M1285 1067h0M1115 1070h0M1315 1070h0M1148 1067h0M1219 1068h0M1219 1070h0M1348 1068h0M1274 1069h0M1118 1068h0M1357 1067h0M1126 1068h0M1287 1068h0M954 1068h0M1459 1069h0M1129 1067h0M979 1067h0M1261 1068h0M1258 1068h0M1422 1069h0M1017 1067h0M1162 1069h0M1038 1067h0M1065 1068h0M1388 1067h0M1289 1068h0M1279 1068h0M1063 1068h0M1097 1068h0M998 1069h0M1295 1070h0M989 1068h0M1251 1069h0M954 1067h0M1213 1069h0M1224 1069h0M988 1067h0M1141 1068h0M1461 1069h0M1349 1069h0M1380 1069h0M1100 1068h0M1357 1070h0M1315 1070h0M1325 1069h0M992 1070h0M1235 1068h0M1076 1068h0M989 1069h0M1310 1070h0M1265 1069h0M1385 1069h0M998 1069h0M1074 1068h0M1130 1069h0M1356 1067h0M1312 1070h0M1126 1067h0M1037 1071h0M1470 1071h0M1378 1072h0M951 1072h0M1112 1071h0M1021 1072h0M1088 1071h0M1342 1071h0M1060 1070h0M1102 1072h0M1131 1073h0M1193 1070h0M952 1071h0M1373 1073h0M1125 1073h0M1227 1072h0M1318 1073h0M1326 1071h0M1033 1071h0M1141 1073h0M1170 1071h0M1061 1071h0M1262 1070h0M1086 1073h0M1001 1073h0M1152 1072h0M1236 1070h0M1444 1071h0M1010 1071h0M1428 1071h0M1361 1071h0M1113 1070h0M1066 1073h0M1174 1073h0M990 1072h0M1242 1071h0M1367 1072h0M1146 1071h0M1094 1072h0M1402 1072h0M1232 1070h0M979 1071h0M1243 1071h0M1370 1071h0M1451 1070h0M1300 1072h0M1395 1070h0M1362 1072h0M1231 1073h0M1297 1072h0M1119 1073h0M1082 1072h0M952 1071h0M1062 1073h0M1026 1073h0M1050 1072h0M1260 1072h0M1409 1070h0M1116 1072h0M1384 1072h0M1448 1072h0M1368 1071h0M1466 1070h0M1419 1071h0M1248 1073h0M1341 1073h0M1365 1072h0M1458 1072h0M1364 1070h0M1437 1073h0M1165 1070h0M1189 1071h0M1058 1072h0M1271 1072h0M1456 1071h0M1415 1072h0M1087 1073h0M1259 1070h0M982 1072h0M1462 1070h0M980 1072h0M1275 1073h0M978 1072h0M1168 1071h0M1428 1073h0M1292 1073h0M1369 1072h0M1450 1070h0M1415 1071h0M1101 1072h0M1418 1072h0M1334 1072h0M1130 1073h0M1260 1070h0M1040 1070h0M1177 1071h0M1249 1070h0M1349 1073h0M1372 1071h0M1312 1071h0M1151 1070h0M1364 1071h0M1054 1071h0M1061 1072h0M1394 1073h0M1220 1071h0M1371 1073h0M1003 1072h0M1266 1072h0M1007 1073h0M1223 1072h0M1065 1071h0M1259 1071h0M1297 1073h0M1459 1072h0M1208 1073h0M1142 1073h0M1150 1071h0M1425 1072h0M1031 1071h0M1106 1070h0M969 1073h0M1264 1070h0M1204 1073h0M1039 1071h0M1209 1071h0M1469 1071h0M1267 1070h0M1067 1073h0M1075 1070h0M1343 1073h0M1118 1071h0M1212 1072h0M1150 1072h0M1379 1070h0M1163 1072h0M1381 1070h0M1456 1071h0M999 1071h0M985 1071h0M966 1071h0M1159 1072h0M1420 1072h0M1377 1071h0M1039 1073h0M1179 1076h0M980 1076h0M1091 1075h0M997 1076h0M1394 1074h0M1268 1074h0M1187 1075h0M1450 1075h0M1011 1075h0M1245 1073h0M1433 1076h0M1257 1074h0M1156 1075h0M1437 1074h0M1370 1076h0M1077 1077h0M1405 1076h0M1420 1075h0M1022 1075h0M1134 1076h0M1237 1076h0M1012 1075h0M1395 1074h0M988 1074h0M1103 1075h0M1443 1076h0M1313 1075h0M1198 1075h0M1391 1076h0M1126 1074h0M1127 1075h0M1467 1074h0M977 1075h0M994 1075h0M1093 1076h0M1165 1074h0M1313 1074h0M1148 1076h0M1008 1076h0M1183 1076h0M1063 1074h0M1045 1074h0M1047 1075h0M1370 1074h0M1199 1076h0M1234 1076h0M1346 1073h0M1113 1076h0M1150 1076h0M1243 1073h0M1066 1074h0M1186 1076h0M1215 1073h0M1379 1073h0M1417 1075h0M1159 1075h0M1096 1075h0M1218 1077h0M1077 1076h0M1412 1075h0M1418 1075h0M1405 1074h0M1165 1076h0M1433 1074h0M1274 1075h0M1090 1075h0M1220 1074h0M1317 1075h0M1298 1074h0M964 1075h0M1468 1075h0M1071 1076h0M968 1074h0M1003 1074h0M1432 1075h0M1303 1075h0M993 1075h0M1118 1074h0M984 1076h0M1337 1075h0M1063 1077h0M1453 1075h0M1163 1076h0M1248 1074h0M1457 1076h0M1088 1077h0M1394 1077h0M1449 1074h0M1368 1074h0M1044 1074h0M1108 1074h0M1391 1075h0M959 1076h0M1036 1076h0M1081 1077h0M1285 1075h0M1095 1076h0M991 1076h0M1243 1075h0M1161 1073h0M1207 1075h0M1145 1074h0M1254 1075h0M1063 1074h0M1041 1073h0M1324 1074h0M1305 1075h0M1005 1074h0M1328 1074h0M1244 1074h0M1446 1075h0M1369 1074h0M1441 1074h0M1308 1076h0M1280 1074h0M1404 1076h0M1305 1075h0M979 1074h0M1124 1074h0M1369 1074h0M1087 1074h0M1041 1076h0M971 1073h0M1352 1074h0M1103 1074h0M1267 1074h0M1174 1075h0M952 1075h0M1021 1073h0M1364 1073h0M1047 1077h0M975 1075h0M1319 1075h0M1456 1075h0M1087 1078h0M1469 1078h0M1265 1079h0M1408 1080h0M963 1078h0M1440 1078h0M1070 1077h0M1390 1079h0M1151 1077h0M1091 1077h0M1207 1077h0M1230 1079h0M1341 1078h0M1347 1077h0M1384 1077h0M1131 1079h0M1006 1079h0M1374 1079h0M1123 1077h0M1051 1077h0M1280 1077h0M1245 1079h0M1412 1079h0M1122 1079h0M1446 1079h0M994 1078h0M1198 1077h0M1102 1080h0M1197 1080h0M1396 1078h0M1230 1077h0M1291 1077h0M1231 1078h0M1314 1079h0M1432 1080h0M1389 1077h0M1182 1079h0M1170 1077h0M1258 1077h0M963 1077h0M1070 1077h0M1162 1079h0M1266 1078h0M1148 1078h0M1131 1080h0M1158 1079h0M1240 1078h0M1259 1079h0M1198 1079h0M1099 1079h0M1071 1078h0M1437 1079h0M1284 1078h0M1250 1078h0M1065 1079h0M1020 1077h0M1296 1078h0M1129 1079h0M1408 1079h0M1016 1079h0M1235 1080h0M1006 1078h0M994 1078h0M1191 1078h0M1132 1079h0M1436 1079h0M1191 1079h0M1271 1079h0M1083 1079h0M1312 1077h0M1258 1079h0M1248 1079h0M1434 1080h0M1439 1079h0M1034 1079h0M1325 1078h0M1186 1078h0M1147 1078h0M1056 1079h0M1256 1080h0M1218 1080h0M1449 1077h0M1227 1079h0M1427 1078h0M1348 1078h0M1136 1078h0M1262 1078h0M1036 1077h0M1039 1080h0M1395 1078h0M1187 1078h0M1244 1077h0M972 1079h0M1453 1079h0M1271 1077h0M1168 1078h0M1465 1079h0M1323 1078h0M1339 1077h0M1462 1080h0M1302 1078h0M1396 1077h0M1077 1079h0M1380 1078h0M1313 1080h0M1365 1078h0M1367 1080h0M1190 1077h0M1128 1078h0M1450 1077h0M1276 1077h0M1041 1078h0M1173 1079h0M1088 1079h0M977 1078h0M1117 1077h0M1225 1078h0M1101 1078h0M1355 1078h0M1307 1079h0M1377 1079h0M1307 1078h0M1126 1080h0M993 1077h0M1005 1078h0M1439 1082h0M1438 1081h0M1238 1081h0M1238 1083h0M1035 1082h0M992 1080h0M1131 1082h0M967 1083h0M957 1082h0M1105 1081h0M1374 1080h0M1192 1080h0M1339 1082h0M1060 1082h0M1030 1080h0M1039 1081h0M1437 1081h0M1180 1082h0M1395 1081h0M1126 1080h0M1441 1082h0M1212 1081h0M1257 1081h0M1137 1082h0M985 1080h0M1044 1083h0M1033 1081h0M1166 1081h0M1309 1082h0M1391 1081h0M1457 1082h0M1315 1081h0M1245 1080h0M1399 1081h0M1292 1082h0M1255 1081h0M1321 1081h0M1415 1081h0M1428 1080h0M972 1080h0M1213 1080h0M1232 1080h0M1005 1082h0M1426 1082h0M981 1082h0M1439 1081h0M1433 1083h0M1356 1082h0M1134 1080h0M1025 1080h0M1416 1082h0M1167 1083h0M1228 1082h0M977 1083h0M1094 1081h0M1151 1081h0M1297 1081h0M1256 1081h0M1070 1082h0M1017 1082h0M1088 1082h0M1087 1082h0M1172 1082h0M1235 1081h0M1333 1082h0M971 1080h0M1216 1082h0M1335 1082h0M1128 1082h0M1244 1080h0M1296 1080h0M1222 1081h0M1204 1083h0M1322 1082h0M1200 1082h0M1289 1081h0M1179 1080h0M1439 1081h0M1247 1083h0M1175 1081h0M978 1081h0M1141 1082h0M1311 1082h0M1089 1083h0M1336 1081h0M1404 1081h0M999 1082h0M1237 1082h0M1305 1081h0M1423 1080h0M965 1082h0M1019 1082h0M1042 1081h0M1131 1082h0M1021 1082h0M1276 1081h0M1467 1081h0M968 1083h0M1169 1082h0M1352 1082h0M1320 1083h0M1437 1083h0M1243 1081h0M1129 1082h0M1326 1082h0M1096 1084h0M1343 1085h0M1323 1086h0M1303 1085h0M1098 1085h0M1405 1085h0M1102 1086h0M1152 1085h0M1143 1084h0M1388 1085h0M1417 1086h0M990 1086h0M1443 1084h0M1368 1085h0M1285 1084h0M1413 1084h0M1196 1083h0M1051 1086h0M1104 1086h0M1055 1085h0M1182 1085h0M954 1085h0M1201 1084h0M1287 1083h0M1094 1083h0M1289 1083h0M1419 1086h0M1066 1086h0M957 1085h0M1345 1085h0M1272 1084h0M1378 1085h0M1131 1084h0M1115 1085h0M998 1085h0M1208 1084h0M1179 1084h0M1137 1084h0M1008 1084h0M1237 1084h0M972 1084h0M1191 1084h0M981 1084h0M1411 1084h0M976 1084h0M1179 1085h0M1180 1085h0M1297 1086h0M1464 1086h0M1064 1084h0M1328 1086h0M1394 1085h0M1078 1084h0M1260 1085h0M1264 1085h0M1057 1084h0M1195 1083h0M1046 1085h0M1189 1084h0M1438 1086h0M1240 1085h0M1364 1086h0M1269 1084h0M997 1085h0M975 1084h0M1052 1086h0M1279 1085h0M957 1084h0M1438 1083h0M1150 1084h0M1024 1083h0M1343 1084h0M1099 1085h0M1187 1085h0M1027 1083h0M1112 1083h0M1402 1084h0M1012 1085h0M1087 1085h0M1273 1085h0M1010 1085h0M1058 1086h0M1368 1083h0M1084 1086h0M1249 1084h0M1277 1083h0M1217 1084h0M1472 1083h0M1280 1084h0M1157 1085h0M1347 1084h0M1294 1085h0M998 1085h0M1256 1084h0M1057 1084h0M1110 1085h0M1053 1083h0M1082 1085h0M974 1083h0M1088 1089h0M1312 1088h0M1185 1087h0M1143 1089h0M1405 1088h0M1366 1088h0M1329 1086h0M1400 1089h0M1320 1088h0M1259 1086h0M1082 1087h0M1256 1087h0M954 1088h0M1209 1087h0M1267 1088h0M1313 1088h0M1454 1088h0M1403 1086h0M1330 1087h0M1405 1086h0M1143 1088h0M975 1088h0M1426 1086h0M1068 1087h0M1079 1088h0M965 1088h0M1363 1087h0M1292 1087h0M1310 1087h0M1011 1086h0M1089 1088h0M1454 1086h0M1367 1086h0M1400 1087h0M1083 1089h0M1363 1087h0M1146 1088h0M1152 1089h0M1444 1088h0M1383 1086h0M1176 1087h0M1152 1087h0M1382 1087h0M1000 1086h0M1287 1086h0M1428 1088h0M1070 1087h0M1406 1086h0M1230 1087h0M1230 1089h0M1083 1088h0M1036 1087h0M991 1086h0M1240 1088h0M1239 1086h0M1284 1088h0M1390 1086h0M1343 1086h0M1324 1087h0M987 1087h0M1083 1088h0M1141 1087h0M1181 1086h0M951 1087h0M1340 1087h0M1031 1086h0M1312 1088h0M963 1087h0M1468 1087h0M1436 1089h0M967 1087h0M1414 1086h0M1033 1087h0M1349 1087h0M1017 1088h0M1195 1087h0M983 1088h0M1170 1086h0M1368 1087h0M1281 1086h0M1102 1088h0M1254 1089h0M1125 1088h0M1312 1086h0M1093 1088h0M961 1088h0M1233 1087h0M1172 1089h0M1097 1087h0M1285 1087h0M1202 1089h0M1380 1089h0M1218 1087h0M1407 1089h0M1328 1091h0M1325 1089h0M1010 1091h0M1087 1090h0M1417 1090h0M1045 1090h0M1085 1090h0M1316 1089h0M1271 1091h0M1290 1091h0M964 1091h0M1112 1091h0M1307 1090h0M1256 1091h0M1448 1091h0M1283 1091h0M1007 1089h0M1277 1090h0M1114 1090h0M1082 1090h0M1012 1090h0M1141 1089h0M1431 1092h0M1263 1092h0M1315 1091h0M1103 1092h0M1361 1090h0M1052 1090h0M1214 1091h0M1186 1090h0M1264 1092h0M1426 1091h0M1361 1092h0M964 1091h0M1305 1089h0M961 1092h0M1428 1090h0M1470 1090h0M1322 1090h0M1018 1092h0M1242 1090h0M969 1090h0M1327 1092h0M1302 1092h0M1381 1091h0M1140 1090h0M1046 1091h0M1118 1091h0M1068 1089h0M1026 1091h0M1275 1092h0M1132 1092h0M994 1089h0M1313 1090h0M1070 1091h0M1199 1091h0M1167 1090h0M1248 1091h0M1126 1090h0M1342 1090h0M1206 1089h0M1085 1091h0M1417 1091h0M1127 1091h0M1367 1092h0M973 1089h0M1177 1089h0M1231 1090h0M964 1089h0M1221 1092h0M1082 1090h0M1270 1092h0M1270 1091h0M1132 1090h0M1398 1091h0M1020 1091h0M999 1091h0M1309 1092h0M1159 1090h0M1436 1089h0M1213 1090h0M1007 1090h0M1469 1089h0M1438 1090h0M1321 1090h0M965 1091h0M977 1092h0M1422 1093h0M1247 1093h0M1136 1092h0M957 1094h0M1090 1095h0M988 1095h0M1385 1095h0M1217 1092h0M1342 1094h0M1068 1094h0M967 1094h0M951 1092h0M1192 1095h0M1391 1094h0M977 1095h0M1052 1094h0M1219 1093h0M1165 1094h0M1064 1095h0M1432 1093h0M1224 1095h0M1224 1092h0M1257 1092h0M1361 1092h0M1233 1093h0M1292 1095h0M1337 1093h0M1219 1094h0M1081 1094h0M1215 1092h0M1315 1093h0M1291 1095h0M1255 1095h0M1254 1093h0M1201 1094h0M1364 1094h0M1257 1093h0M1041 1094h0M1022 1093h0M991 1094h0M1051 1092h0M964 1093h0M1431 1093h0M1215 1093h0M1059 1095h0M1325 1093h0M1250 1095h0M1283 1092h0M956 1092h0M1102 1095h0M1248 1093h0M1250 1094h0M1354 1094h0M1307 1093h0M1074 1092h0M1093 1093h0M1168 1093h0M1297 1094h0M1234 1093h0M1059 1094h0M1033 1093h0M1122 1094h0M1229 1093h0M987 1095h0M1450 1095h0M1367 1094h0M1384 1093h0M982 1094h0M1229 1094h0M1204 1093h0M1400 1094h0M1112 1093h0M1247 1093h0M1131 1094h0M1390 1094h0M1032 1094h0M1151 1092h0M1023 1093h0M955 1095h0M1164 1092h0M1337 1094h0M977 1093h0M1210 1096h0M1314 1095h0M974 1098h0M1141 1096h0M1197 1095h0M1397 1096h0M1364 1097h0M1178 1096h0M1396 1096h0M1463 1097h0M1114 1097h0M1390 1097h0M1143 1096h0M1082 1097h0M1017 1097h0M1065 1095h0M1245 1096h0M1261 1098h0M1435 1097h0M1209 1098h0M1102 1097h0M1072 1098h0M1288 1098h0M999 1096h0M981 1098h0M1361 1096h0M992 1097h0M1307 1095h0M1041 1097h0M1141 1096h0M1048 1096h0M1196 1096h0M1316 1097h0M1316 1097h0M1382 1095h0M1403 1097h0M1178 1096h0M1000 1098h0M1435 1097h0M1195 1095h0M1453 1097h0M976 1095h0M1414 1096h0M1147 1095h0M984 1096h0M1444 1097h0M1164 1096h0M1393 1096h0M1133 1097h0M1256 1097h0M1090 1096h0M1178 1096h0M1084 1097h0M1014 1097h0M1127 1095h0M1281 1098h0M1282 1096h0M1121 1096h0M1039 1097h0M1284 1096h0M1286 1097h0M955 1097h0M1304 1095h0M1087 1098h0M1147 1097h0M1229 1097h0M957 1098h0M1179 1097h0M1258 1096h0M1137 1095h0M1108 1095h0M1202 1096h0M1080 1097h0M1281 1095h0M961 1097h0M1071 1097h0M1247 1095h0M1458 1095h0M1293 1096h0M1301 1100h0M1198 1098h0M1016 1100h0M1072 1099h0M1217 1101h0M1061 1101h0M1294 1101h0M1287 1098h0M1437 1098h0M1249 1099h0M1072 1101h0M1244 1101h0M1307 1098h0M1238 1100h0M1197 1098h0M1417 1099h0M1396 1099h0M1173 1099h0M1128 1099h0M1417 1099h0M976 1101h0M1302 1100h0M1206 1098h0M988 1099h0M1375 1100h0M1225 1098h0M1456 1099h0M1360 1099h0M954 1099h0M1230 1100h0M1175 1098h0M1426 1101h0M1409 1100h0M1334 1099h0M1087 1099h0M990 1100h0M1097 1099h0M1221 1100h0M1314 1101h0M1322 1100h0M1417 1100h0M1454 1099h0M994 1099h0M1422 1100h0M1202 1100h0M989 1101h0M1076 1099h0M1094 1098h0M970 1100h0M1164 1098h0M1019 1100h0M974 1100h0M1153 1100h0M1312 1099h0M1330 1099h0M1208 1100h0M1150 1100h0M1363 1100h0M1009 1098h0M1164 1100h0M1266 1098h0M1368 1101h0M1138 1099h0M1059 1100h0M958 1098h0M1460 1099h0M1367 1101h0M1160 1100h0M986 1099h0M1386 1101h0M1369 1100h0M1294 1099h0M1418 1100h0M1004 1099h0M1019 1098h0M965 1100h0M999 1099h0M1444 1104h0M1019 1104h0M1189 1103h0M1205 1102h0M1164 1103h0M1330 1104h0M1102 1104h0M1458 1101h0M1194 1102h0M1185 1101h0M1435 1104h0M1060 1101h0M1197 1103h0M1109 1103h0M1338 1102h0M1187 1104h0M1036 1102h0M1200 1101h0M1468 1102h0M1265 1104h0M951 1103h0M1248 1104h0M1336 1101h0M969 1104h0M1148 1103h0M1067 1103h0M1227 1104h0M1094 1104h0M1061 1104h0M1076 1104h0M1332 1102h0M1367 1104h0M1341 1102h0M1059 1102h0M1232 1102h0M1059 1103h0M1035 1101h0M1404 1101h0M1064 1102h0M1362 1102h0M1277 1102h0M1106 1103h0M989 1102h0M971 1103h0M1090 1104h0M1319 1103h0M1189 1103h0M1241 1101h0M1421 1101h0M1190 1103h0M1255 1102h0M1147 1103h0M1210 1103h0M1317 1103h0M1260 1103h0M1401 1103h0M1145 1104h0M1138 1103h0M1029 1103h0M993 1103h0M1213 1103h0M1351 1102h0M1405 1103h0M1109 1103h0M1305 1104h0M1226 1102h0M1424 1104h0M1065 1102h0M1330 1104h0M1169 1101h0M1143 1101h0M1374 1102h0M1076 1103h0M1168 1103h0M1021 1101h0M1393 1105h0M1419 1105h0M1179 1106h0M1066 1106h0M1471 1107h0M1296 1107h0M1345 1106h0M980 1106h0M1297 1107h0M1002 1107h0M1031 1107h0M1395 1105h0M959 1104h0M1230 1105h0M1244 1107h0M1334 1107h0M1367 1105h0M993 1107h0M1453 1105h0M1255 1107h0M1111 1105h0M1220 1107h0M986 1106h0M1226 1105h0M1051 1106h0M1257 1104h0M1330 1106h0M1141 1105h0M1287 1105h0M1282 1106h0M980 1105h0M980 1104h0M1072 1105h0M1251 1105h0M1144 1107h0M957 1105h0M1033 1105h0M1006 1105h0M1354 1104h0M1001 1106h0M1052 1106h0M1210 1105h0M1147 1106h0M954 1105h0M1239 1104h0M1187 1107h0M1008 1105h0M1250 1105h0M1227 1104h0M1289 1106h0M1443 1107h0M1036 1104h0M1014 1107h0M1122 1105h0M981 1105h0M1272 1107h0M1115 1107h0M1459 1105h0M1043 1104h0M1080 1105h0M1258 1105h0M1328 1106h0M1261 1106h0M1164 1106h0M985 1106h0M1189 1106h0M1348 1106h0M980 1106h0M1368 1107h0M1117 1107h0M1124 1107h0M1395 1105h0M1283 1106h0M1325 1107h0M1039 1107h0M963 1104h0M1235 1105h0M1120 1106h0M1229 1105h0M1014 1107h0M1312 1107h0M1435 1107h0M981 1110h0M1130 1110h0M1031 1109h0M1302 1109h0M1009 1109h0M1179 1111h0M1405 1110h0M953 1111h0M1317 1108h0M1203 1111h0M1165 1109h0M1104 1111h0M1122 1108h0M1348 1109h0M1384 1110h0M1129 1110h0M1230 1109h0M1122 1109h0M953 1110h0M1324 1109h0M1064 1108h0M1005 1109h0M1254 1109h0M1368 1109h0M1204 1108h0M1201 1107h0M1416 1110h0M1247 1110h0M1447 1108h0M1440 1108h0M1271 1110h0M990 1110h0M1010 1108h0M1083 1110h0M1448 1110h0M981 1109h0M1329 1108h0M1278 1109h0M1285 1109h0M1263 1108h0M998 1108h0M1159 1111h0M1464 1108h0M1097 1110h0M1460 1111h0M1205 1109h0M1399 1108h0M1078 1108h0M1089 1108h0M1181 1111h0M1232 1109h0M1341 1108h0M1072 1110h0M1465 1108h0M968 1110h0M1395 1109h0M1125 1108h0M1218 1108h0M1136 1108h0M1451 1110h0M1333 1109h0M1363 1109h0M1136 1110h0M1435 1108h0M1192 1110h0M1323 1107h0M1284 1110h0M1165 1108h0M1342 1109h0M1079 1109h0M1004 1109h0M1355 1108h0M1081 1109h0M1166 1111h0M1395 1110h0M1299 1109h0M1110 1110h0M1101 1108h0M1085 1114h0M1279 1111h0M1258 1114h0M1107 1114h0M1219 1112h0M1058 1111h0M1220 1114h0M1222 1113h0M1230 1114h0M1320 1113h0M1056 1111h0M1389 1113h0M1213 1113h0M1344 1111h0M1214 1113h0M1410 1113h0M1373 1113h0M1377 1113h0M1463 1112h0M1439 1112h0M1263 1113h0M1194 1112h0M1158 1112h0M1316 1111h0M1253 1111h0M1053 1113h0M1211 1111h0M1029 1113h0M1288 1113h0M1121 1113h0M1122 1112h0M1110 1111h0M1442 1111h0M1207 1112h0M1438 1114h0M1443 1112h0M1220 1113h0M1390 1113h0M1166 1113h0M1155 1114h0M1424 1113h0M1072 1112h0M1376 1114h0M1208 1113h0M1030 1114h0M1442 1111h0M1157 1112h0M1082 1114h0M983 1114h0M1221 1112h0M971 1112h0M1401 1112h0M1187 1114h0M1453 1114h0M1351 1114h0M1036 1114h0M1419 1113h0M1027 1111h0M1386 1112h0M979 1111h0M1270 1113h0M963 1113h0M1063 1114h0M1122 1113h0M1425 1113h0M1122 1111h0M1280 1114h0M1118 1113h0M1095 1113h0M1227 1113h0M1057 1112h0M1030 1113h0M971 1112h0M991 1113h0M1134 1112h0M1049 1117h0M1049 1117h0M1333 1115h0M1290 1116h0M1454 1115h0M1121 1116h0M1321 1115h0M1186 1117h0M1049 1114h0M1031 1116h0M1194 1117h0M971 1116h0M1001 1115h0M1068 1116h0M1223 1117h0M1078 1116h0M1316 1116h0M1353 1115h0M1046 1115h0M962 1118h0M1037 1116h0M1251 1115h0M1411 1115h0M1413 1117h0M1260 1116h0M987 1117h0M981 1114h0M1438 1116h0M959 1115h0M1177 1115h0M1134 1116h0M1157 1115h0M964 1116h0M1264 1116h0M1332 1118h0M1231 1116h0M1290 1117h0M1389 1116h0M985 1116h0M1026 1115h0M1025 1115h0M1262 1116h0M1386 1116h0M968 1117h0M1196 1115h0M1420 1115h0M986 1117h0M1450 1117h0M974 1115h0M1269 1117h0M1278 1116h0M1356 1117h0M1238 1116h0M1212 1116h0M1291 1115h0M966 1117h0M1210 1117h0M1378 1115h0M1402 1115h0M1203 1116h0M1166 1117h0M1068 1116h0M1192 1115h0M991 1117h0M1345 1114h0M1208 1116h0M1306 1115h0M1436 1117h0M1024 1118h0M1225 1117h0M1313 1116h0M1198 1114h0M1301 1118h0M1276 1120h0M1049 1121h0M1309 1119h0M1233 1120h0M1389 1120h0M1102 1119h0M1438 1120h0M1043 1118h0M1437 1118h0M1020 1118h0M1272 1118h0M1095 1121h0M1082 1119h0M1128 1120h0M964 1119h0M978 1121h0M1437 1121h0M1185 1121h0M1347 1118h0M1172 1119h0M1028 1120h0M1332 1118h0M1261 1120h0M1409 1120h0M1320 1118h0M1299 1120h0M1141 1118h0M1142 1118h0M1291 1119h0M1461 1119h0M1121 1118h0M1430 1119h0M1361 1118h0M1408 1120h0M1218 1118h0M1256 1121h0M1048 1119h0M1458 1120h0M960 1118h0M1187 1119h0M1086 1119h0M1325 1120h0M1374 1118h0M1060 1118h0M1273 1121h0M1050 1119h0M1217 1118h0M1398 1118h0M1323 1118h0M1471 1119h0M1192 1119h0M1243 1119h0M1225 1120h0M1012 1119h0M1391 1119h0M1263 1118h0M1279 1118h0M1139 1121h0M1197 1119h0M1354 1119h0M1169 1118h0M1091 1118h0M1218 1119h0M1210 1119h0M1264 1119h0M1042 1119h0M1113 1118h0M1184 1122h0M1038 1124h0M1448 1121h0M1362 1124h0M1049 1124h0M1324 1123h0M1271 1122h0M1141 1123h0M1403 1122h0M1037 1123h0M1304 1122h0M995 1121h0M1102 1123h0M1293 1124h0M1051 1121h0M1300 1123h0M1103 1121h0M1237 1123h0M1203 1122h0M1242 1123h0M1287 1121h0M1203 1124h0M1020 1123h0M1458 1121h0M1069 1124h0M1233 1123h0M1377 1122h0M1239 1124h0M1457 1122h0M1198 1121h0M1229 1123h0M1015 1123h0M1278 1123h0M1168 1121h0M1365 1124h0M1312 1123h0M1022 1124h0M1310 1124h0M989 1124h0M1153 1121h0M1339 1123h0M971 1122h0M1211 1124h0M1101 1121h0M1462 1122h0M1372 1121h0M1215 1123h0M1256 1124h0M1087 1122h0M1239 1122h0M1324 1123h0M1156 1122h0M1119 1123h0M1183 1121h0M1047 1124h0M1446 1122h0M1185 1122h0M1150 1123h0M951 1124h0M1470 1123h0M1296 1123h0M1064 1124h0M1039 1121h0M1346 1125h0M1362 1125h0M1310 1125h0M1407 1126h0M1240 1126h0M980 1126h0M1229 1125h0M1276 1126h0M1376 1125h0M1242 1126h0M1076 1125h0M1179 1125h0M1062 1127h0M1346 1127h0M1365 1126h0M983 1125h0M1306 1128h0M1388 1126h0M1395 1127h0M1281 1127h0M1068 1127h0M1354 1126h0M1373 1127h0M1079 1127h0M1336 1126h0M1088 1125h0M1188 1127h0M1343 1127h0M1378 1126h0M1116 1126h0M1411 1125h0M1053 1127h0M1444 1127h0M1460 1127h0M1269 1127h0M1236 1127h0M1089 1127h0M1315 1126h0M963 1125h0M1409 1127h0M1393 1126h0M1121 1126h0M1155 1125h0M1120 1126h0M1032 1125h0M1421 1127h0M972 1125h0M1217 1126h0M1365 1126h0M1113 1126h0M1321 1126h0M1002 1128h0M1155 1125h0M1139 1125h0M1056 1127h0M1045 1127h0M1366 1125h0M1424 1125h0M1171 1128h0M1393 1129h0M1294 1131h0M1375 1128h0M1304 1129h0M1274 1130h0M1090 1128h0M1028 1128h0M1466 1130h0M1031 1128h0M1001 1130h0M1349 1129h0M1091 1129h0M1075 1129h0M973 1131h0M1351 1129h0M1432 1131h0M1244 1128h0M1245 1129h0M1365 1130h0M1361 1128h0M1082 1128h0M1138 1129h0M1190 1131h0M1287 1130h0M1100 1130h0M966 1130h0M1465 1128h0M1402 1129h0M1128 1129h0M1142 1131h0M1187 1129h0M990 1131h0M1216 1131h0M1068 1129h0M1240 1131h0M1386 1130h0M987 1129h0M1216 1130h0M1038 1129h0M1313 1128h0M1186 1129h0M1426 1131h0M1340 1130h0M1409 1130h0M994 1129h0M978 1128h0M1347 1131h0M1010 1130h0M1339 1131h0M1296 1130h0M1270 1131h0M993 1129h0M1132 1131h0M1440 1129h0M1042 1130h0M1081 1131h0M1357 1132h0M1230 1133h0M1333 1133h0M1165 1132h0M1071 1134h0M1294 1133h0M1411 1131h0M1398 1132h0M1147 1134h0M1137 1132h0M1448 1133h0M1197 1133h0M1006 1132h0M1226 1134h0M1429 1134h0M1401 1134h0M1302 1133h0M1011 1133h0M1390 1132h0M1014 1132h0M1417 1134h0M1101 1132h0M1328 1132h0M1097 1134h0M1027 1133h0M1452 1131h0M1261 1131h0M1272 1131h0M1240 1133h0M1350 1132h0M1020 1134h0M1287 1133h0M1211 1134h0M1232 1132h0M1198 1133h0M1196 1132h0M1115 1132h0M1141 1132h0M1312 1133h0M955 1132h0M951 1133h0M1088 1134h0M1290 1133h0M1362 1133h0M1335 1134h0M988 1133h0M1390 1132h0M1149 1134h0M1435 1132h0M1210 1133h0M1253 1132h0M1396 1135h0M1399 1138h0M992 1137h0M1089 1135h0M1197 1138h0M1261 1135h0M1254 1137h0M1040 1137h0M1193 1135h0M1291 1136h0M1101 1137h0M960 1135h0M1268 1135h0M964 1137h0M1027 1135h0M1154 1136h0M1201 1135h0M1351 1134h0M1283 1136h0M1071 1135h0M1432 1137h0M1094 1135h0M1351 1135h0M1044 1137h0M1248 1137h0M1000 1135h0M1464 1137h0M1139 1135h0M1000 1135h0M1272 1135h0M1317 1135h0M953 1134h0M966 1137h0M1383 1136h0M1354 1136h0M1033 1135h0M1144 1136h0M1379 1137h0M1157 1137h0M1111 1136h0M1308 1137h0M1329 1137h0M1083 1137h0M1337 1137h0M1096 1136h0M1128 1137h0M1224 1136h0M1143 1139h0M1206 1139h0M1217 1140h0M994 1140h0M1135 1138h0M1300 1140h0M1309 1140h0M1043 1139h0M1071 1138h0M1298 1138h0M1386 1139h0M1181 1141h0M1116 1141h0M1322 1140h0M1375 1139h0M1144 1140h0M1041 1140h0M1007 1141h0M1441 1139h0M1126 1140h0M1447 1139h0M1184 1139h0M1007 1141h0M1288 1140h0M1384 1138h0M1104 1140h0M1043 1140h0M1218 1139h0M992 1140h0M1008 1140h0M1402 1138h0M1291 1140h0M1263 1139h0M1080 1141h0M1352 1138h0M1061 1139h0M1178 1138h0M1417 1140h0M1113 1139h0M1039 1138h0M1080 1141h0M1233 1138h0M1117 1141h0M1341 1143h0M1366 1141h0M1419 1142h0M1279 1144h0M1319 1142h0M1288 1143h0M1289 1143h0M1430 1144h0M1154 1144h0M1306 1142h0M1310 1143h0M1041 1143h0M1233 1143h0M1378 1143h0M1418 1142h0M1401 1144h0M955 1142h0M1408 1142h0M1438 1141h0M1378 1144h0M1269 1143h0M1232 1142h0M1114 1143h0M1161 1143h0M978 1144h0M1458 1142h0M1341 1143h0M1352 1142h0M1383 1143h0M1272 1143h0M971 1143h0M1327 1142h0M1177 1143h0M1055 1144h0M1084 1143h0M1243 1142h0M951 1145h0M1355 1147h0M1323 1147h0M1316 1147h0M1058 1147h0M1320 1146h0M1365 1145h0M1377 1147h0M1024 1147h0M1329 1146h0M1366 1146h0M1419 1144h0M992 1147h0M1210 1146h0M1116 1147h0M1466 1146h0M1356 1146h0M1194 1146h0M1386 1145h0M974 1147h0M1409 1147h0M1137 1145h0M990 1145h0M1240 1145h0M1175 1147h0M1195 1146h0M1036 1147h0M964 1146h0M1217 1147h0M1149 1147h0M1218 1147h0M1223 1147h0M1015 1151h0M999 1148h0M1143 1150h0M1275 1148h0M1274 1150h0M1314 1150h0M1126 1148h0M1012 1148h0M1200 1150h0M1232 1150h0M1134 1148h0M1257 1150h0M1145 1148h0M1427 1148h0M1293 1149h0M1177 1151h0M1062 1150h0M1428 1150h0M1465 1150h0M992 1149h0M999 1149h0M1194 1149h0M1420 1151h0M1321 1149h0M1404 1148h0M973 1151h0M1228 1151h0M1304 1149h0M1339 1154h0M1226 1152h0M1162 1152h0M1386 1152h0M1237 1152h0M990 1154h0M1298 1153h0M1118 1154h0M1195 1152h0M977 1153h0M1290 1153h0M1018 1152h0M1188 1151h0M966 1153h0M1008 1153h0M1067 1154h0M1119 1152h0M1136 1153h0M1262 1154h0M1115 1154h0M1066 1154h0M1382 1153h0M1073 1151h0M1122 1153h0M1077 1157h0M1177 1155h0M1465 1155h0M1009 1155h0M973 1156h0M957 1157h0M1061 1155h0M1390 1155h0M1359 1158h0M1382 1155h0M1040 1157h0M990 1156h0M1273 1157h0M1259 1156h0M1115 1157h0M1330 1157h0M1182 1157h0M1156 1155h0M1266 1155h0M1470 1159h0M1444 1161h0M1124 1161h0M1434 1160h0M1103 1159h0M1305 1160h0M1427 1159h0M1328 1158h0M1397 1159h0M1325 1158h0M1162 1159h0M1204 1159h0M1466 1160h0M1147 1158h0M1058 1160h0M1323 1159h0M1058 1163h0M1194 1162h0M1198 1161h0M1248 1163h0M1234 1164h0M1393 1163h0M1186 1162h0M1129 1164h0M985 1161h0M1150 1162h0M1291 1164h0M1306 1163h0M1220 1162h0M1322 1165h0M1060 1165h0M965 1166h0M1306 1165h0M1251 1166h0M1023 1165h0M1352 1167h0M1104 1166h0M1177 1166h0M1119 1166h0M1031 1165h0M1221 1170h0M1250 1169h0M1284 1169h0M1435 1169h0M1022 1169h0M1112 1170h0M1335 1171h0M1201 1170h0M1290 1168h0M995 1171h0M1149 1171h0M1060 1174h0M1142 1173h0M1317 1172h0M995 1172h0M1088 1172h0M1208 1173h0M1089 1177h0M963 1177h0M1172 1177h0M953 1174h0M1448 1176h0M1210 1174h0M1135 1181h0M1006 1179h0M1397 1181h0M1410 1178h0M1390 1184h0M1326 1182h0M1213 1182h0M1251 1187h0M1407 1185h0M1471 1061h0M1471 1063h0M1470 1065h0M1472 1067h0M1471 1071h0M1471 1072h0M1471 1075h0M1471 1088h0M1471 1094h0M1469 1097h0M1470 1099h0M1471 1104h0M1472 1110h0M1470 1113h0M1471 1129h0M1471 1132h0M1471 1135h0M1470 1140h0M1471 1144h0M1470 1149h0M1471 1152h0"/></defs>
<use href="#d13" stroke="#f40a0a" stroke-width="7" opacity="0.32"/>
<use href="#d13" stroke="#f40a0a" stroke-width="4.4"/>
<defs><path id="d14" d="M957 866h0M1268 866h0M1332 866h0M1235 1037h0M973 1040h0M1097 1039h0M1351 1043h0M985 1041h0M1184 1041h0M1167 1044h0M1434 1046h0M965 1046h0M1329 1044h0M965 1044h0M1013 1047h0M1324 1048h0M1229 1047h0M1014 1048h0M1221 1048h0M1330 1053h0M1294 1051h0M1259 1051h0M1424 1051h0M1270 1053h0M1021 1054h0M1100 1055h0M1115 1054h0M1342 1054h0M1052 1055h0M1008 1056h0M1421 1058h0M1220 1058h0M1388 1058h0M1283 1060h0M1182 1057h0M1318 1058h0M1289 1060h0"/></defs>
<use href="#d14" stroke="#ffffff" stroke-width="5.4" opacity="0.3"/>
<use href="#d14" stroke="#ffffff" stroke-width="3.4"/>
<path d="M950 934V933H955V934H960V934H965V933H970V933H975V933H980V933H985V934H990V933H995V933H1000V934H1005V932H1010V933H1015V933H1020V934H1025V934H1030V933H1035V933H1040V933H1045V934H1050V933H1055V933H1060V934H1065V934H1070V932H1075V934H1080V933H1085V933H1090V933H1095V934H1100V933H1105V933H1110V934H1115V933H1120V933H1125V933H1130V934H1135V933H1140V934H1145V933H1150V934H1155V933H1160V933H1165V933H1170V933H1175V934H1180V933H1185V933H1190V933H1195V932H1200V932H1205V933H1210V933H1215V933H1220V934H1225V934H1230V934H1235V934H1240V933H1245V934H1250V934H1255V934H1260V933H1265V933H1270V933H1275V933H1280V934H1285V933H1290V932H1295V933H1300V934H1305V932H1310V933H1315V933H1320V934H1325V934H1330V933H1335V933H1340V934H1345V933H1350V932H1355V934H1360V933H1365V934H1370V932H1375V933H1380V934H1385V934H1390V934H1395V932H1400V933H1405V934H1410V934H1415V933H1420V933H1425V934H1430V934H1435V933H1440V933H1445V934H1450V933H1455V934H1460V933H1465V934H1470V933H1473V991V992H1468V992H1463V992H1458V992H1453V993H1448V993H1443V992H1438V993H1433V992H1428V992H1423V991H1418V992H1413V993H1408V991H1403V992H1398V991H1393V992H1388V992H1383V992H1378V991H1373V991H1368V993H1363V993H1358V993H1353V991H1348V994H1343V993H1338V992H1333V992H1328V992H1323V994H1318V993H1313V991H1308V992H1303V992H1298V992H1293V992H1288V993H1283V992H1278V993H1273V993H1268V993H1263V993H1258V993H1253V993H1248V993H1243V991H1238V991H1233V991H1228V991H1223V991H1218V992H1213V992H1208V992H1203V992H1198V993H1193V992H1188V993H1183V993H1178V991H1173V993H1168V992H1163V993H1158V992H1153V991H1148V993H1143V992H1138V994H1133V991H1128V993H1123V993H1118V993H1113V993H1108V991H1103V993H1098V992H1093V991H1088V994H1083V991H1078V991H1073V992H1068V993H1063V993H1058V993H1053V992H1048V992H1043V991H1038V993H1033V992H1028V992H1023V991H1018V992H1013V993H1008V991H1003V992H998V993H993V993H988V992H983V991H978V994H973V994H968V993H963V993H958V994H953V991H950Z" fill="#0000fe" stroke="none"/>
<defs><path id="d15" d="M1138 931h0M1264 932h0M1262 932h0M1251 932h0M1344 932h0M1448 931h0M1260 931h0M1376 932h0M1350 931h0M1028 931h0M1464 932h0M1387 932h0M1259 932h0M1429 934h0M1156 933h0M1263 933h0M1094 933h0M1417 934h0M1119 933h0M995 934h0M1273 934h0M1336 934h0M1302 934h0M1234 934h0M1180 933h0M1097 933h0M1454 934h0M1199 934h0M1460 933h0M1326 933h0M1197 933h0M1075 934h0M1365 933h0M1188 933h0M1069 933h0M1313 934h0M1401 933h0M1292 933h0M1053 933h0M1095 933h0M1077 934h0M957 933h0M1005 934h0M1425 933h0M1160 933h0M1137 933h0M1069 934h0M1052 934h0M1361 934h0M1246 933h0M1145 933h0M984 934h0M1135 934h0M1421 934h0M1082 934h0M1070 934h0M1270 933h0M1334 934h0M990 934h0M1115 933h0M954 933h0M1261 933h0M1296 933h0M1108 933h0M1272 934h0M985 933h0M1316 933h0M1159 934h0M1280 933h0M1379 934h0M997 992h0M1059 992h0M1036 991h0M1342 992h0M1343 992h0M966 992h0M1139 992h0M1346 991h0M998 992h0M1043 992h0M1264 992h0M1186 991h0M1255 992h0M1063 992h0M1378 992h0M982 992h0M1383 991h0M1275 992h0M989 992h0M1215 991h0M1252 992h0M1072 992h0M1146 992h0M1392 992h0M1133 992h0M983 992h0M1046 991h0M1272 991h0M1231 991h0M1189 991h0M1114 992h0M1159 992h0M1067 992h0M1086 992h0M1101 992h0M1163 992h0M1421 991h0M1444 991h0M1015 991h0M1212 992h0M1391 992h0M1022 991h0M955 991h0M1258 992h0M1123 992h0M983 992h0M1120 992h0M1146 992h0M1181 991h0M1150 992h0M1048 992h0M1097 992h0M1207 992h0M1039 991h0M1185 991h0M1143 991h0M1359 991h0M1383 992h0M1128 991h0M1254 992h0M996 992h0M1213 992h0M1073 992h0M1068 991h0M1382 991h0M1296 991h0M1214 991h0M1287 992h0M1060 991h0M1029 992h0M1214 991h0M1038 991h0M1275 991h0M951 992h0M1240 992h0M955 991h0M1262 992h0M1430 992h0M963 992h0M967 992h0M1454 991h0M1105 992h0M1295 992h0M985 991h0M1154 991h0M1341 991h0M1109 991h0M1113 992h0M1326 992h0M961 992h0M1065 992h0M1372 991h0M957 992h0M1044 993h0M1292 995h0M1121 993h0M1048 995h0M1007 994h0M1344 995h0M1314 993h0M1129 994h0M1278 993h0M1258 996h0M1455 994h0M1172 993h0M1196 995h0M1153 994h0M1316 995h0M952 996h0M1236 995h0M1338 995h0M1012 993h0M1218 993h0M953 994h0M1362 993h0M1447 993h0M1446 995h0M1111 994h0M1225 994h0M1352 995h0M1350 994h0M1403 993h0M1124 995h0M1202 993h0M1350 995h0M1271 993h0M1374 995h0M1388 994h0M1210 994h0M1300 994h0M1039 994h0M1009 993h0M1369 993h0M1382 995h0M1416 995h0M1249 993h0M1027 995h0M1381 993h0M1453 995h0M1359 995h0M1124 994h0M1089 993h0M1249 994h0M1379 994h0M1006 993h0M1207 996h0M1411 995h0M1351 993h0M1355 995h0M1066 993h0M1308 993h0M1213 993h0M1280 993h0M1449 995h0M978 993h0M1449 995h0M1359 994h0M1372 995h0M1380 993h0M994 994h0M1259 996h0M1230 993h0M965 993h0M1444 993h0M1291 996h0M1205 996h0M1273 994h0M1149 993h0M1061 993h0M1309 995h0M951 994h0M971 995h0M1117 995h0M1033 996h0M1295 995h0M1386 994h0M977 995h0M1262 995h0M1243 994h0M1055 993h0M1004 994h0M1332 993h0M1182 995h0M999 993h0M1464 995h0M1021 996h0M1182 993h0M1407 994h0M1075 994h0M1457 993h0M1263 994h0M964 993h0M1111 995h0M1316 993h0M1276 995h0M1039 994h0M1249 995h0M1062 995h0M1244 996h0M1062 993h0M1021 995h0M1167 994h0M1306 993h0M1284 993h0M1313 996h0M1038 995h0M1023 995h0M1169 993h0M1128 995h0M1375 994h0M1305 994h0M1285 994h0M1060 993h0M957 996h0M1086 995h0M1405 994h0M1354 993h0M1297 995h0M1227 995h0M1000 994h0M1325 995h0M1008 994h0M967 994h0M970 996h0M1279 995h0M996 994h0M1031 994h0M1254 995h0M1458 994h0M1367 995h0M1428 993h0M1355 993h0M1256 996h0M1133 998h0M1131 998h0M1008 996h0M984 997h0M1233 997h0M1134 999h0M1328 999h0M1430 997h0M1040 998h0M1367 997h0M1146 996h0M1381 997h0M1184 998h0M977 997h0M1125 999h0M988 998h0M1238 997h0M1391 999h0M1130 999h0M1248 998h0M1165 997h0M971 998h0M1188 998h0M1192 999h0M1048 999h0M1212 997h0M1155 999h0M1234 997h0M1078 998h0M1257 997h0M1159 998h0M1203 998h0M1099 997h0M1085 996h0M1359 997h0M1006 999h0M1081 996h0M1281 999h0M1191 996h0M1336 997h0M1349 999h0M952 997h0M1373 999h0M1086 999h0M1121 998h0M1216 997h0M1219 997h0M1105 999h0M1153 998h0M1114 998h0M1246 996h0M1295 998h0M1327 996h0M1085 997h0M1111 999h0M1368 997h0M1114 997h0M1407 996h0M1301 999h0M1122 999h0M1129 997h0M1122 997h0M1180 996h0M1397 999h0M1419 997h0M1229 996h0M1025 999h0M1085 998h0M1394 997h0M1379 998h0M1396 997h0M1234 999h0M1422 997h0M965 996h0M1072 997h0M1331 999h0M1107 998h0M1195 999h0M1076 998h0M1288 999h0M1358 999h0M1014 998h0M1070 998h0M1000 999h0M1108 998h0M1312 999h0M1249 996h0M1104 999h0M1271 999h0M1175 998h0M990 999h0M1425 998h0M985 997h0M1227 999h0M1054 997h0M1354 998h0M1460 997h0M1319 999h0M1179 999h0M1094 996h0M1186 998h0M1372 999h0M1366 1002h0M1179 1002h0M1329 1000h0M1147 1000h0M1384 1003h0M1060 1001h0M956 1001h0M1124 1001h0M1170 1000h0M1100 1002h0M1113 1002h0M1086 1002h0M983 1001h0M1431 1000h0M1387 999h0M1266 1002h0M978 1002h0M1423 1002h0M1199 1002h0M1173 1001h0M964 1001h0M1273 1001h0M977 1001h0M1257 1003h0M1349 1002h0M1359 1003h0M1389 1003h0M1018 1001h0M1430 1001h0M1142 999h0M1434 1002h0M1166 1002h0M1173 1001h0M1314 999h0M996 1001h0M1126 1002h0M1418 999h0M1306 1002h0M1097 1001h0M1268 1003h0M1277 1001h0M1315 999h0M1043 1000h0M1129 1000h0M1351 1002h0M1408 1000h0M1022 1002h0M1448 1000h0M1016 1001h0M1243 1000h0M1450 1001h0M1317 1002h0M1167 1000h0M988 1000h0M1188 1002h0M954 1001h0M1247 1001h0M1242 1000h0M1216 999h0M1309 1000h0M1226 1001h0M1324 1001h0M1054 1000h0M1257 1001h0M1273 1002h0M1386 1001h0M1067 1000h0M1440 1000h0M1411 1001h0M1182 1001h0M1163 1001h0M1141 1000h0M1050 1000h0M1358 1001h0M1004 1002h0M1366 1000h0M1203 1002h0M959 1002h0M1078 1001h0M1432 1000h0M1125 1003h0M1049 1001h0M1322 1002h0M1084 1000h0M1214 1000h0M1088 1001h0M1032 1002h0M1046 1005h0M1371 1004h0M1088 1005h0M960 1003h0M988 1006h0M1103 1005h0M1129 1003h0M1277 1004h0M960 1004h0M1349 1004h0M1259 1003h0M1376 1005h0M1114 1004h0M1389 1003h0M1470 1003h0M1099 1005h0M1253 1005h0M1011 1005h0M1390 1004h0M1050 1003h0M1048 1005h0M1209 1005h0M957 1005h0M999 1004h0M995 1005h0M1395 1005h0M1194 1005h0M1128 1004h0M1353 1003h0M1362 1003h0M1177 1004h0M1050 1005h0M994 1003h0M1383 1003h0M1363 1006h0M1054 1006h0M1414 1005h0M984 1004h0M1466 1005h0M1290 1005h0M1040 1005h0M1206 1004h0M1465 1006h0M1065 1004h0M1211 1004h0M1234 1004h0M1370 1005h0M1058 1004h0M1470 1003h0M1230 1004h0M983 1004h0M1427 1006h0M1188 1003h0M1391 1004h0M1289 1003h0M1410 1004h0M1127 1005h0M1398 1004h0M1223 1006h0M1280 1004h0M1397 1004h0M1385 1004h0M1412 1004h0M1454 1005h0M1103 1003h0M1366 1003h0M1250 1003h0M1223 1005h0M973 1004h0M1084 1005h0M1322 1004h0M1284 1003h0M981 1005h0M1206 1004h0M1081 1005h0M1431 1004h0M1006 1005h0M991 1003h0M992 1008h0M1050 1009h0M1106 1007h0M1326 1008h0M1018 1008h0M1026 1009h0M1039 1009h0M1326 1007h0M1371 1006h0M1140 1009h0M972 1008h0M1112 1007h0M1368 1008h0M1352 1008h0M1454 1007h0M1203 1008h0M1073 1006h0M1427 1009h0M1093 1007h0M1371 1006h0M1033 1007h0M1131 1006h0M1034 1008h0M1100 1006h0M1045 1009h0M1200 1008h0M1462 1008h0M1041 1007h0M1273 1008h0M1124 1006h0M1138 1008h0M981 1007h0M1065 1007h0M1428 1006h0M1101 1006h0M1453 1006h0M1099 1009h0M1338 1008h0M1367 1006h0M1284 1007h0M1456 1006h0M1340 1008h0M1288 1007h0M1289 1007h0M1359 1009h0M1165 1008h0M1046 1009h0M1251 1007h0M1156 1006h0M1101 1006h0M1466 1007h0M1193 1006h0M965 1006h0M1465 1007h0M1330 1007h0M1355 1007h0M1457 1008h0M1098 1007h0M1011 1007h0M1308 1009h0M1265 1009h0M1076 1008h0M1265 1007h0M1079 1007h0M960 1008h0M1433 1007h0M1434 1008h0M1296 1006h0M1213 1006h0M1307 1008h0M1092 1011h0M1320 1012h0M1437 1012h0M1291 1010h0M1154 1011h0M995 1009h0M1388 1011h0M1133 1012h0M1318 1010h0M1247 1011h0M1181 1012h0M1102 1011h0M1441 1010h0M1226 1011h0M1184 1013h0M1305 1010h0M1445 1012h0M993 1012h0M1205 1009h0M1391 1013h0M1418 1011h0M971 1011h0M1227 1011h0M1300 1013h0M1236 1012h0M1250 1012h0M1048 1012h0M1035 1012h0M1114 1010h0M1220 1011h0M1236 1013h0M1085 1010h0M1141 1012h0M996 1011h0M1173 1010h0M1071 1012h0M1238 1011h0M1180 1011h0M1365 1010h0M1009 1012h0M1011 1011h0M1021 1012h0M1399 1010h0M1284 1011h0M1003 1010h0M1323 1010h0M1098 1011h0M1212 1011h0M1399 1010h0M1142 1010h0M1048 1011h0M1111 1011h0M982 1010h0M1270 1013h0M1282 1011h0M1417 1010h0M1409 1009h0M1221 1012h0M1148 1011h0M1152 1010h0M1210 1011h0M1366 1010h0M1427 1013h0M1429 1015h0M1227 1013h0M1191 1015h0M957 1015h0M1268 1015h0M1195 1016h0M1357 1014h0M1398 1014h0M1164 1013h0M1185 1013h0M1238 1013h0M988 1015h0M1245 1014h0M1049 1016h0M962 1013h0M1160 1013h0M1160 1016h0M1443 1013h0M1061 1014h0M1108 1013h0M1310 1013h0M1165 1013h0M1385 1014h0M1015 1015h0M1064 1014h0M1148 1014h0M1201 1013h0M1096 1015h0M1182 1013h0M1269 1015h0M1279 1014h0M1229 1014h0M1417 1014h0M1324 1015h0M1179 1013h0M1154 1015h0M1143 1013h0M1181 1015h0M1445 1015h0M1044 1013h0M1298 1014h0M1124 1016h0M1461 1016h0M1348 1014h0M1066 1014h0M1095 1015h0M1056 1016h0M1148 1014h0M1445 1015h0M1316 1013h0M1433 1014h0M965 1014h0M1464 1014h0M1248 1014h0M1352 1018h0M1070 1017h0M1096 1019h0M1116 1019h0M1412 1018h0M1205 1019h0M1436 1018h0M1319 1019h0M971 1017h0M1349 1018h0M1214 1017h0M1372 1019h0M984 1017h0M1167 1017h0M1359 1019h0M1374 1016h0M1054 1017h0M1358 1016h0M1429 1016h0M1056 1017h0M1452 1017h0M1062 1017h0M1296 1016h0M1021 1019h0M1287 1017h0M1330 1019h0M984 1019h0M985 1019h0M1249 1019h0M1468 1017h0M1005 1017h0M1298 1019h0M1471 1017h0M983 1018h0M1241 1019h0M1172 1016h0M1296 1019h0M1377 1018h0M1051 1018h0M1013 1018h0M1394 1019h0M1150 1017h0M1449 1018h0M1230 1018h0M974 1019h0M1244 1019h0M1039 1018h0M1364 1020h0M1032 1020h0M1192 1020h0M1144 1022h0M1126 1019h0M1021 1022h0M957 1020h0M985 1021h0M1331 1022h0M1093 1021h0M1458 1022h0M1264 1019h0M1127 1019h0M1002 1021h0M1021 1021h0M1304 1020h0M1245 1019h0M1068 1020h0M1295 1021h0M1415 1021h0M1303 1022h0M1399 1022h0M1274 1021h0M1394 1022h0M1061 1021h0M1447 1022h0M996 1021h0M1411 1021h0M1184 1020h0M1452 1022h0M1057 1021h0M1260 1021h0M1066 1021h0M1271 1022h0M1185 1022h0M1019 1022h0M1187 1021h0M1203 1022h0M1030 1021h0M1260 1020h0M1344 1023h0M1416 1025h0M981 1026h0M1018 1023h0M1414 1026h0M1202 1024h0M1110 1024h0M1373 1024h0M1135 1026h0M1291 1025h0M1254 1024h0M1450 1023h0M1145 1026h0M953 1025h0M1191 1025h0M1442 1023h0M1038 1026h0M1266 1023h0M1015 1023h0M1090 1025h0M1023 1025h0M1177 1025h0M1325 1025h0M1406 1026h0M1301 1026h0M1186 1024h0M1000 1025h0M1054 1024h0M1224 1023h0M1328 1024h0M1402 1026h0M965 1028h0M1412 1029h0M1135 1029h0M1005 1029h0M1013 1027h0M1126 1028h0M1385 1026h0M1036 1026h0M1084 1027h0M1454 1028h0M1081 1027h0M1310 1029h0M1214 1027h0M1215 1029h0M1413 1026h0M1143 1026h0M1449 1026h0M1378 1028h0M1457 1026h0M1264 1027h0M1285 1027h0M959 1026h0M980 1028h0M1012 1027h0M1276 1027h0M1389 1031h0M1202 1031h0M1315 1031h0M1315 1032h0M986 1031h0M1382 1033h0M1093 1029h0M1139 1031h0M1085 1030h0M1331 1029h0M1204 1030h0M1465 1031h0M1271 1031h0M1037 1032h0M1001 1030h0M1393 1031h0M1140 1030h0M1066 1032h0M1123 1031h0M1382 1034h0M1063 1033h0M1026 1033h0M1402 1035h0M1219 1034h0M1130 1033h0M1091 1033h0M1202 1035h0M1412 1035h0M1258 1034h0M1270 1036h0M1405 1033h0M1166 1035h0M1472 1039h0M963 1039h0M1200 1036h0M1292 1037h0M1397 1037h0M1390 1038h0M1224 1039h0M1423 1038h0M997 1039h0M1089 1038h0M970 1043h0M1003 1042h0M1349 1042h0M1389 1041h0M988 1041h0M1241 1041h0M1357 1042h0M1349 1046h0M1028 1043h0M1100 1043h0M1200 1043h0M1231 1043h0M1146 1047h0M1240 1047h0M1098 1049h0M1101 1050h0M1225 1051h0M1162 1053h0"/></defs>
<use href="#d15" stroke="#1206f2" stroke-width="7" opacity="0.32"/>
<use href="#d15" stroke="#1206f2" stroke-width="4.4"/>
<defs><path id="d16" d="M1015 990h0M1111 990h0"/></defs>
<use href="#d16" stroke="#f40a0a" stroke-width="5.4" opacity="0.3"/>
<use href="#d16" stroke="#f40a0a" stroke-width="3.4"/>
</g>
<g fill="#7a7a7a" font-weight="bold" font-size="16.3">
<text x="451.5" y="374.0" text-anchor="end">0.4</text>
<text x="451.9" y="430.2" text-anchor="end">0.2</text>
<text x="448.9" y="486.1" text-anchor="end">0</text>
<text x="455.0" y="543.7" text-anchor="end">-0.2</text>
<text x="454.4" y="602.0" text-anchor="end">-0.4</text>
<text x="476.2" y="625.6" text-anchor="middle">0</text>
<text x="526.3" y="625.6" text-anchor="middle">1</text>
<text x="576.5" y="625.6" text-anchor="middle">2</text>
<text x="629.3" y="625.6" text-anchor="middle">3</text>
<text x="678.3" y="625.6" text-anchor="middle">4</text>
<text x="729.2" y="625.6" text-anchor="middle">5</text>
<text x="778.5" y="625.6" text-anchor="middle">6</text>
</g>
<text x="631.0" y="640.5" text-anchor="middle" fill="#7a7a7a" font-weight="bold" font-size="15.7">Point ID</text>
<text x="737.7" y="644.7" fill="#9c9c9c" font-size="12">x</text>
<text transform="translate(749.6 644.7) scale(0.92 1)" fill="#7a7a7a" font-weight="bold" font-size="14">10<tspan dy="-3.4" dx="0.8" font-size="9">4</tspan></text>
<text transform="translate(414.2 476.0) rotate(-90)" text-anchor="middle" fill="#7a7a7a" font-weight="bold" font-size="19.5" textLength="64.5" lengthAdjust="spacing">ν<tspan font-size="12" dy="1">z</tspan><tspan dy="-2.2" font-size="17.5"> (</tspan><tspan dy="1.2"> m </tspan><tspan dy="-1.2" font-size="17.5">)</tspan></text>
<text x="626.6" y="355.6" text-anchor="middle" fill="#0a0a0a" font-weight="bold" font-size="13">Pagoda D</text>
<text x="631.0" y="674.9" text-anchor="middle" fill="#111" font-size="22.3" letter-spacing="1.9">(d)</text>
<rect x="703.8" y="373.8" width="66.5" height="35.2" rx="1.5" fill="#fff" stroke="#8c8c8c" stroke-width="1.3"/>
<rect x="719.7" y="380.8" width="9" height="7.6" fill="#fe0000"/>
<rect x="719.7" y="394.5" width="9" height="7.6" fill="#0000fe"/>
<g fill="#4a4a4a" font-weight="bold" font-size="10.5">
<text x="742.7" y="389.1" textLength="22" lengthAdjust="spacingAndGlyphs">CCF</text>
<text x="742.7" y="403.9" textLength="22" lengthAdjust="spacingAndGlyphs">HPF</text>
</g>
</g>
</g>
</svg>
</body></html>
